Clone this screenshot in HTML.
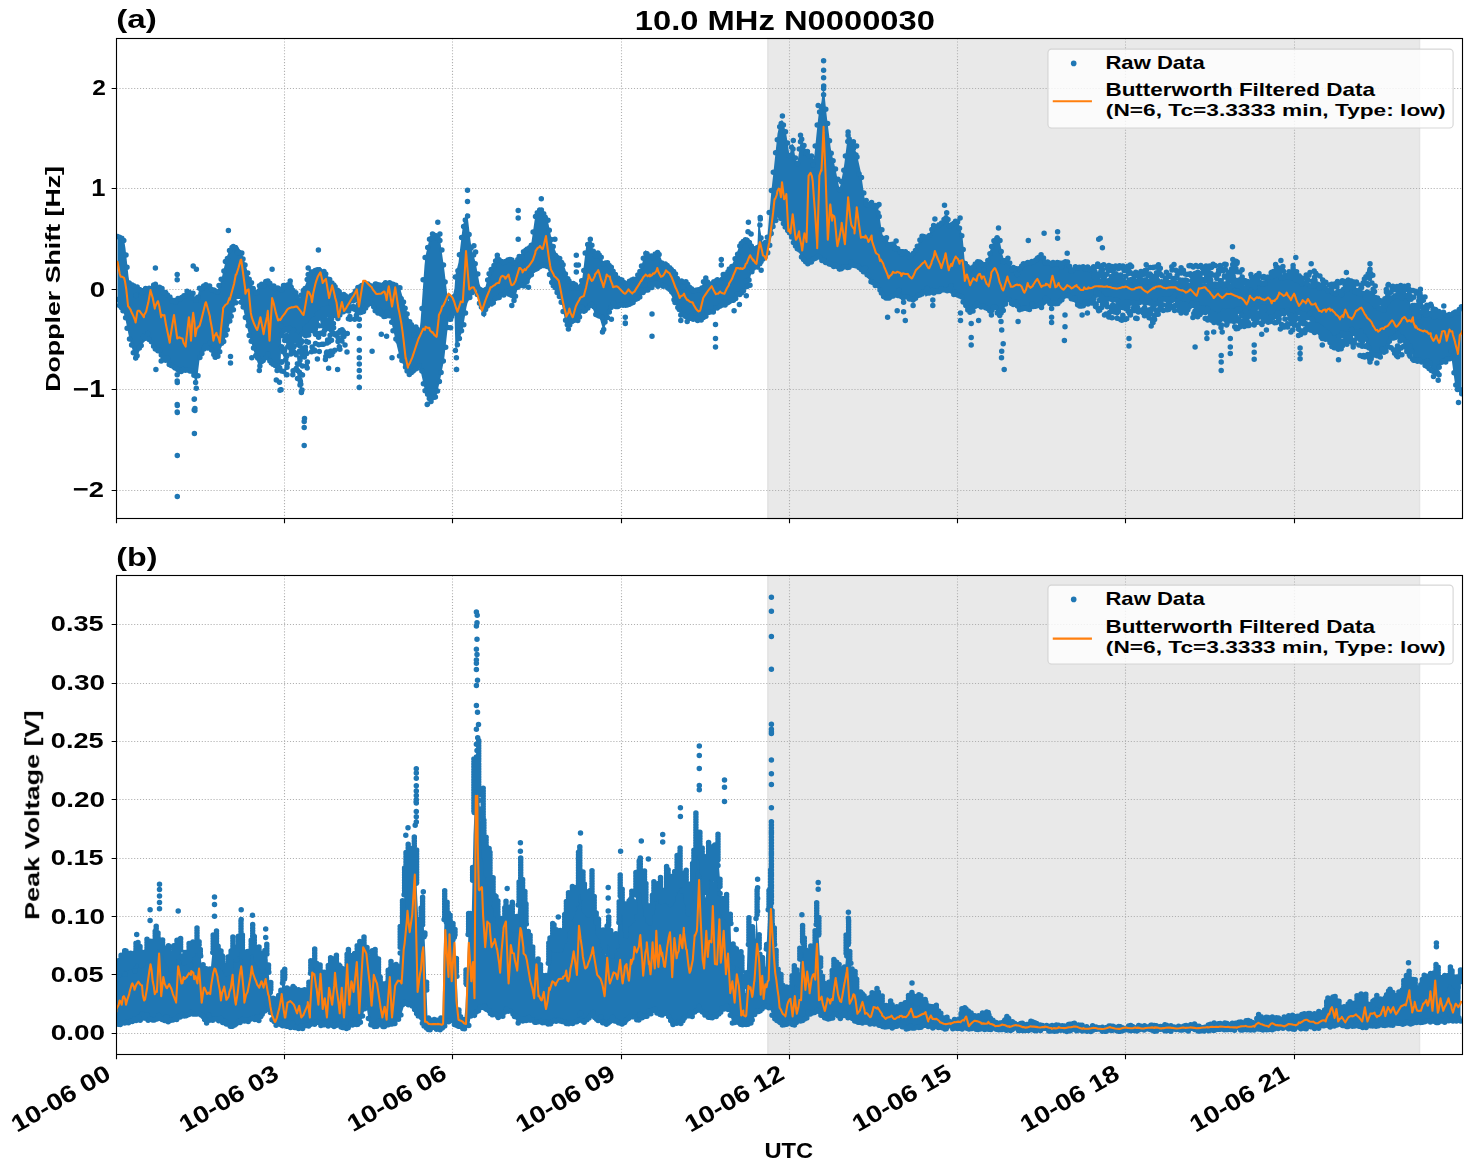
<!DOCTYPE html><html><head><meta charset="utf-8"><title>10.0 MHz N0000030</title><style>html,body{margin:0;padding:0;background:#fff;}svg{display:block;font-family:"Liberation Sans",sans-serif;}</style></head><body><svg width="1472" height="1172" viewBox="0 0 1472 1172"><defs><clipPath id="ca"><rect x="116.5" y="38.5" width="1346.0" height="480.0"/></clipPath><clipPath id="cb"><rect x="116.5" y="575.5" width="1346.0" height="479.0"/></clipPath></defs><rect width="1472" height="1172" fill="#fff"/><rect x="767.7" y="38.5" width="651.9" height="480.0" fill="#d3d3d3" fill-opacity="0.5" stroke="#d3d3d3" stroke-opacity="0.5" stroke-width="1.39"/><rect x="767.7" y="575.5" width="651.9" height="479.0" fill="#d3d3d3" fill-opacity="0.5" stroke="#d3d3d3" stroke-opacity="0.5" stroke-width="1.39"/><path d="M284.5,38.5V518.5M452.5,38.5V518.5M621.5,38.5V518.5M789.5,38.5V518.5M957.5,38.5V518.5M1125.5,38.5V518.5M1294.5,38.5V518.5M116.5,88.5H1462.5M116.5,188.5H1462.5M116.5,289.5H1462.5M116.5,389.5H1462.5M116.5,490.5H1462.5M284.5,575.5V1054.5M452.5,575.5V1054.5M621.5,575.5V1054.5M789.5,575.5V1054.5M957.5,575.5V1054.5M1125.5,575.5V1054.5M1294.5,575.5V1054.5M116.5,1033.5H1462.5M116.5,974.5H1462.5M116.5,916.5H1462.5M116.5,858.5H1462.5M116.5,799.5H1462.5M116.5,741.5H1462.5M116.5,683.5H1462.5M116.5,624.5H1462.5" stroke="#b0b0b0" stroke-width="1.11" stroke-dasharray="1.11,1.83" fill="none"/><g clip-path="url(#ca)"><path d="M117.5,235.7L118.5,235.9L119.5,236.2L120.5,236.4L121.5,236.7L122.5,238.3L123.5,240.3L124.5,242.3L125.5,248.4L126.5,257.7L127.5,266.9L128.5,276.2L129.5,282.7L130.5,283.2L131.5,283.7L132.5,284.2L133.5,284.7L134.5,285.2L135.5,285.7L136.5,286.1L137.5,286.4L138.5,286.7L139.5,287.1L140.5,287.4L141.5,287.7L142.5,288.0L143.5,288.2L144.5,288.3L145.5,288.5L146.5,288.7L147.5,288.8L148.5,288.9L149.5,288.1L150.5,287.2L151.5,286.4L152.5,285.6L153.5,284.7L154.5,283.9L155.5,284.1L156.5,284.8L157.5,285.5L158.5,286.1L159.5,286.8L160.5,287.5L161.5,288.2L162.5,289.2L163.5,290.2L164.5,291.2L165.5,292.2L166.5,293.2L167.5,294.2L168.5,294.9L169.5,295.6L170.5,296.3L171.5,296.9L172.5,297.6L173.5,298.3L174.5,298.6L175.5,298.6L176.5,298.6L177.5,298.6L178.5,298.6L179.5,298.6L180.5,298.4L181.5,297.1L182.5,295.7L183.5,294.4L184.5,293.1L185.5,291.7L186.5,290.4L187.5,290.3L188.5,290.6L189.5,291.0L190.5,291.3L191.5,291.6L192.5,292.0L193.5,293.0L194.5,295.7L195.5,298.4L196.5,300.2L197.5,296.2L198.5,292.2L199.5,288.2L200.5,287.3L201.5,286.6L202.5,286.0L203.5,285.3L204.5,284.6L205.5,284.0L206.5,284.0L207.5,284.7L208.5,285.3L209.5,286.0L210.5,286.7L211.5,287.3L212.5,288.0L213.5,289.0L214.5,290.0L215.5,291.0L216.5,292.0L217.5,290.0L218.5,287.5L219.5,285.0L220.5,282.5L221.5,278.9L222.5,274.5L223.5,270.1L224.5,265.7L225.5,261.3L226.5,257.4L227.5,255.0L228.5,252.6L229.5,250.2L230.5,247.8L231.5,245.4L232.5,245.4L233.5,245.6L234.5,245.7L235.5,245.9L236.5,246.1L237.5,246.2L238.5,247.3L239.5,249.0L240.5,250.8L241.5,252.5L242.5,254.7L243.5,258.0L244.5,261.4L245.5,264.7L246.5,268.0L247.5,271.4L248.5,274.7L249.5,277.5L250.5,280.1L251.5,282.8L252.5,285.5L253.5,288.1L254.5,290.8L255.5,291.5L256.5,290.0L257.5,288.5L258.5,287.0L259.5,285.6L260.5,284.6L261.5,283.6L262.5,282.6L263.5,281.6L264.5,280.6L265.5,279.6L266.5,279.9L267.5,280.6L268.5,281.3L269.5,281.9L270.5,282.6L271.5,283.3L272.5,283.9L273.5,284.6L274.5,285.3L275.5,285.9L276.5,286.6L277.5,287.3L278.5,287.9L279.5,287.9L280.5,287.9L281.5,285.6L282.5,285.4L283.5,285.2L284.5,285.0L285.5,284.8L286.5,284.5L287.5,284.3L288.5,284.1L289.5,283.9L290.5,284.5L291.5,286.0L292.5,287.4L293.5,288.9L294.5,290.4L295.5,291.9L296.5,293.4L297.5,294.9L298.5,296.3L299.5,297.8L300.5,297.3L301.5,294.7L302.5,292.1L303.5,289.5L304.5,286.9L305.5,284.4L306.5,281.8L307.5,279.2L308.5,276.6L309.5,274.0L310.5,272.4L311.5,271.8L312.5,271.2L313.5,270.6L314.5,270.0L315.5,269.3L316.5,268.7L317.5,268.1L318.5,267.5L319.5,266.9L320.5,267.2L321.5,268.5L322.5,269.8L323.5,271.0L324.5,272.3L325.5,273.6L326.5,274.9L327.5,276.2L328.5,277.4L329.5,278.7L330.5,280.0L331.5,281.3L332.5,282.6L333.5,283.8L334.5,285.1L335.5,286.4L336.5,287.7L337.5,288.9L338.5,290.2L339.5,291.5L340.5,292.4L341.5,292.8L342.5,293.2L343.5,293.7L344.5,294.1L345.5,294.5L346.5,294.9L347.5,295.4L348.5,295.8L349.5,296.2L350.5,295.8L351.5,294.5L352.5,293.3L353.5,292.0L354.5,290.7L355.5,289.5L356.5,288.2L357.5,286.9L358.5,285.7L359.5,284.4L360.5,283.6L361.5,283.6L362.5,283.6L363.5,283.6L364.5,283.6L365.5,283.6L366.5,283.6L367.5,283.6L368.5,283.6L369.5,283.6L370.5,283.6L371.5,283.6L372.5,283.6L373.5,283.6L374.5,283.6L375.5,283.6L376.5,283.6L377.5,283.6L378.5,283.6L379.5,283.6L380.5,283.5L381.5,283.3L382.5,283.1L383.5,282.9L384.5,282.7L385.5,282.5L386.5,282.3L387.5,282.1L388.5,281.8L389.5,281.6L390.5,281.8L391.5,282.4L392.5,283.1L393.5,283.7L394.5,284.4L395.5,285.0L396.5,285.6L397.5,286.3L398.5,286.9L399.5,287.6L400.5,289.4L401.5,292.9L402.5,296.4L403.5,299.8L404.5,303.3L405.5,306.8L406.5,310.3L407.5,313.8L408.5,317.2L409.5,320.7L410.5,322.6L411.5,323.4L412.5,324.3L413.5,325.1L414.5,326.0L415.5,326.8L416.5,327.7L417.5,328.5L418.5,329.4L419.5,330.2L420.5,322.1L421.5,307.9L422.5,293.8L423.5,279.6L424.5,265.4L425.5,256.0L426.5,251.6L427.5,247.3L428.5,242.9L429.5,238.6L430.5,236.5L431.5,236.1L432.5,235.8L433.5,235.4L434.5,235.0L435.5,234.7L436.5,235.4L437.5,236.4L438.5,237.4L439.5,238.4L440.5,242.7L441.5,249.7L442.5,256.7L443.5,263.7L444.5,271.1L445.5,279.6L446.5,288.1L447.5,296.6L448.5,304.9L449.5,302.5L450.5,300.1L451.5,297.7L452.5,295.3L453.5,292.9L454.5,288.4L455.5,274.4L456.5,270.4L457.5,266.4L458.5,262.4L459.5,254.1L460.5,245.6L461.5,237.1L462.5,228.6L463.5,223.6L464.5,220.1L465.5,216.6L466.5,213.1L467.5,214.9L468.5,223.4L469.5,231.9L470.5,240.4L471.5,248.0L472.5,251.5L473.5,255.0L474.5,258.5L475.5,262.0L476.5,267.3L477.5,272.8L478.5,278.3L479.5,283.8L480.5,286.7L481.5,288.2L482.5,289.7L483.5,291.2L484.5,290.7L485.5,286.7L486.5,282.7L487.5,278.7L488.5,274.9L489.5,272.9L490.5,270.9L491.5,268.9L492.5,266.9L493.5,264.9L494.5,262.9L495.5,260.9L496.5,258.9L497.5,258.4L498.5,259.1L499.5,259.8L500.5,260.4L501.5,261.1L502.5,261.8L503.5,262.2L504.5,261.5L505.5,260.9L506.5,260.2L507.5,259.5L508.5,258.9L509.5,258.2L510.5,258.8L511.5,259.8L512.5,260.8L513.5,261.8L514.5,261.8L515.5,260.8L516.5,259.8L517.5,258.8L518.5,257.7L519.5,256.2L520.5,254.7L521.5,253.2L522.5,251.7L523.5,251.2L524.5,250.7L525.5,250.2L526.5,249.7L527.5,248.8L528.5,247.8L529.5,246.8L530.5,245.8L531.5,242.0L532.5,235.0L533.5,228.0L534.5,221.0L535.5,215.1L536.5,213.6L537.5,212.1L538.5,210.6L539.5,209.1L540.5,209.5L541.5,210.0L542.5,210.5L543.5,211.0L544.5,212.8L545.5,215.3L546.5,217.8L547.5,220.3L548.5,223.8L549.5,228.8L550.5,233.8L551.5,238.8L552.5,243.5L553.5,246.0L554.5,248.5L555.5,251.0L556.5,253.5L557.5,254.7L558.5,255.7L559.5,256.7L560.5,257.7L561.5,259.6L562.5,262.1L563.5,264.6L564.5,267.1L565.5,269.8L566.5,273.2L567.5,276.5L568.5,279.5L569.5,280.3L570.5,281.1L571.5,281.9L572.5,282.7L573.5,283.5L574.5,284.1L575.5,284.6L576.5,285.1L577.5,285.6L578.5,285.0L579.5,283.5L580.5,282.0L581.5,280.5L582.5,277.0L583.5,268.5L584.5,260.0L585.5,251.5L586.5,243.1L587.5,243.1L588.5,243.1L589.5,243.1L590.5,243.1L591.5,245.0L592.5,247.5L593.5,250.0L594.5,252.5L595.5,253.6L596.5,253.1L597.5,252.6L598.5,252.1L599.5,252.2L600.5,254.7L601.5,257.2L602.5,259.7L603.5,262.2L604.5,262.3L605.5,262.3L606.5,262.3L607.5,262.3L608.5,263.0L609.5,264.0L610.5,265.0L611.5,266.0L612.5,267.4L613.5,269.4L614.5,271.4L615.5,273.4L616.5,275.2L617.5,275.7L618.5,276.2L619.5,276.7L620.5,277.2L621.5,278.6L622.5,280.1L623.5,281.6L624.5,283.1L625.5,281.5L626.5,281.5L627.5,281.5L628.5,281.5L629.5,281.0L630.5,280.5L631.5,280.0L632.5,279.5L633.5,278.7L634.5,277.7L635.5,276.7L636.5,275.7L637.5,274.2L638.5,272.2L639.5,270.2L640.5,268.2L641.5,265.9L642.5,261.9L643.5,257.9L644.5,253.9L645.5,249.9L646.5,250.9L647.5,252.4L648.5,253.9L649.5,255.4L650.5,255.6L651.5,255.1L652.5,254.6L653.5,254.1L654.5,253.6L655.5,253.1L656.5,252.6L657.5,252.1L658.5,251.9L659.5,254.4L660.5,256.9L661.5,259.4L662.5,261.9L663.5,262.7L664.5,263.2L665.5,263.7L666.5,264.2L667.5,265.0L668.5,266.0L669.5,267.0L670.5,268.0L671.5,269.0L672.5,270.0L673.5,271.0L674.5,272.0L675.5,273.1L676.5,275.1L677.5,277.1L678.5,279.1L679.5,281.1L680.5,281.1L681.5,280.6L682.5,280.1L683.5,279.6L684.5,279.9L685.5,280.9L686.5,281.9L687.5,282.9L688.5,283.9L689.5,284.9L690.5,285.9L691.5,286.9L692.5,287.9L693.5,288.4L694.5,288.9L695.5,289.4L696.5,289.9L697.5,289.7L698.5,289.2L699.5,288.7L700.5,288.2L701.5,286.8L702.5,284.3L703.5,281.8L704.5,279.3L705.5,277.5L706.5,279.0L707.5,280.5L708.5,282.0L709.5,283.5L710.5,283.2L711.5,282.7L712.5,282.2L713.5,281.7L714.5,281.2L715.5,280.7L716.5,280.2L717.5,279.7L718.5,279.0L719.5,278.0L720.5,277.0L721.5,276.0L722.5,275.1L723.5,274.6L724.5,274.1L725.5,273.6L726.5,273.1L727.5,271.7L728.5,270.2L729.5,268.7L730.5,267.2L731.5,265.4L732.5,263.4L733.5,261.4L734.5,259.4L735.5,257.0L736.5,254.0L737.5,251.0L738.5,248.0L739.5,245.2L740.5,244.2L741.5,243.2L742.5,242.2L743.5,241.2L744.5,240.2L745.5,239.2L746.5,238.2L747.5,237.2L748.5,238.1L749.5,240.6L750.5,243.1L751.5,245.6L752.5,247.3L753.5,246.8L754.5,246.3L755.5,245.8L756.5,245.2L757.5,244.2L758.5,219.2L759.5,224.9L760.5,230.9L761.5,236.9L762.5,242.9L763.5,244.0L764.5,243.0L765.5,242.0L766.5,241.0L767.5,235.4L768.5,223.9L769.5,212.4L770.5,200.9L771.5,189.8L772.5,180.8L773.5,171.8L774.5,162.3L775.5,152.8L776.5,143.3L777.5,133.8L778.5,129.3L779.5,126.3L780.5,123.3L781.5,120.3L782.5,120.6L783.5,124.1L784.5,127.6L785.5,131.1L786.5,135.4L787.5,142.1L788.5,148.8L789.5,154.9L790.5,150.9L791.5,146.9L792.5,142.9L793.5,147.0L794.5,152.5L795.5,158.0L796.5,163.5L797.5,162.0L798.5,155.5L799.5,149.0L800.5,142.5L801.5,138.8L802.5,141.3L803.5,143.8L804.5,146.3L805.5,148.8L806.5,149.8L807.5,150.8L808.5,151.8L809.5,152.8L810.5,154.2L811.5,155.7L812.5,157.2L813.5,158.7L814.5,154.2L815.5,144.2L816.5,134.2L817.5,124.2L818.5,115.5L819.5,110.9L820.5,106.2L821.5,101.4L822.5,93.4L823.5,85.4L824.5,94.0L825.5,104.0L826.5,114.0L827.5,122.5L828.5,130.5L829.5,138.5L830.5,146.5L831.5,152.7L832.5,156.7L833.5,160.7L834.5,164.7L835.5,168.9L836.5,173.9L837.5,178.9L838.5,183.9L839.5,188.9L840.5,184.6L841.5,179.6L842.5,174.6L843.5,169.6L844.5,162.6L845.5,154.6L846.5,146.6L847.5,138.6L848.5,134.8L849.5,137.3L850.5,139.8L851.5,142.3L852.5,144.7L853.5,146.7L854.5,148.7L855.5,150.7L856.5,152.7L857.5,156.9L858.5,161.4L859.5,165.9L860.5,170.4L861.5,176.4L862.5,183.4L863.5,190.4L864.5,197.4L865.5,202.2L866.5,202.7L867.5,203.2L868.5,203.7L869.5,204.2L870.5,204.2L871.5,204.2L872.5,204.2L873.5,204.2L874.5,204.6L875.5,205.1L876.5,205.6L877.5,206.1L878.5,209.8L879.5,216.3L880.5,222.8L881.5,229.3L882.5,234.4L883.5,235.9L884.5,237.4L885.5,238.9L886.5,240.4L887.5,241.4L888.5,242.4L889.5,243.4L890.5,244.4L891.5,244.3L892.5,243.8L893.5,243.3L894.5,242.8L895.5,243.3L896.5,244.8L897.5,246.3L898.5,247.8L899.5,249.0L900.5,249.0L901.5,249.0L902.5,249.0L903.5,249.0L904.5,249.9L905.5,250.9L906.5,251.9L907.5,252.9L908.5,253.2L909.5,253.2L910.5,253.2L911.5,253.2L912.5,252.8L913.5,251.8L914.5,250.8L915.5,249.8L916.5,248.5L917.5,245.5L918.5,242.5L919.5,239.5L920.5,236.5L921.5,236.2L922.5,236.2L923.5,236.2L924.5,236.2L925.5,236.7L926.5,236.7L927.5,236.7L928.5,236.7L929.5,233.8L930.5,230.8L931.5,227.8L932.5,224.8L933.5,224.3L934.5,224.8L935.5,225.3L936.5,225.8L937.5,225.6L938.5,224.6L939.5,223.6L940.5,222.6L941.5,221.5L942.5,220.0L943.5,218.5L944.5,217.0L945.5,215.5L946.5,217.2L947.5,219.2L948.5,221.2L949.5,223.2L950.5,223.3L951.5,222.3L952.5,221.3L953.5,220.3L954.5,219.9L955.5,220.4L956.5,220.9L957.5,221.4L958.5,222.2L959.5,225.7L960.5,229.2L961.5,232.7L962.5,236.2L963.5,246.9L964.5,258.9L965.5,263.4L966.5,264.9L967.5,266.4L968.5,267.9L969.5,268.5L970.5,268.0L971.5,267.5L972.5,267.0L973.5,266.3L974.5,264.8L975.5,263.3L976.5,261.8L977.5,260.3L978.5,260.2L979.5,260.2L980.5,260.2L981.5,260.2L982.5,260.8L983.5,261.8L984.5,262.8L985.5,263.8L986.5,263.1L987.5,259.6L988.5,256.1L989.5,252.6L990.5,249.2L991.5,246.2L992.5,243.2L993.5,240.2L994.5,237.2L995.5,236.7L996.5,236.7L997.5,236.7L998.5,236.7L999.5,239.7L1000.5,244.7L1001.5,249.7L1002.5,254.7L1003.5,258.1L1004.5,258.1L1005.5,258.1L1006.5,258.1L1007.5,258.2L1008.5,260.2L1009.5,262.2L1010.5,264.2L1011.5,266.2L1012.5,266.6L1013.5,266.6L1014.5,266.6L1015.5,266.6L1016.5,266.6L1017.5,266.6L1018.5,266.6L1019.5,266.6L1020.5,266.3L1021.5,265.3L1022.5,264.3L1023.5,263.3L1024.5,262.3L1025.5,261.8L1026.5,261.3L1027.5,260.8L1028.5,260.3L1029.5,260.6L1030.5,261.1L1031.5,261.6L1032.5,262.1L1033.5,261.9L1034.5,260.9L1035.5,259.9L1036.5,258.9L1037.5,257.9L1038.5,256.9L1039.5,255.9L1040.5,254.9L1041.5,253.9L1042.5,255.2L1043.5,256.7L1044.5,258.2L1045.5,259.7L1046.5,260.5L1047.5,261.0L1048.5,261.5L1049.5,262.0L1050.5,262.3L1051.5,262.3L1052.5,262.3L1053.5,262.3L1054.5,262.3L1055.5,262.3L1056.5,262.3L1057.5,262.3L1058.5,262.3L1059.5,262.3L1060.5,262.3L1061.5,262.3L1062.5,262.3L1063.5,262.0L1064.5,261.5L1065.5,261.0L1066.5,260.5L1067.5,261.1L1068.5,263.6L1069.5,266.1L1070.5,268.6L1071.5,270.8L1072.5,269.8L1073.5,268.8L1074.5,267.8L1075.5,266.8L1076.5,266.6L1077.5,266.6L1078.5,266.6L1079.5,266.6L1080.5,266.6L1081.5,266.6L1082.5,266.6L1083.5,266.6L1084.5,266.6L1085.5,266.6L1086.5,266.6L1087.5,266.6L1088.5,266.6L1089.5,266.6L1090.5,266.6L1091.5,266.6L1092.5,266.6L1093.5,266.6L1094.5,279.4L1095.5,279.4L1096.5,279.4L1097.5,279.4L1098.5,279.4L1099.5,279.4L1100.5,279.4L1101.5,279.4L1102.5,279.4L1103.5,279.4L1104.5,279.4L1105.5,279.4L1106.5,279.4L1107.5,279.4L1108.5,279.4L1109.5,279.4L1110.5,279.4L1111.5,279.4L1112.5,279.4L1113.5,279.4L1114.5,279.4L1115.5,279.4L1116.5,279.4L1117.5,279.4L1118.5,279.4L1119.5,279.4L1120.5,279.4L1121.5,279.4L1122.5,279.4L1123.5,279.4L1124.5,279.4L1125.5,279.4L1126.5,279.4L1127.5,279.4L1128.5,279.4L1129.5,279.4L1130.5,279.4L1131.5,279.4L1132.5,279.4L1133.5,279.4L1134.5,279.4L1135.5,279.4L1136.5,279.4L1137.5,279.4L1138.5,279.4L1139.5,279.4L1140.5,279.4L1141.5,279.4L1142.5,279.4L1143.5,279.4L1144.5,279.4L1145.5,279.4L1146.5,279.4L1147.5,279.4L1148.5,279.4L1149.5,279.4L1150.5,279.4L1151.5,279.4L1152.5,279.4L1153.5,279.4L1154.5,279.4L1155.5,279.4L1156.5,279.4L1157.5,279.4L1158.5,279.4L1159.5,279.7L1160.5,279.9L1161.5,280.2L1162.5,280.4L1163.5,280.7L1164.5,280.9L1165.5,281.2L1166.5,281.4L1167.5,281.5L1168.5,281.5L1169.5,281.5L1170.5,281.5L1171.5,281.5L1172.5,281.5L1173.5,281.5L1174.5,281.5L1175.5,281.6L1176.5,281.8L1177.5,282.1L1178.5,282.3L1179.5,282.6L1180.5,282.8L1181.5,283.1L1182.5,283.3L1183.5,283.6L1184.5,283.6L1185.5,283.6L1186.5,283.6L1187.5,283.6L1188.5,283.6L1189.5,283.6L1190.5,283.6L1191.5,283.6L1192.5,283.6L1193.5,283.6L1194.5,283.6L1195.5,283.6L1196.5,283.6L1197.5,283.6L1198.5,283.6L1199.5,283.6L1200.5,283.6L1201.5,283.6L1202.5,283.6L1203.5,283.6L1204.5,283.6L1205.5,283.6L1206.5,283.6L1207.5,283.6L1208.5,283.6L1209.5,283.6L1210.5,283.6L1211.5,283.6L1212.5,283.6L1213.5,283.6L1214.5,283.6L1215.5,283.6L1216.5,283.6L1217.5,283.6L1218.5,283.6L1219.5,283.6L1220.5,283.6L1221.5,283.6L1222.5,283.6L1223.5,283.6L1224.5,283.6L1225.5,283.6L1226.5,283.6L1227.5,283.6L1228.5,283.6L1229.5,283.6L1230.5,283.6L1231.5,283.6L1232.5,283.6L1233.5,283.6L1234.5,283.6L1235.5,283.9L1236.5,284.4L1237.5,284.9L1238.5,285.4L1239.5,285.9L1240.5,286.4L1241.5,286.9L1242.5,287.4L1243.5,287.9L1244.5,287.4L1245.5,286.9L1246.5,286.4L1247.5,285.9L1248.5,285.4L1249.5,284.9L1250.5,284.4L1251.5,283.9L1252.5,283.5L1253.5,283.3L1254.5,283.0L1255.5,282.8L1256.5,282.5L1257.5,282.3L1258.5,282.0L1259.5,281.8L1260.5,281.5L1261.5,281.3L1262.5,281.1L1263.5,280.9L1264.5,280.6L1265.5,277.2L1266.5,277.2L1267.5,277.2L1268.5,277.2L1269.5,276.8L1270.5,276.3L1271.5,275.8L1272.5,275.3L1273.5,274.8L1274.5,274.3L1275.5,273.8L1276.5,273.3L1277.5,273.1L1278.5,273.3L1279.5,273.6L1280.5,273.8L1281.5,274.1L1282.5,274.3L1283.5,274.6L1284.5,274.8L1285.5,275.1L1286.5,275.3L1287.5,275.6L1288.5,275.8L1289.5,276.1L1290.5,276.3L1291.5,276.6L1292.5,276.8L1293.5,277.1L1294.5,277.4L1295.5,277.9L1296.5,278.4L1297.5,278.9L1298.5,279.4L1299.5,279.9L1300.5,280.4L1301.5,280.9L1302.5,281.4L1303.5,281.7L1304.5,282.0L1305.5,282.2L1306.5,282.5L1307.5,282.7L1308.5,283.0L1309.5,283.2L1310.5,283.5L1311.5,283.6L1312.5,283.6L1313.5,283.6L1314.5,283.6L1315.5,283.6L1316.5,283.6L1317.5,283.6L1318.5,283.6L1319.5,283.6L1320.5,284.0L1321.5,284.5L1322.5,285.0L1323.5,285.5L1324.5,286.0L1325.5,286.5L1326.5,287.0L1327.5,287.5L1328.5,288.0L1329.5,288.5L1330.5,289.0L1331.5,289.5L1332.5,290.0L1333.5,290.5L1334.5,291.0L1335.5,291.5L1336.5,292.0L1337.5,291.8L1338.5,291.3L1339.5,290.8L1340.5,290.3L1341.5,289.8L1342.5,289.3L1343.5,288.8L1344.5,288.3L1345.5,287.9L1346.5,287.6L1347.5,287.4L1348.5,287.1L1349.5,286.9L1350.5,286.6L1351.5,286.4L1352.5,286.1L1353.5,285.9L1354.5,286.3L1355.5,287.0L1356.5,287.8L1357.5,288.5L1358.5,289.3L1359.5,290.0L1360.5,290.8L1361.5,291.5L1362.5,292.3L1363.5,293.3L1364.5,294.3L1365.5,295.3L1366.5,296.3L1367.5,297.3L1368.5,298.3L1369.5,299.3L1370.5,300.3L1371.5,301.3L1372.5,302.3L1373.5,303.3L1374.5,304.3L1375.5,305.1L1376.5,305.6L1377.5,306.1L1378.5,306.6L1379.5,307.1L1380.5,307.6L1381.5,308.1L1382.5,308.6L1383.5,309.1L1384.5,307.6L1385.5,305.6L1386.5,303.6L1387.5,301.6L1388.5,300.2L1389.5,299.2L1390.5,298.2L1391.5,297.2L1392.5,296.3L1393.5,295.8L1394.5,295.3L1395.5,294.8L1396.5,294.3L1397.5,294.8L1398.5,295.3L1399.5,295.8L1400.5,296.3L1401.5,296.1L1402.5,295.6L1403.5,295.1L1404.5,294.6L1405.5,294.6L1406.5,295.1L1407.5,295.6L1408.5,296.1L1409.5,296.7L1410.5,305.1L1411.5,307.1L1412.5,309.1L1413.5,311.1L1414.5,311.3L1415.5,310.8L1416.5,310.3L1417.5,309.8L1418.5,309.8L1419.5,309.8L1420.5,309.8L1421.5,309.9L1422.5,310.4L1423.5,310.9L1424.5,311.4L1425.5,311.6L1426.5,311.6L1427.5,311.6L1428.5,311.6L1429.5,312.3L1430.5,313.3L1431.5,314.3L1432.5,315.3L1433.5,315.4L1434.5,315.4L1435.5,315.4L1436.5,315.3L1437.5,314.8L1438.5,314.3L1439.5,313.8L1440.5,313.3L1441.5,312.8L1442.5,312.3L1443.5,311.8L1444.5,312.0L1445.5,312.5L1446.5,313.0L1447.5,313.5L1448.5,313.5L1449.5,313.5L1450.5,313.5L1451.5,313.5L1452.5,313.0L1453.5,312.5L1454.5,312.0L1455.5,311.3L1456.5,310.3L1457.5,309.3L1458.5,308.3L1459.5,307.5L1460.5,306.9L1461.5,306.3L1461.5,394.1L1460.5,393.5L1459.5,392.9L1458.5,391.8L1457.5,389.8L1456.5,387.8L1455.5,385.8L1454.5,380.5L1453.5,373.0L1452.5,365.5L1451.5,358.0L1450.5,358.1L1449.5,359.6L1448.5,361.1L1447.5,362.5L1446.5,362.5L1445.5,362.5L1444.5,362.5L1443.5,362.8L1442.5,363.8L1441.5,364.8L1440.5,365.8L1439.5,367.7L1438.5,370.2L1437.5,372.7L1436.5,375.2L1435.5,375.2L1434.5,374.7L1433.5,374.2L1432.5,373.5L1431.5,370.5L1430.5,367.5L1429.5,364.5L1428.5,362.5L1427.5,362.5L1426.5,362.5L1425.5,362.5L1424.5,362.5L1423.5,362.5L1422.5,362.5L1421.5,362.5L1420.5,362.5L1419.5,362.5L1418.5,362.5L1417.5,362.5L1416.5,362.5L1415.5,362.5L1414.5,362.5L1413.5,361.0L1412.5,356.0L1411.5,351.0L1410.5,346.0L1409.5,346.8L1408.5,345.6L1407.5,344.6L1406.5,343.6L1405.5,342.6L1404.5,341.6L1403.5,340.6L1402.5,339.6L1401.5,338.6L1400.5,338.0L1399.5,338.5L1398.5,339.0L1397.5,339.5L1396.5,340.0L1395.5,339.5L1394.5,339.0L1393.5,338.5L1392.5,338.0L1391.5,339.3L1390.5,341.3L1389.5,343.3L1388.5,345.3L1387.5,347.1L1386.5,348.6L1385.5,350.1L1384.5,351.6L1383.5,352.9L1382.5,353.4L1381.5,353.9L1380.5,354.4L1379.5,354.9L1378.5,355.4L1377.5,355.9L1376.5,356.4L1375.5,356.9L1374.5,356.7L1373.5,356.2L1372.5,355.7L1371.5,355.2L1370.5,353.9L1369.5,351.4L1368.5,348.9L1367.5,346.4L1366.5,343.9L1365.5,341.4L1364.5,338.9L1363.5,336.4L1362.5,333.9L1361.5,333.6L1360.5,333.6L1359.5,333.6L1358.5,333.6L1357.5,333.6L1356.5,333.6L1355.5,333.6L1354.5,333.6L1353.5,333.7L1352.5,333.9L1351.5,334.2L1350.5,334.4L1349.5,334.7L1348.5,334.9L1347.5,335.2L1346.5,335.4L1345.5,335.7L1344.5,336.3L1343.5,337.1L1342.5,337.8L1341.5,338.6L1340.5,339.3L1339.5,340.1L1338.5,340.8L1337.5,341.6L1336.5,341.9L1335.5,341.2L1334.5,340.4L1333.5,339.7L1332.5,338.9L1331.5,338.2L1330.5,337.4L1329.5,336.7L1328.5,335.9L1327.5,335.2L1326.5,334.4L1325.5,333.7L1324.5,332.9L1323.5,332.2L1322.5,331.4L1321.5,330.7L1320.5,329.9L1319.5,329.1L1318.5,328.1L1317.5,327.1L1316.5,326.1L1315.5,325.1L1314.5,324.1L1313.5,323.1L1312.5,322.1L1311.5,321.1L1310.5,320.3L1309.5,319.5L1308.5,318.8L1307.5,318.0L1306.5,317.3L1305.5,316.5L1304.5,315.8L1303.5,315.0L1302.5,314.4L1301.5,314.7L1300.5,314.9L1299.5,315.2L1298.5,315.4L1297.5,315.7L1296.5,315.9L1295.5,316.2L1294.5,316.4L1293.5,316.4L1292.5,316.1L1291.5,315.9L1290.5,315.6L1289.5,315.4L1288.5,315.1L1287.5,314.9L1286.5,314.6L1285.5,314.4L1284.5,314.7L1283.5,314.9L1282.5,315.2L1281.5,315.4L1280.5,315.7L1279.5,315.9L1278.5,316.2L1277.5,316.4L1276.5,316.7L1275.5,316.9L1274.5,317.2L1273.5,317.4L1272.5,317.7L1271.5,317.9L1270.5,318.2L1269.5,318.4L1268.5,318.7L1267.5,318.4L1266.5,318.2L1265.5,317.9L1264.5,307.1L1263.5,307.3L1262.5,307.6L1261.5,307.8L1260.5,308.1L1259.5,308.6L1258.5,309.1L1257.5,309.6L1256.5,310.1L1255.5,310.6L1254.5,311.1L1253.5,311.6L1252.5,312.1L1251.5,312.6L1250.5,313.1L1249.5,313.6L1248.5,314.1L1247.5,314.6L1246.5,315.1L1245.5,315.6L1244.5,316.1L1243.5,316.5L1242.5,316.0L1241.5,315.5L1240.5,315.0L1239.5,314.5L1238.5,314.0L1237.5,313.5L1236.5,313.0L1235.5,312.5L1234.5,312.3L1233.5,312.3L1232.5,312.3L1231.5,312.3L1230.5,312.3L1229.5,312.3L1228.5,312.3L1227.5,312.3L1226.5,312.3L1225.5,312.8L1224.5,313.3L1223.5,313.8L1222.5,314.3L1221.5,314.8L1220.5,315.3L1219.5,315.8L1218.5,316.3L1217.5,316.3L1216.5,315.8L1215.5,315.3L1214.5,314.8L1213.5,314.3L1212.5,313.8L1211.5,313.3L1210.5,312.8L1209.5,312.3L1208.5,311.8L1207.5,311.3L1206.5,310.8L1205.5,310.3L1204.5,309.8L1203.5,309.3L1202.5,308.8L1201.5,308.3L1200.5,308.0L1199.5,308.0L1198.5,308.0L1197.5,308.0L1196.5,308.0L1195.5,308.0L1194.5,308.0L1193.5,308.0L1192.5,308.0L1191.5,307.8L1190.5,307.5L1189.5,307.3L1188.5,307.0L1187.5,306.8L1186.5,306.5L1185.5,306.3L1184.5,306.0L1183.5,305.7L1182.5,305.2L1181.5,304.7L1180.5,304.2L1179.5,303.7L1178.5,303.2L1177.5,302.7L1176.5,302.2L1175.5,301.7L1174.5,301.4L1173.5,301.2L1172.5,300.9L1171.5,300.7L1170.5,300.4L1169.5,300.2L1168.5,299.9L1167.5,299.7L1166.5,299.6L1165.5,300.1L1164.5,300.6L1163.5,301.1L1162.5,301.6L1161.5,302.1L1160.5,302.6L1159.5,303.1L1158.5,303.6L1157.5,303.9L1156.5,304.2L1155.5,304.4L1154.5,304.7L1153.5,304.9L1152.5,305.2L1151.5,305.4L1150.5,305.7L1149.5,305.8L1148.5,305.6L1147.5,305.3L1146.5,305.1L1145.5,304.8L1144.5,304.6L1143.5,304.3L1142.5,304.1L1141.5,303.8L1140.5,303.7L1139.5,303.7L1138.5,303.7L1137.5,303.7L1136.5,303.7L1135.5,303.7L1134.5,303.7L1133.5,303.7L1132.5,303.7L1131.5,303.7L1130.5,303.7L1129.5,303.7L1128.5,303.7L1127.5,303.7L1126.5,303.7L1125.5,303.7L1124.5,303.7L1123.5,303.6L1122.5,303.3L1121.5,303.1L1120.5,302.8L1119.5,302.6L1118.5,302.3L1117.5,302.1L1116.5,301.8L1115.5,301.6L1114.5,301.3L1113.5,301.1L1112.5,300.8L1111.5,300.6L1110.5,300.3L1109.5,300.1L1108.5,299.8L1107.5,299.6L1106.5,299.3L1105.5,299.1L1104.5,298.8L1103.5,298.6L1102.5,298.3L1101.5,298.1L1100.5,297.8L1099.5,297.6L1098.5,297.3L1097.5,297.1L1096.5,296.8L1095.5,296.6L1094.5,296.3L1093.5,299.5L1092.5,299.7L1091.5,300.7L1090.5,301.7L1089.5,302.7L1088.5,303.7L1087.5,304.2L1086.5,304.7L1085.5,305.2L1084.5,305.7L1083.5,306.2L1082.5,306.7L1081.5,307.2L1080.5,307.7L1079.5,307.6L1078.5,306.6L1077.5,305.6L1076.5,304.6L1075.5,303.6L1074.5,302.6L1073.5,301.6L1072.5,300.6L1071.5,299.6L1070.5,298.6L1069.5,297.6L1068.5,296.6L1067.5,295.6L1066.5,295.9L1065.5,296.9L1064.5,297.9L1063.5,298.9L1062.5,299.9L1061.5,300.9L1060.5,301.9L1059.5,302.9L1058.5,303.7L1057.5,303.7L1056.5,303.7L1055.5,303.7L1054.5,303.7L1053.5,303.7L1052.5,303.7L1051.5,303.7L1050.5,303.7L1049.5,303.7L1048.5,303.7L1047.5,303.7L1046.5,303.7L1045.5,304.1L1044.5,305.1L1043.5,306.1L1042.5,307.1L1041.5,308.0L1040.5,307.5L1039.5,307.0L1038.5,306.5L1037.5,306.0L1036.5,306.3L1035.5,306.8L1034.5,307.3L1033.5,307.8L1032.5,308.3L1031.5,308.8L1030.5,309.3L1029.5,309.8L1028.5,310.0L1027.5,309.5L1026.5,309.0L1025.5,308.5L1024.5,308.0L1023.5,308.5L1022.5,309.0L1021.5,309.5L1020.5,310.0L1019.5,309.8L1018.5,309.3L1017.5,308.8L1016.5,308.3L1015.5,307.5L1014.5,306.5L1013.5,305.5L1012.5,304.5L1011.5,303.5L1010.5,302.5L1009.5,301.5L1008.5,300.5L1007.5,299.5L1006.5,302.3L1005.5,305.3L1004.5,308.3L1003.5,311.3L1002.5,312.9L1001.5,313.9L1000.5,314.9L999.5,315.9L998.5,315.7L997.5,313.7L996.5,311.7L995.5,309.7L994.5,308.1L993.5,309.1L992.5,310.1L991.5,311.1L990.5,312.1L989.5,311.4L988.5,310.4L987.5,309.4L986.5,308.4L985.5,308.0L984.5,308.0L983.5,308.0L982.5,308.0L981.5,307.7L980.5,306.7L979.5,305.7L978.5,304.7L977.5,303.9L976.5,305.9L975.5,307.9L974.5,309.9L973.5,311.9L972.5,312.3L971.5,312.3L970.5,312.3L969.5,312.3L968.5,311.7L967.5,310.7L966.5,309.7L965.5,308.7L964.5,306.9L963.5,302.9L962.5,299.3L961.5,298.3L960.5,297.3L959.5,296.3L958.5,295.3L957.5,295.2L956.5,295.2L955.5,295.2L954.5,295.2L953.5,294.9L952.5,294.4L951.5,293.9L950.5,293.4L949.5,292.9L948.5,292.4L947.5,291.9L946.5,291.4L945.5,291.0L944.5,291.5L943.5,292.0L942.5,292.5L941.5,293.0L940.5,293.1L939.5,293.1L938.5,293.1L937.5,293.1L936.5,293.1L935.5,293.1L934.5,293.1L933.5,293.1L932.5,293.2L931.5,293.7L930.5,294.2L929.5,294.7L928.5,295.2L927.5,295.7L926.5,296.2L925.5,296.7L924.5,293.3L923.5,293.8L922.5,294.3L921.5,294.8L920.5,295.3L919.5,295.8L918.5,296.3L917.5,296.8L916.5,297.3L915.5,298.2L914.5,299.2L913.5,300.2L912.5,301.2L911.5,301.0L910.5,300.0L909.5,299.0L908.5,298.0L907.5,297.5L906.5,298.0L905.5,298.5L904.5,299.0L903.5,299.4L902.5,298.9L901.5,298.4L900.5,297.9L899.5,297.4L898.5,296.9L897.5,296.4L896.5,295.9L895.5,295.4L894.5,295.5L893.5,296.0L892.5,296.5L891.5,297.0L890.5,297.5L889.5,298.0L888.5,298.5L887.5,299.0L886.5,299.5L885.5,298.5L884.5,297.5L883.5,296.5L882.5,295.5L881.5,294.1L880.5,292.6L879.5,291.1L878.5,289.6L877.5,288.4L876.5,287.4L875.5,286.4L874.5,285.4L873.5,284.4L872.5,283.4L871.5,282.4L870.5,281.4L869.5,280.4L868.5,278.9L867.5,277.4L866.5,275.9L865.5,274.4L864.5,273.2L863.5,272.2L862.5,271.2L861.5,270.2L860.5,269.2L859.5,268.2L858.5,267.2L857.5,266.2L856.5,265.4L855.5,265.9L854.5,266.4L853.5,266.9L852.5,267.4L851.5,267.5L850.5,267.5L849.5,267.5L848.5,267.5L847.5,267.8L846.5,268.3L845.5,268.8L844.5,269.3L843.5,269.8L842.5,270.3L841.5,270.8L840.5,271.3L839.5,271.7L838.5,270.7L837.5,269.7L836.5,268.7L835.5,267.7L834.5,267.1L833.5,266.6L832.5,266.1L831.5,265.6L830.5,265.1L829.5,264.6L828.5,264.1L827.5,263.6L826.5,263.1L825.5,262.8L824.5,262.5L823.5,262.1L822.5,261.6L821.5,261.1L820.5,259.8L819.5,258.5L818.5,257.2L817.5,257.2L816.5,257.7L815.5,258.2L814.5,258.7L813.5,259.7L812.5,261.2L811.5,262.7L810.5,264.2L809.5,265.2L808.5,264.7L807.5,264.2L806.5,263.7L805.5,263.2L804.5,261.8L803.5,260.3L802.5,258.8L801.5,257.3L800.5,255.5L799.5,253.5L798.5,251.5L797.5,249.5L796.5,247.7L795.5,246.2L794.5,244.7L793.5,243.2L792.5,241.5L791.5,238.8L790.5,236.2L789.5,233.5L788.5,232.1L787.5,230.8L786.5,229.4L785.5,227.6L784.5,225.6L783.5,223.6L782.5,221.6L781.5,220.1L780.5,219.1L779.5,218.1L778.5,217.1L777.5,216.9L776.5,219.4L775.5,221.9L774.5,224.4L773.5,226.9L772.5,231.8L771.5,236.8L770.5,241.3L769.5,245.8L768.5,250.3L767.5,254.8L766.5,257.4L765.5,258.4L764.5,259.4L763.5,260.4L762.5,261.4L761.5,262.4L760.5,263.4L759.5,264.4L758.5,265.4L757.5,267.5L756.5,267.5L755.5,268.0L754.5,268.5L753.5,269.0L752.5,269.5L751.5,272.5L750.5,276.5L749.5,280.5L748.5,284.5L747.5,287.1L746.5,288.1L745.5,289.1L744.5,290.1L743.5,291.1L742.5,292.1L741.5,293.1L740.5,294.1L739.5,295.1L738.5,296.1L737.5,297.1L736.5,298.1L735.5,299.1L734.5,299.8L733.5,300.3L732.5,300.8L731.5,301.3L730.5,302.0L729.5,303.0L728.5,304.0L727.5,305.0L726.5,305.9L725.5,305.9L724.5,305.9L723.5,305.9L722.5,305.9L721.5,306.3L720.5,306.8L719.5,307.3L718.5,307.8L717.5,308.6L716.5,309.6L715.5,310.6L714.5,311.6L713.5,312.3L712.5,312.3L711.5,312.3L710.5,312.3L709.5,312.3L708.5,313.3L707.5,314.3L706.5,315.3L705.5,316.3L704.5,317.3L703.5,318.3L702.5,319.3L701.5,320.3L700.5,320.8L699.5,320.8L698.5,320.8L697.5,320.8L696.5,320.8L695.5,320.8L694.5,320.8L693.5,320.8L692.5,320.8L691.5,320.3L690.5,319.8L689.5,319.3L688.5,318.8L687.5,318.3L686.5,317.8L685.5,317.3L684.5,316.8L683.5,316.1L682.5,315.1L681.5,314.1L680.5,313.1L679.5,311.8L678.5,309.8L677.5,307.8L676.5,305.8L675.5,303.8L674.5,301.8L673.5,299.8L672.5,297.8L671.5,295.8L670.5,294.2L669.5,292.7L668.5,291.2L667.5,289.7L666.5,288.6L665.5,288.1L664.5,287.6L663.5,287.1L662.5,286.7L661.5,286.7L660.5,286.7L659.5,286.7L658.5,286.7L657.5,286.7L656.5,286.7L655.5,286.7L654.5,286.7L653.5,287.0L652.5,287.5L651.5,288.0L650.5,288.5L649.5,289.0L648.5,289.5L647.5,290.0L646.5,290.5L645.5,291.0L644.5,292.0L643.5,293.0L642.5,294.0L641.5,295.0L640.5,296.0L639.5,297.0L638.5,298.0L637.5,299.0L636.5,300.0L635.5,301.0L634.5,302.0L633.5,303.0L632.5,303.9L631.5,304.4L630.5,304.9L629.5,305.4L628.5,305.9L627.5,306.4L626.5,306.9L625.5,307.4L624.5,305.9L623.5,305.9L622.5,305.9L621.5,305.9L620.5,305.9L619.5,306.4L618.5,306.9L617.5,307.4L616.5,307.9L615.5,308.0L614.5,308.0L613.5,308.0L612.5,308.0L611.5,309.2L610.5,311.2L609.5,313.2L608.5,315.2L607.5,317.6L606.5,321.1L605.5,324.6L604.5,328.1L603.5,331.3L602.5,327.8L601.5,324.3L600.5,320.8L599.5,317.3L598.5,316.1L597.5,315.6L596.5,315.1L595.5,314.6L594.5,313.1L593.5,310.6L592.5,308.1L591.5,305.6L590.5,304.1L589.5,305.6L588.5,307.1L587.5,308.6L586.5,310.1L585.5,310.6L584.5,311.1L583.5,311.6L582.5,312.1L581.5,313.7L580.5,315.7L579.5,317.7L578.5,319.7L577.5,320.8L576.5,320.8L575.5,320.8L574.5,320.8L573.5,321.0L572.5,322.2L571.5,323.4L570.5,324.6L569.5,325.8L568.5,327.0L567.5,325.5L566.5,323.5L565.5,321.5L564.5,317.5L563.5,312.5L562.5,307.5L561.5,302.5L560.5,298.7L559.5,296.7L558.5,294.7L557.5,292.7L556.5,290.8L555.5,289.8L554.5,288.8L553.5,287.8L552.5,286.8L551.5,283.2L550.5,279.2L549.5,275.2L548.5,271.2L547.5,269.0L546.5,268.0L545.5,267.0L544.5,266.0L543.5,265.5L542.5,266.0L541.5,266.5L540.5,267.0L539.5,267.5L538.5,268.0L537.5,268.5L536.5,269.0L535.5,269.5L534.5,271.2L533.5,273.2L532.5,275.2L531.5,277.2L530.5,279.0L529.5,280.5L528.5,282.0L527.5,283.5L526.5,284.7L525.5,285.2L524.5,285.7L523.5,286.2L522.5,286.7L521.5,286.7L520.5,286.7L519.5,286.7L518.5,286.7L517.5,289.3L516.5,292.8L515.5,296.3L514.5,299.8L513.5,300.9L512.5,299.4L511.5,297.9L510.5,296.4L509.5,295.2L508.5,295.2L507.5,295.2L506.5,295.2L505.5,295.2L504.5,295.2L503.5,295.2L502.5,295.8L501.5,296.4L500.5,297.1L499.5,297.8L498.5,298.4L497.5,299.1L496.5,299.9L495.5,300.9L494.5,301.9L493.5,302.9L492.5,303.8L491.5,304.3L490.5,304.8L489.5,305.3L488.5,305.8L487.5,308.5L486.5,311.5L485.5,314.5L484.5,317.5L483.5,316.8L482.5,313.8L481.5,310.8L480.5,307.8L479.5,304.3L478.5,299.8L477.5,295.3L476.5,290.8L475.5,286.9L474.5,288.9L473.5,290.9L472.5,292.9L471.5,294.9L470.5,296.9L469.5,298.9L468.5,300.9L467.5,302.9L466.5,307.1L465.5,313.1L464.5,319.1L463.5,325.1L462.5,330.2L461.5,333.2L460.5,336.2L459.5,339.2L458.5,342.2L457.5,345.2L456.5,348.2L455.5,351.2L454.5,315.3L453.5,316.8L452.5,317.6L451.5,318.4L450.5,319.2L449.5,320.0L448.5,320.8L447.5,329.6L446.5,338.6L445.5,347.6L444.5,356.6L443.5,362.8L442.5,367.8L441.5,372.8L440.5,377.8L439.5,382.5L438.5,387.0L437.5,391.5L436.5,396.0L435.5,399.7L434.5,399.7L433.5,399.7L432.5,399.7L431.5,399.7L430.5,399.7L429.5,399.0L428.5,397.2L427.5,395.5L426.5,393.8L425.5,392.0L424.5,388.8L423.5,384.2L422.5,379.6L421.5,375.0L420.5,370.5L419.5,368.1L418.5,368.9L417.5,369.8L416.5,370.6L415.5,371.5L414.5,372.3L413.5,373.2L412.5,374.0L411.5,374.9L410.5,375.7L409.5,375.6L408.5,373.9L407.5,372.1L406.5,370.4L405.5,368.6L404.5,366.9L403.5,365.2L402.5,363.4L401.5,361.7L400.5,359.9L399.5,356.8L398.5,352.5L397.5,348.3L396.5,344.0L395.5,339.7L394.5,335.5L393.5,331.2L392.5,327.0L391.5,322.7L390.5,318.5L389.5,316.5L388.5,316.5L387.5,316.5L386.5,316.5L385.5,316.5L384.5,316.5L383.5,316.5L382.5,316.5L381.5,316.5L380.5,316.5L379.5,315.9L378.5,314.6L377.5,313.3L376.5,312.0L375.5,310.8L374.5,309.5L373.5,308.2L372.5,306.9L371.5,305.7L370.5,304.4L369.5,304.4L368.5,305.7L367.5,306.9L366.5,308.2L365.5,309.5L364.5,310.8L363.5,312.0L362.5,313.3L361.5,314.6L360.5,315.9L359.5,302.2L358.5,302.2L357.5,302.2L356.5,302.2L355.5,302.2L354.5,302.2L353.5,302.2L352.5,302.2L351.5,302.2L350.5,302.2L349.5,302.4L348.5,302.6L347.5,302.9L346.5,303.1L345.5,303.3L344.5,303.6L343.5,303.8L342.5,304.0L341.5,304.3L340.5,304.5L339.5,304.9L338.5,305.3L337.5,305.8L336.5,306.3L335.5,306.7L334.5,307.2L333.5,307.6L332.5,308.1L331.5,308.6L330.5,309.0L329.5,309.5L328.5,310.0L327.5,310.5L326.5,311.0L325.5,311.5L324.5,312.0L323.5,312.5L322.5,313.0L321.5,313.5L320.5,314.0L319.5,314.8L318.5,315.8L317.5,316.8L316.5,317.8L315.5,318.8L314.5,319.8L313.5,320.8L312.5,321.8L311.5,322.8L310.5,323.8L309.5,325.0L308.5,326.4L307.5,327.9L306.5,329.4L305.5,330.8L304.5,332.3L303.5,333.7L302.5,335.2L301.5,336.7L300.5,338.1L299.5,338.6L298.5,338.1L297.5,337.6L296.5,337.1L295.5,336.6L294.5,336.2L293.5,335.7L292.5,335.2L291.5,334.7L290.5,334.2L289.5,333.7L288.5,333.3L287.5,332.9L286.5,332.5L285.5,332.1L284.5,331.7L283.5,331.3L282.5,330.9L281.5,330.5L280.5,369.3L279.5,370.6L278.5,372.0L277.5,370.7L276.5,369.3L275.5,368.0L274.5,366.7L273.5,365.3L272.5,364.0L271.5,363.1L270.5,362.4L269.5,361.7L268.5,361.1L267.5,360.4L266.5,359.7L265.5,359.4L264.5,360.8L263.5,362.1L262.5,363.4L261.5,364.8L260.5,366.1L259.5,367.4L258.5,365.4L257.5,362.4L256.5,359.4L255.5,356.4L254.5,353.2L253.5,349.9L252.5,346.5L251.5,343.2L250.5,339.9L249.5,336.5L248.5,333.0L247.5,328.4L246.5,323.7L245.5,319.0L244.5,314.4L243.5,309.7L242.5,305.0L241.5,302.3L240.5,300.3L239.5,298.3L238.5,296.3L237.5,296.7L236.5,300.1L235.5,303.4L234.5,306.7L233.5,310.1L232.5,313.4L231.5,316.8L230.5,320.4L229.5,324.0L228.5,327.6L227.5,331.2L226.5,334.8L225.5,337.5L224.5,339.9L223.5,342.3L222.5,344.7L221.5,347.1L220.5,349.6L219.5,352.4L218.5,355.1L217.5,357.9L216.5,360.0L215.5,358.3L214.5,356.5L213.5,354.8L212.5,353.0L211.5,352.2L210.5,351.5L209.5,350.9L208.5,350.2L207.5,349.5L206.5,348.9L205.5,349.3L204.5,351.0L203.5,352.6L202.5,354.3L201.5,356.0L200.5,357.6L199.5,359.8L198.5,368.1L197.5,376.4L196.5,384.8L195.5,382.6L194.5,379.0L193.5,375.3L192.5,373.7L191.5,373.0L190.5,372.3L189.5,371.7L188.5,371.0L187.5,370.3L186.5,369.9L185.5,370.3L184.5,370.6L183.5,370.9L182.5,371.3L181.5,371.6L180.5,371.9L179.5,371.4L178.5,370.7L177.5,370.1L176.5,369.4L175.5,368.7L174.5,368.1L173.5,367.4L172.5,366.7L171.5,366.1L170.5,365.4L169.5,364.7L168.5,364.1L167.5,363.3L166.5,362.0L165.5,360.7L164.5,359.3L163.5,358.0L162.5,356.7L161.5,355.3L160.5,354.2L159.5,353.2L158.5,352.2L157.5,351.2L156.5,350.2L155.5,349.2L154.5,348.0L153.5,346.4L152.5,344.7L151.5,343.0L150.5,341.4L149.5,339.7L148.5,338.0L147.5,338.7L146.5,339.7L145.5,340.7L144.5,341.7L143.5,342.7L142.5,343.7L141.5,345.6L140.5,348.2L139.5,350.9L138.5,353.6L137.5,356.2L136.5,358.9L135.5,361.0L134.5,357.3L133.5,353.7L132.5,350.0L131.5,346.3L130.5,342.7L129.5,339.0L128.5,334.4L127.5,329.4L126.5,324.4L125.5,319.4L124.5,315.4L123.5,312.7L122.5,310.1L121.5,307.8L120.5,306.8L119.5,305.8L118.5,304.8L117.5,303.8Z" fill="#1f77b4"/><path d="M228.4,230.4h0M155.4,268.1h0M177.2,404.6h0M177.2,412.1h0M194.2,399.3h0M194.2,409.9h0M155.9,369.4h0M177.2,381.1h0M177.2,374.7h0M280.6,389.7h0M272.1,269.2h0M193.2,266.0h0M196.4,269.2h0M161.2,360.9h0M230.5,363.0h0M230.5,356.6h0M251.8,357.7h0M259.3,370.5h0M276.3,380.1h0M279.5,382.2h0M287.0,374.7h0M287.0,367.3h0M177.2,274.5h0M177.2,279.8h0M318.4,250.0h0M308.2,268.1h0M308.2,274.5h0M290.2,280.9h0M359.3,310.8h0M359.3,319.3h0M359.3,325.7h0M359.3,338.5h0M359.3,350.2h0M359.3,357.7h0M359.3,364.1h0M359.3,370.5h0M359.3,376.9h0M359.3,387.5h0M328.6,368.3h0M337.6,369.4h0M301.3,391.8h0M304.5,418.5h0M286.4,374.7h0M292.8,374.7h0M281.1,389.7h0M437.8,222.2h0M432.5,234.0h0M439.9,234.0h0M372.1,351.3h0M381.3,334.2h0M386.6,336.3h0M392.0,357.7h0M450.6,319.3h0M450.6,327.8h0M456.6,369.4h0M427.2,404.6h0M467.5,190.3h0M467.5,201.6h0M518.2,210.5h0M518.2,218.0h0M518.2,239.3h0M541.3,198.8h0M554.9,239.3h0M590.3,239.3h0M576.3,255.3h0M576.3,264.9h0M578.4,264.9h0M576.3,271.9h0M497.3,255.3h0M473.9,245.7h0M475.6,252.1h0M456.4,369.4h0M456.4,357.7h0M568.4,328.9h0M602.5,332.1h0M611.4,319.3h0M625.3,317.2h0M625.3,323.1h0M511.8,305.4h0M528.5,287.3h0M625.3,317.2h0M625.3,323.6h0M652.0,314.0h0M652.0,336.3h0M680.8,315.0h0M680.8,320.4h0M687.2,321.4h0M715.5,324.6h0M715.5,338.5h0M715.5,347.0h0M721.3,259.6h0M721.3,264.9h0M734.1,310.8h0M739.4,304.4h0M746.3,295.8h0M748.4,222.2h0M748.0,231.8h0M760.3,219.1h0M761.2,270.2h0M823.6,60.7h0M823.6,70.3h0M823.6,77.7h0M823.6,88.4h0M823.6,94.8h0M818.2,105.4h0M782.4,116.1h0M800.5,135.3h0M800.5,141.7h0M793.3,140.6h0M848.1,132.1h0M848.1,135.3h0M853.4,141.7h0M856.6,146.0h0M866.2,200.4h0M871.6,202.5h0M879.0,204.6h0M878.0,213.1h0M886.5,237.7h0M896.1,240.9h0M760.2,217.4h0M887.6,317.2h0M897.2,310.8h0M903.6,311.8h0M905.3,320.4h0M903.6,302.2h0M913.1,305.4h0M750.0,285.2h0M751.1,234.0h0M944.5,205.2h0M934.9,219.1h0M946.7,212.7h0M960.1,218.0h0M998.5,228.0h0M1044.1,233.3h0M1057.6,231.8h0M1057.6,238.2h0M1028.3,240.4h0M1067.2,253.2h0M1098.7,239.3h0M932.8,300.1h0M932.8,305.4h0M960.5,312.9h0M960.5,320.4h0M971.2,323.6h0M971.2,337.4h0M971.2,344.9h0M978.6,320.4h0M991.4,315.0h0M1001.0,321.4h0M1001.7,329.9h0M1003.2,343.8h0M1001.7,351.3h0M1001.5,357.7h0M1004.2,369.4h0M1018.1,321.4h0M1051.6,308.6h0M1051.6,317.2h0M1051.6,322.5h0M1065.0,315.0h0M1065.0,326.7h0M1064.4,340.6h0M1082.1,315.0h0M1087.4,312.9h0M1098.7,310.8h0M1100.2,238.2h0M1102.4,247.8h0M1232.5,246.8h0M1129.0,338.5h0M1129.0,345.9h0M1195.1,347.0h0M1206.9,333.1h0M1206.9,338.5h0M1221.2,355.5h0M1221.2,361.9h0M1221.2,370.5h0M1230.3,338.5h0M1230.3,347.0h0M1230.3,353.4h0M1254.2,344.9h0M1254.2,352.3h0M1254.2,359.2h0M1235.0,326.7h0M1222.2,332.1h0M1213.7,332.1h0M1280.9,260.6h0M1295.8,257.4h0M1311.2,263.8h0M1370.0,263.8h0M1370.0,269.2h0M1346.4,272.4h0M1374.5,291.6h0M1388.0,285.2h0M1420.4,289.4h0M1420.4,295.8h0M1300.1,348.1h0M1300.1,353.4h0M1300.1,358.7h0M1338.5,359.8h0M1353.2,341.7h0M1353.2,347.0h0M1370.0,361.9h0M1376.9,363.0h0M1396.5,355.5h0M1396.5,350.2h0M1280.3,328.9h0M1261.7,334.2h0M1266.4,329.9h0M1290.9,332.1h0M1298.4,328.9h0M1310.3,329.9h0M1322.3,344.9h0M1388.4,284.5h0M1400.7,285.4h0M1408.2,285.4h0M1420.4,289.2h0M1420.4,296.7h0M1430.7,304.2h0M1443.8,306.1h0M1397.8,350.2h0M1397.8,356.8h0M1458.5,402.4h0M1438.2,380.2h0M1433.5,376.5h0M177.3,382.4h0M177.3,405.4h0M177.3,412.6h0M177.3,455.4h0M177.3,496.5h0M194.4,399.0h0M194.9,408.5h0M194.9,410.4h0M194.4,433.5h0M196.3,388.3h0M280.0,390.2h0M301.4,392.4h0M304.2,421.6h0M304.2,427.6h0M304.2,445.4h0M359.2,387.6h0M427.4,404.3h0M431.0,401.4h0M429.8,397.8h0M300.0,375.0h0M300.0,380.0h0M300.0,385.0h0M302.0,390.0h0M345.0,345.0h0M347.0,352.0h0M282.8,335.5h0M282.2,347.9h0M281.6,346.7h0M281.7,334.2h0M281.7,362.3h0M283.4,352.0h0M281.6,371.0h0M281.7,335.4h0M281.9,361.7h0M283.6,349.0h0M284.9,337.5h0M284.7,340.4h0M285.1,340.0h0M284.6,350.2h0M283.7,371.4h0M285.8,359.3h0M286.8,335.5h0M286.7,356.3h0M287.4,363.7h0M285.6,354.8h0M288.8,344.1h0M287.8,346.8h0M289.0,336.5h0M288.3,340.0h0M288.6,346.4h0M290.2,346.0h0M290.0,339.2h0M290.7,348.6h0M290.3,337.0h0M291.4,351.8h0M290.9,354.1h0M293.1,370.8h0M291.7,346.9h0M291.9,338.4h0M291.6,344.9h0M291.7,339.8h0M293.2,338.0h0M292.2,342.2h0M295.2,340.3h0M293.7,351.7h0M294.0,346.3h0M295.4,339.0h0M294.6,340.8h0M295.5,353.6h0M293.8,347.1h0M296.2,368.6h0M297.5,370.5h0M296.2,354.8h0M296.1,340.0h0M297.4,363.7h0M297.5,378.5h0M298.0,344.8h0M298.7,344.4h0M299.1,363.5h0M299.3,363.9h0M299.1,343.7h0M299.4,372.2h0M299.4,351.3h0M299.8,342.5h0M301.5,374.4h0M299.8,358.3h0M300.8,384.2h0M300.4,381.6h0M300.1,345.9h0M300.0,360.2h0M301.3,342.6h0M302.7,350.1h0M302.5,375.0h0M301.5,353.0h0M301.5,340.8h0M303.0,350.8h0M302.6,352.8h0M302.0,354.8h0M302.5,366.0h0M304.5,353.1h0M304.4,357.0h0M305.4,347.2h0M305.4,350.6h0M306.4,333.4h0M305.6,335.8h0M306.8,353.5h0M307.4,362.0h0M306.3,365.9h0M307.2,368.0h0M306.5,341.6h0M308.1,331.7h0M308.4,342.2h0M308.7,334.9h0M309.5,329.6h0M307.6,333.2h0M308.3,330.5h0M311.3,328.0h0M310.9,326.8h0M311.4,327.0h0M311.6,351.8h0M312.6,330.7h0M312.6,325.8h0M311.8,325.5h0M312.1,327.2h0M312.1,347.1h0M312.2,326.7h0M311.5,328.3h0M315.4,334.1h0M314.4,350.1h0M314.3,351.0h0M315.5,343.4h0M314.9,350.9h0M313.6,329.5h0M315.0,323.0h0M313.7,324.6h0M316.1,324.7h0M316.4,322.6h0M317.4,359.1h0M317.4,324.8h0M315.5,328.4h0M316.5,333.0h0M315.5,334.2h0M316.3,321.4h0M318.1,318.6h0M318.6,337.2h0M319.5,325.8h0M318.8,344.8h0M319.3,351.5h0M320.5,333.2h0M319.8,316.9h0M321.2,318.0h0M323.1,315.8h0M322.8,332.8h0M322.0,344.2h0M323.0,321.3h0M323.5,344.3h0M322.5,325.7h0M322.0,317.9h0M323.5,333.5h0M324.8,320.4h0M324.4,330.8h0M325.3,316.3h0M325.4,359.4h0M325.1,328.1h0M323.9,320.4h0M323.8,334.2h0M325.8,356.6h0M326.9,352.0h0M326.5,352.7h0M326.5,313.8h0M325.8,320.6h0M327.2,321.1h0M327.2,343.0h0M326.9,354.7h0M326.3,323.3h0M328.1,324.7h0M329.2,313.9h0M328.0,354.4h0M327.9,328.6h0M329.3,355.8h0M327.6,340.1h0M328.8,342.1h0M329.4,313.1h0M330.2,325.7h0M331.5,340.3h0M330.1,335.3h0M329.8,314.4h0M330.5,351.3h0M331.5,351.3h0M329.9,313.8h0M329.7,320.1h0M330.6,317.1h0M330.5,323.1h0M331.6,319.0h0M331.8,354.7h0M333.2,332.9h0M332.0,316.6h0M333.4,323.5h0M332.9,311.0h0M331.5,330.6h0M333.2,351.8h0M333.8,311.3h0M335.4,334.9h0M333.6,327.7h0M334.8,350.3h0M334.0,311.6h0M334.5,310.6h0M336.7,313.2h0M336.4,315.8h0M336.0,313.5h0M336.5,309.1h0M336.8,314.3h0M336.2,309.2h0M337.9,333.0h0M339.4,311.7h0M338.0,341.5h0M338.1,337.7h0M337.9,311.2h0M339.4,332.0h0M337.9,318.4h0M337.6,308.5h0M339.3,346.8h0M341.4,310.3h0M340.3,330.5h0M339.8,314.9h0M340.2,313.1h0M339.9,349.3h0M341.1,339.8h0M340.4,307.6h0M341.9,341.1h0M341.6,339.8h0M343.0,334.9h0M341.6,307.0h0M343.3,331.4h0M343.4,311.7h0M342.1,329.8h0M343.0,306.8h0M344.5,309.6h0M344.4,310.0h0M343.9,336.4h0M346.2,310.5h0M347.0,308.0h0M345.6,306.2h0M347.3,333.6h0M347.7,305.8h0M348.4,318.8h0M348.7,311.1h0M350.1,319.2h0M349.9,316.6h0M349.8,307.0h0M353.5,308.8h0M353.1,306.6h0M355.1,309.5h0M353.7,307.1h0M354.7,319.2h0M356.4,315.2h0M357.4,313.6h0M356.7,310.6h0M357.8,307.2h0M358.7,306.2h0M358.2,305.0h0M1091.9,303.1h0M1093.7,276.5h0M1094.8,271.5h0M1094.9,275.9h0M1094.1,274.9h0M1094.2,302.8h0M1095.5,306.4h0M1097.0,275.6h0M1097.3,276.6h0M1096.3,266.5h0M1095.5,275.9h0M1096.2,304.6h0M1098.1,276.0h0M1097.7,264.0h0M1099.4,266.5h0M1099.4,276.1h0M1099.4,300.2h0M1098.7,310.5h0M1097.9,308.4h0M1101.2,266.0h0M1100.3,275.4h0M1099.7,273.6h0M1101.3,268.3h0M1101.0,271.1h0M1099.7,310.2h0M1102.7,273.3h0M1102.4,269.8h0M1102.7,276.6h0M1103.0,275.3h0M1102.4,301.9h0M1102.4,301.6h0M1102.5,304.7h0M1101.7,307.5h0M1104.5,276.5h0M1103.8,264.8h0M1104.5,314.9h0M1107.4,268.2h0M1107.0,274.3h0M1106.0,314.0h0M1107.3,306.8h0M1106.5,303.8h0M1105.9,302.2h0M1108.9,265.6h0M1107.7,268.3h0M1108.2,270.7h0M1108.8,317.1h0M1110.0,268.1h0M1110.4,268.7h0M1109.6,312.6h0M1111.5,310.5h0M1111.6,276.6h0M1112.4,271.0h0M1111.8,266.4h0M1111.5,270.4h0M1111.7,306.6h0M1112.7,305.0h0M1112.4,311.0h0M1112.0,317.7h0M1114.8,276.3h0M1113.5,275.2h0M1114.4,312.1h0M1115.6,266.0h0M1116.0,273.7h0M1115.5,268.3h0M1116.7,305.8h0M1117.1,312.7h0M1116.1,307.1h0M1117.1,318.3h0M1119.0,266.7h0M1118.4,268.6h0M1118.0,276.3h0M1119.0,308.0h0M1118.4,311.5h0M1120.8,275.0h0M1119.5,265.7h0M1121.0,275.3h0M1120.2,319.0h0M1120.8,319.7h0M1122.9,266.1h0M1122.6,268.3h0M1122.7,307.5h0M1121.8,320.3h0M1123.4,306.5h0M1121.6,306.8h0M1122.8,315.2h0M1124.2,270.5h0M1125.3,319.6h0M1123.7,307.8h0M1125.1,319.1h0M1125.7,276.3h0M1126.3,309.0h0M1126.1,308.3h0M1127.4,309.1h0M1126.7,318.8h0M1128.4,273.4h0M1128.6,269.1h0M1127.7,266.2h0M1127.9,306.5h0M1128.5,311.4h0M1130.2,272.5h0M1130.1,265.0h0M1130.5,314.9h0M1129.7,313.7h0M1132.3,273.8h0M1131.6,266.5h0M1133.3,308.2h0M1133.3,309.5h0M1132.6,310.7h0M1133.8,274.6h0M1135.0,310.1h0M1135.3,310.4h0M1134.1,307.4h0M1136.0,276.0h0M1135.8,272.3h0M1137.5,307.4h0M1135.7,318.2h0M1137.1,318.6h0M1138.8,275.7h0M1138.3,275.7h0M1139.1,273.8h0M1138.4,312.0h0M1138.3,311.6h0M1141.0,271.6h0M1140.9,275.5h0M1142.8,274.7h0M1143.1,273.6h0M1142.4,309.8h0M1143.4,313.1h0M1145.1,270.4h0M1145.4,272.7h0M1143.8,272.0h0M1144.6,307.7h0M1144.5,315.7h0M1147.4,273.7h0M1146.3,270.0h0M1146.2,264.7h0M1146.3,309.9h0M1146.3,312.0h0M1145.9,309.8h0M1149.1,275.6h0M1147.8,275.6h0M1148.0,316.0h0M1149.1,317.7h0M1150.6,274.9h0M1150.2,267.5h0M1150.0,274.1h0M1149.5,309.8h0M1150.1,310.5h0M1150.8,313.5h0M1151.2,326.0h0M1153.3,267.6h0M1152.8,267.5h0M1153.4,276.6h0M1151.8,308.4h0M1152.2,319.4h0M1153.1,322.6h0M1152.7,322.3h0M1154.6,315.6h0M1154.6,319.5h0M1153.8,308.9h0M1156.4,276.5h0M1156.5,272.7h0M1155.5,267.0h0M1156.8,311.8h0M1157.4,310.0h0M1156.8,312.9h0M1158.9,271.2h0M1158.5,264.8h0M1157.6,266.4h0M1158.2,314.3h0M1159.0,310.0h0M1160.3,274.0h0M1160.3,268.2h0M1160.5,306.6h0M1162.1,275.7h0M1163.3,310.4h0M1162.1,304.4h0M1163.3,305.1h0M1166.4,272.3h0M1165.6,277.9h0M1167.1,309.7h0M1168.3,276.8h0M1168.8,275.4h0M1167.6,306.6h0M1168.7,309.6h0M1168.3,302.7h0M1169.7,275.3h0M1169.5,303.6h0M1169.7,308.1h0M1171.8,266.7h0M1172.0,269.9h0M1173.0,278.6h0M1172.9,307.8h0M1174.0,264.4h0M1174.8,278.7h0M1175.0,305.4h0M1174.5,310.6h0M1174.6,305.8h0M1175.8,270.2h0M1176.8,270.9h0M1177.1,275.5h0M1177.4,305.0h0M1179.5,272.2h0M1179.3,308.0h0M1178.7,310.3h0M1180.0,280.1h0M1181.1,273.0h0M1181.1,267.7h0M1181.1,313.1h0M1182.6,280.2h0M1183.4,270.2h0M1182.9,311.5h0M1182.0,308.6h0M1185.1,280.6h0M1185.3,274.0h0M1184.7,311.3h0M1183.9,309.4h0M1186.3,274.3h0M1185.6,280.1h0M1186.8,280.4h0M1186.2,313.1h0M1185.6,309.3h0M1188.0,274.2h0M1189.0,265.8h0M1187.9,309.8h0M1187.6,310.0h0M1191.3,265.8h0M1190.3,273.7h0M1190.0,265.5h0M1191.8,276.3h0M1192.0,280.8h0M1193.3,266.9h0M1192.9,317.6h0M1195.0,280.1h0M1195.0,273.5h0M1194.0,278.1h0M1193.8,313.6h0M1194.9,311.2h0M1193.9,316.1h0M1195.9,265.4h0M1195.7,276.1h0M1197.1,312.2h0M1197.8,272.3h0M1198.9,280.7h0M1198.0,266.5h0M1198.0,280.0h0M1198.5,311.2h0M1197.7,316.7h0M1200.8,265.4h0M1200.1,275.2h0M1200.2,279.5h0M1201.3,311.6h0M1200.1,314.4h0M1202.2,267.7h0M1203.2,280.9h0M1202.4,279.6h0M1201.8,273.3h0M1202.9,268.6h0M1201.7,311.7h0M1201.9,312.4h0M1205.0,280.7h0M1203.6,269.8h0M1205.2,318.4h0M1205.3,312.6h0M1206.0,265.9h0M1206.2,267.0h0M1206.7,277.1h0M1206.4,274.4h0M1206.9,280.3h0M1206.3,318.6h0M1209.4,265.9h0M1208.6,274.5h0M1209.4,280.9h0M1207.7,279.7h0M1207.6,267.4h0M1207.9,270.4h0M1208.7,318.8h0M1207.7,320.0h0M1210.5,280.3h0M1209.7,278.5h0M1210.7,280.1h0M1211.0,273.5h0M1211.4,267.6h0M1211.2,318.1h0M1211.4,317.8h0M1210.2,316.6h0M1213.1,264.3h0M1213.4,274.9h0M1212.8,319.1h0M1211.6,320.2h0M1211.5,319.9h0M1215.1,265.6h0M1214.0,322.5h0M1215.3,321.3h0M1216.4,275.6h0M1216.8,278.6h0M1217.4,274.3h0M1216.4,319.8h0M1215.7,319.0h0M1216.3,320.0h0M1215.7,319.6h0M1218.7,269.8h0M1218.4,272.4h0M1218.4,274.2h0M1217.9,320.1h0M1218.7,321.2h0M1219.2,320.9h0M1218.5,323.0h0M1220.1,265.6h0M1221.2,280.7h0M1220.3,280.7h0M1219.7,271.3h0M1221.0,327.5h0M1220.2,319.8h0M1223.0,270.7h0M1222.9,269.6h0M1221.5,325.1h0M1224.6,264.3h0M1225.2,269.0h0M1224.4,275.9h0M1224.6,277.0h0M1225.1,317.7h0M1223.9,318.8h0M1224.7,316.5h0M1226.1,264.6h0M1227.3,276.1h0M1226.6,315.1h0M1227.0,323.9h0M1226.5,325.1h0M1226.3,320.5h0M1228.2,272.3h0M1228.2,280.4h0M1228.6,273.1h0M1228.7,318.0h0M1229.1,319.0h0M1231.5,277.6h0M1231.3,280.3h0M1230.1,315.6h0M1229.9,319.1h0M1230.7,320.8h0M1232.8,259.5h0M1233.1,275.7h0M1231.5,268.9h0M1232.7,264.5h0M1232.6,273.8h0M1232.6,270.1h0M1231.8,315.5h0M1233.8,280.3h0M1234.7,264.3h0M1235.0,280.9h0M1234.2,267.7h0M1233.7,278.2h0M1234.3,318.9h0M1234.7,326.7h0M1234.0,321.6h0M1237.2,261.9h0M1237.1,263.0h0M1237.4,271.8h0M1236.0,261.2h0M1235.9,268.6h0M1236.5,263.7h0M1236.2,316.6h0M1236.1,328.8h0M1236.3,320.7h0M1235.7,315.9h0M1237.9,280.4h0M1237.6,280.5h0M1238.9,281.6h0M1239.2,280.0h0M1239.2,320.2h0M1238.9,319.1h0M1237.9,328.6h0M1240.4,281.8h0M1240.0,272.1h0M1240.7,281.5h0M1239.7,327.1h0M1240.0,322.1h0M1240.6,323.7h0M1241.7,280.4h0M1242.1,269.8h0M1242.2,277.0h0M1241.6,281.9h0M1241.8,282.9h0M1243.3,321.2h0M1243.6,282.5h0M1244.8,280.5h0M1244.2,326.5h0M1245.3,319.1h0M1245.8,283.6h0M1246.3,281.6h0M1246.8,281.5h0M1246.6,325.4h0M1246.9,320.5h0M1247.2,317.8h0M1249.2,282.6h0M1247.7,281.5h0M1249.0,325.6h0M1248.3,322.4h0M1251.4,281.5h0M1250.9,274.4h0M1250.9,315.9h0M1253.4,278.8h0M1251.6,277.0h0M1253.4,318.8h0M1251.6,316.0h0M1253.9,278.9h0M1254.9,280.1h0M1254.5,315.1h0M1254.2,325.1h0M1253.8,324.1h0M1256.6,275.6h0M1256.7,276.7h0M1257.2,322.3h0M1256.2,314.8h0M1256.1,313.0h0M1256.4,321.0h0M1256.4,315.2h0M1257.6,279.0h0M1259.0,273.5h0M1259.5,275.9h0M1258.4,317.1h0M1257.5,318.0h0M1259.8,312.8h0M1261.2,323.1h0M1260.8,312.1h0M1261.2,323.4h0M1263.2,278.0h0M1262.6,314.2h0M1262.0,324.5h0M1262.8,318.0h0M1263.8,276.5h0M1263.7,318.1h0M1265.4,315.2h0M1264.4,310.0h0M1263.5,321.5h0M1268.8,321.9h0M1268.2,322.3h0M1271.2,272.8h0M1270.4,321.5h0M1271.7,272.3h0M1273.4,271.5h0M1274.7,322.7h0M1277.4,267.5h0M1276.1,266.8h0M1275.6,264.4h0M1276.4,322.5h0M1276.2,322.4h0M1278.6,268.0h0M1277.9,270.4h0M1279.2,319.1h0M1278.6,319.1h0M1278.6,321.1h0M1279.7,268.5h0M1279.7,268.4h0M1280.4,271.0h0M1282.9,266.4h0M1282.3,325.3h0M1282.6,327.2h0M1281.6,324.5h0M1283.5,271.2h0M1284.9,319.1h0M1284.7,326.9h0M1286.2,325.2h0M1289.0,271.7h0M1287.7,323.7h0M1287.7,327.0h0M1290.4,273.0h0M1289.7,318.4h0M1290.1,323.6h0M1291.3,319.0h0M1293.1,268.2h0M1291.8,272.2h0M1293.1,265.6h0M1293.1,319.8h0M1291.8,323.1h0M1292.7,330.1h0M1293.9,272.7h0M1294.2,274.0h0M1294.3,325.3h0M1294.7,319.2h0M1294.4,319.2h0M1294.8,319.9h0M1296.5,274.5h0M1296.6,271.7h0M1297.0,325.1h0M1299.1,275.7h0M1299.0,329.6h0M1298.2,326.7h0M1298.2,318.4h0M1298.5,335.5h0M1300.0,277.1h0M1299.5,277.4h0M1300.6,322.9h0M1299.6,318.8h0M1301.0,320.6h0M1300.7,334.5h0M1302.7,278.4h0M1302.4,330.9h0M1303.3,323.7h0M1301.5,319.5h0M1302.9,319.7h0M1301.9,321.9h0M1305.4,329.2h0M1305.3,331.0h0M1303.9,319.3h0M1304.8,332.7h0M1307.0,278.3h0M1306.2,275.1h0M1305.6,323.5h0M1306.7,324.6h0M1305.5,324.1h0M1308.9,275.2h0M1307.8,280.0h0M1307.7,328.4h0M1308.7,325.5h0M1310.0,272.4h0M1311.5,327.7h0M1310.5,323.9h0M1312.5,280.9h0M1312.0,330.6h0M1311.8,324.9h0M1314.6,277.2h0M1314.2,270.9h0M1315.0,280.2h0M1315.1,326.9h0M1314.5,332.5h0M1316.4,274.6h0M1315.7,273.2h0M1316.3,331.8h0M1316.3,331.2h0M1318.0,331.5h0M1317.9,331.4h0M1319.9,275.9h0M1321.2,337.1h0M1321.1,336.2h0M1320.5,333.6h0M1322.7,279.9h0M1323.3,336.3h0M1322.2,338.4h0M1325.5,339.3h0M1323.7,335.7h0M1325.8,282.2h0M1326.9,337.4h0M1329.3,285.0h0M1331.1,286.0h0M1330.0,342.4h0M1329.5,340.3h0M1331.7,284.3h0M1332.4,287.1h0M1331.8,346.6h0M1332.2,341.9h0M1334.2,284.2h0M1335.3,283.8h0M1334.0,343.9h0M1334.5,343.2h0M1334.2,347.7h0M1336.8,286.2h0M1336.9,287.1h0M1336.3,346.9h0M1336.3,347.7h0M1337.5,281.5h0M1338.3,349.3h0M1337.7,344.5h0M1340.1,282.8h0M1341.4,343.8h0M1341.2,348.7h0M1341.5,346.7h0M1341.0,347.2h0M1342.3,280.7h0M1342.9,281.9h0M1342.6,281.7h0M1342.0,281.9h0M1342.5,345.7h0M1341.8,341.4h0M1344.6,281.4h0M1345.1,284.9h0M1345.2,342.3h0M1347.2,282.6h0M1346.0,284.3h0M1347.1,282.8h0M1345.7,339.9h0M1346.9,344.3h0M1347.1,340.1h0M1348.2,279.9h0M1348.2,283.5h0M1347.5,339.1h0M1347.6,340.4h0M1348.0,341.6h0M1351.2,283.3h0M1351.2,281.1h0M1351.1,282.4h0M1350.4,337.2h0M1350.1,341.3h0M1353.1,281.7h0M1352.7,282.7h0M1352.9,344.0h0M1352.2,340.7h0M1354.3,282.2h0M1355.3,282.9h0M1354.4,340.3h0M1354.3,343.2h0M1356.4,282.1h0M1357.1,283.8h0M1356.9,336.4h0M1357.7,337.8h0M1359.0,336.7h0M1358.9,345.1h0M1360.9,288.0h0M1361.5,285.3h0M1360.5,339.7h0M1360.0,355.6h0M1360.0,339.4h0M1361.6,287.5h0M1363.1,282.9h0M1361.6,338.4h0M1362.4,341.4h0M1362.2,346.2h0M1362.6,356.4h0M1362.6,340.2h0M1362.1,345.7h0M1364.1,282.0h0M1364.4,279.1h0M1364.8,346.3h0M1363.6,355.5h0M1364.6,357.1h0M1366.8,283.3h0M1367.2,292.0h0M1365.9,276.7h0M1367.1,293.1h0M1366.0,283.6h0M1366.9,346.8h0M1366.1,356.1h0M1368.1,285.1h0M1368.1,274.1h0M1369.5,278.2h0M1368.3,295.5h0M1367.7,354.5h0M1368.4,356.2h0M1369.7,275.1h0M1370.2,293.4h0M1369.7,270.6h0M1370.7,273.6h0M1369.8,296.9h0M1371.2,358.8h0M1369.6,358.9h0M1372.8,275.3h0M1372.4,295.0h0M1371.9,283.0h0M1372.6,299.2h0M1373.1,289.3h0M1374.5,301.5h0M1373.8,291.3h0M1374.8,297.3h0M1375.4,300.4h0M1375.2,285.9h0M1375.7,302.2h0M1376.6,298.3h0M1375.8,298.8h0M1376.2,298.2h0M1377.9,302.3h0M1379.2,303.2h0M1377.5,298.1h0M1380.6,300.7h0M1379.8,301.0h0M1380.3,357.1h0M1383.3,304.4h0M1382.0,301.5h0M1384.7,303.5h0M1384.9,298.8h0M1386.4,291.9h0M1386.3,289.5h0M1386.0,351.3h0M1387.8,295.3h0M1388.2,296.4h0M1391.1,292.2h0M1391.2,347.8h0M1392.2,289.0h0M1392.8,286.2h0M1393.4,349.8h0M1395.1,287.5h0M1394.6,353.2h0M1395.1,353.4h0M1396.0,287.2h0M1396.0,289.9h0M1396.9,286.6h0M1397.1,351.0h0M1398.8,292.4h0M1399.2,347.5h0M1397.5,346.0h0M1398.3,351.2h0M1399.9,292.2h0M1400.7,287.6h0M1400.0,341.0h0M1401.1,348.1h0M1399.6,348.5h0M1403.4,291.9h0M1403.3,292.2h0M1403.4,346.5h0M1401.9,354.7h0M1403.5,289.6h0M1404.4,286.3h0M1403.7,346.4h0M1405.4,346.6h0M1406.4,289.6h0M1406.8,351.6h0M1406.9,349.9h0M1409.5,292.1h0M1408.9,288.9h0M1409.3,354.7h0M1407.8,350.0h0M1410.7,296.4h0M1411.0,299.2h0M1410.1,356.3h0M1411.5,351.7h0M1412.9,290.5h0M1412.7,305.4h0M1412.5,358.9h0M1413.8,297.3h0M1414.1,308.4h0M1415.4,291.2h0M1415.4,305.7h0M1414.4,305.6h0M1416.3,305.6h0M1416.0,291.7h0M1416.4,293.1h0M1419.0,306.2h0M1418.8,300.8h0M1419.3,303.9h0M1420.8,304.9h0M1419.6,296.9h0M1420.0,293.2h0M1422.6,307.4h0M1421.7,297.1h0M1423.4,300.3h0M1425.0,297.0h0M1425.1,365.5h0M1427.2,308.2h0M1426.8,305.3h0M1425.6,307.1h0M1427.2,366.5h0M1428.0,306.0h0M1429.0,368.6h0M1431.3,305.7h0M1432.9,308.7h0M1432.7,312.5h0M1433.9,312.2h0M1435.4,309.5h0M1435.6,309.8h0M1438.8,311.6h0M1437.6,373.5h0M1439.1,374.8h0M117.6,236.6h0M117.5,299.6h0M119.6,237.3h0M119.5,305.4h0M121.8,238.3h0M121.3,307.6h0M123.8,240.4h0M123.0,310.8h0M126.0,254.9h0M125.6,317.7h0M127.0,267.2h0M127.1,328.2h0M129.2,283.1h0M129.5,338.9h0M131.8,284.7h0M131.6,345.1h0M133.7,285.8h0M133.3,352.7h0M136.0,295.4h0M135.7,358.1h0M137.2,287.0h0M137.1,355.7h0M139.4,289.4h0M139.4,347.9h0M141.8,292.8h0M141.2,345.6h0M143.5,292.0h0M143.4,336.5h0M145.6,288.6h0M145.3,338.3h0M147.3,289.0h0M147.8,333.4h0M149.2,288.3h0M149.1,339.5h0M151.2,288.9h0M151.4,341.7h0M153.7,285.1h0M153.6,346.2h0M155.4,284.3h0M155.3,348.9h0M157.8,291.1h0M157.9,350.7h0M159.4,287.2h0M159.6,350.2h0M162.0,288.4h0M161.3,355.0h0M163.3,292.6h0M163.1,357.4h0M165.6,292.4h0M165.6,360.2h0M167.5,295.0h0M167.5,358.2h0M169.9,297.0h0M169.2,364.4h0M171.8,300.7h0M171.2,365.6h0M173.9,300.4h0M174.0,367.0h0M175.6,302.0h0M175.1,367.9h0M178.0,298.6h0M177.7,369.6h0M179.8,299.1h0M179.3,369.9h0M181.7,297.4h0M181.2,371.5h0M183.9,295.7h0M183.3,369.4h0M185.2,295.7h0M185.3,370.3h0M187.1,291.2h0M187.4,370.0h0M189.1,292.3h0M189.9,370.9h0M191.7,297.9h0M191.6,371.1h0M193.0,293.3h0M193.9,375.3h0M196.0,300.3h0M195.6,382.6h0M197.7,297.3h0M198.0,375.8h0M199.5,288.3h0M199.9,357.6h0M201.7,288.8h0M201.9,353.5h0M203.7,286.0h0M203.9,348.9h0M205.8,284.8h0M205.6,346.1h0M207.4,286.2h0M207.6,348.1h0M209.6,286.1h0M209.9,342.9h0M211.4,289.4h0M211.6,350.1h0M213.8,290.0h0M213.8,354.6h0M215.6,291.1h0M215.2,357.2h0M217.5,291.9h0M217.9,356.3h0M219.0,285.5h0M219.7,351.8h0M221.2,279.2h0M221.7,343.3h0M223.9,271.0h0M223.7,341.6h0M225.4,261.6h0M225.9,334.9h0M227.4,258.4h0M227.3,329.8h0M229.5,250.4h0M229.8,321.1h0M232.0,247.4h0M231.2,316.2h0M233.3,246.5h0M233.4,309.7h0M235.5,247.5h0M235.8,302.8h0M237.5,252.7h0M237.0,296.6h0M239.0,252.3h0M239.6,296.3h0M241.8,253.1h0M241.1,302.3h0M243.0,259.0h0M243.2,306.9h0M245.0,265.0h0M245.4,317.4h0M247.7,273.0h0M248.0,325.7h0M249.2,279.3h0M249.2,335.5h0M251.5,282.8h0M251.2,341.2h0M253.3,288.6h0M253.5,347.9h0M255.8,293.0h0M255.8,355.6h0M257.1,292.2h0M257.7,358.0h0M259.5,285.8h0M259.9,365.9h0M261.6,284.3h0M261.8,361.4h0M263.5,286.2h0M263.2,360.4h0M265.8,281.6h0M265.7,357.8h0M267.9,281.0h0M268.0,354.1h0M269.8,283.2h0M269.9,361.1h0M271.3,286.4h0M271.4,362.9h0M273.8,285.9h0M273.0,364.3h0M275.1,288.6h0M275.2,365.4h0M277.8,287.9h0M277.1,370.4h0M279.7,289.1h0M279.7,367.7h0M281.5,290.3h0M281.1,325.7h0M283.5,285.6h0M283.7,330.7h0M285.5,286.4h0M285.6,329.1h0M287.4,284.9h0M287.9,329.9h0M289.9,284.2h0M289.5,328.2h0M291.2,287.3h0M291.5,333.5h0M293.0,290.4h0M293.5,330.1h0M295.8,292.7h0M295.5,335.3h0M297.1,296.7h0M297.4,336.4h0M299.9,302.8h0M299.5,338.1h0M301.4,294.9h0M301.9,334.0h0M303.3,290.6h0M303.6,333.4h0M305.1,288.5h0M305.0,328.4h0M307.2,279.5h0M307.3,326.0h0M309.6,274.7h0M309.7,324.8h0M311.5,272.0h0M311.2,322.3h0M313.4,271.8h0M313.4,320.0h0M315.2,270.5h0M315.6,318.4h0M317.5,269.7h0M317.6,313.7h0M319.2,270.0h0M319.8,312.6h0M321.3,272.2h0M321.9,312.9h0M324.0,271.4h0M323.1,309.0h0M325.7,274.0h0M325.1,311.0h0M327.4,279.0h0M327.1,308.0h0M329.7,279.5h0M329.2,309.5h0M331.9,283.1h0M331.1,303.0h0M333.8,285.0h0M333.7,306.5h0M335.1,286.7h0M335.0,306.5h0M337.5,290.2h0M337.1,304.5h0M339.2,291.8h0M340.0,301.9h0M341.1,297.0h0M342.0,304.2h0M343.8,294.6h0M343.5,303.2h0M345.4,295.7h0M345.0,301.9h0M347.8,297.3h0M347.5,302.5h0M349.4,298.4h0M349.2,302.0h0M351.0,295.7h0M351.8,298.7h0M353.9,294.0h0M353.4,300.7h0M355.5,290.9h0M355.8,295.9h0M357.9,287.4h0M357.8,300.1h0M359.4,287.1h0M359.9,298.6h0M361.8,285.5h0M361.4,312.3h0M363.1,285.7h0M363.5,311.4h0M365.4,283.7h0M365.6,307.9h0M367.9,284.1h0M367.3,305.2h0M369.6,285.4h0M369.4,303.2h0M371.6,294.7h0M371.8,303.7h0M373.0,289.9h0M373.7,306.7h0M375.4,284.1h0M375.2,310.7h0M377.1,284.4h0M377.9,312.9h0M379.5,284.9h0M379.6,310.4h0M381.6,291.8h0M381.1,313.9h0M383.8,284.4h0M383.9,316.5h0M385.5,282.8h0M385.5,316.2h0M387.1,283.6h0M387.4,311.9h0M389.6,282.8h0M389.3,315.8h0M391.6,284.1h0M391.7,322.2h0M393.0,284.3h0M393.0,330.8h0M395.8,285.3h0M395.9,339.0h0M397.1,288.5h0M397.9,341.1h0M399.9,287.7h0M399.5,355.9h0M401.2,298.7h0M401.9,360.5h0M403.5,301.9h0M403.8,359.0h0M405.1,308.3h0M405.5,367.1h0M407.1,314.1h0M407.1,370.9h0M409.7,321.7h0M409.3,374.6h0M411.4,324.8h0M411.5,372.5h0M414.0,334.8h0M413.2,371.0h0M415.9,327.0h0M415.6,369.0h0M417.3,329.2h0M417.6,367.9h0M419.6,331.7h0M419.2,365.8h0M422.0,308.4h0M421.9,371.1h0M423.1,279.7h0M423.4,383.7h0M425.1,257.5h0M425.1,390.8h0M427.7,247.4h0M427.6,394.2h0M429.5,239.3h0M429.3,398.6h0M431.8,238.3h0M431.1,399.6h0M433.6,238.1h0M433.2,397.4h0M435.3,235.5h0M435.4,397.1h0M438.0,238.1h0M437.5,390.9h0M439.9,240.6h0M439.4,381.6h0M441.9,249.9h0M441.1,372.6h0M443.5,265.0h0M443.3,360.9h0M445.1,282.0h0M445.7,347.2h0M447.3,296.8h0M447.7,327.6h0M449.1,303.1h0M449.7,319.3h0M451.1,298.5h0M451.6,316.4h0M453.9,296.9h0M453.4,312.9h0M455.3,277.0h0M455.4,350.6h0M457.9,270.8h0M457.4,344.8h0M459.4,254.8h0M459.4,338.4h0M461.6,237.4h0M461.5,330.7h0M463.6,226.5h0M463.8,324.8h0M465.3,220.0h0M465.5,313.1h0M467.6,216.1h0M467.7,297.4h0M469.1,234.5h0M469.8,297.6h0M471.1,248.1h0M471.9,292.7h0M473.6,255.1h0M473.7,290.6h0M475.2,263.7h0M475.8,286.5h0M477.8,274.0h0M477.3,294.5h0M479.7,289.3h0M479.5,303.2h0M481.7,290.3h0M481.4,306.9h0M483.7,294.0h0M483.8,313.7h0M485.9,289.5h0M485.6,309.5h0M487.7,279.9h0M487.4,305.9h0M489.1,273.8h0M490.0,303.2h0M491.2,269.6h0M491.4,304.0h0M494.0,265.4h0M493.3,302.8h0M495.6,261.1h0M495.2,298.5h0M497.5,258.5h0M497.9,297.7h0M499.1,259.8h0M499.2,297.4h0M501.7,261.5h0M501.2,295.0h0M503.3,262.5h0M503.8,294.9h0M505.5,261.5h0M505.5,292.5h0M507.9,260.0h0M507.3,291.3h0M510.0,259.5h0M509.2,294.2h0M511.9,259.9h0M511.4,295.3h0M513.5,263.0h0M514.0,300.4h0M515.2,262.5h0M515.5,296.3h0M517.8,259.5h0M517.6,287.3h0M519.2,256.4h0M519.3,286.1h0M521.5,256.4h0M522.0,285.1h0M523.5,251.7h0M523.8,285.9h0M525.8,250.2h0M525.8,282.2h0M527.3,248.9h0M527.1,281.4h0M529.5,247.8h0M529.6,275.5h0M531.3,245.2h0M531.4,274.7h0M533.1,232.0h0M533.2,270.4h0M535.5,216.4h0M535.8,269.2h0M537.3,212.7h0M537.3,268.4h0M539.7,210.1h0M539.7,266.8h0M541.4,210.1h0M542.0,265.5h0M543.7,213.8h0M543.4,265.5h0M545.2,217.3h0M545.5,265.7h0M548.0,220.3h0M547.2,266.4h0M549.3,230.3h0M549.5,274.5h0M551.3,239.4h0M551.7,282.4h0M553.2,246.4h0M553.3,285.7h0M555.6,255.6h0M555.3,287.8h0M557.1,257.5h0M557.1,292.4h0M559.7,258.5h0M559.4,296.4h0M561.6,262.5h0M561.2,302.3h0M563.1,264.8h0M563.1,311.6h0M565.4,273.9h0M565.6,320.3h0M567.8,278.8h0M567.3,324.7h0M569.0,281.1h0M569.7,325.0h0M571.8,288.3h0M571.6,321.7h0M573.3,283.5h0M573.7,320.4h0M575.4,284.7h0M575.8,319.7h0M577.6,288.3h0M577.8,320.5h0M579.5,287.2h0M579.5,317.0h0M581.7,280.7h0M581.5,306.8h0M583.8,270.6h0M583.9,311.3h0M585.2,253.1h0M585.2,310.5h0M587.7,244.5h0M587.9,308.0h0M589.5,243.8h0M590.0,305.4h0M591.9,245.2h0M591.6,304.3h0M593.3,251.3h0M594.0,306.8h0M595.6,256.3h0M595.8,314.4h0M597.9,253.1h0M597.6,315.2h0M599.2,255.0h0M599.1,316.0h0M601.2,257.2h0M601.9,317.3h0M603.3,263.9h0M603.7,329.5h0M605.6,263.1h0M605.0,322.0h0M607.5,262.7h0M607.4,317.4h0M609.2,265.4h0M609.3,312.0h0M611.3,267.3h0M611.0,307.5h0M613.1,271.2h0M613.6,302.9h0M615.4,274.4h0M615.7,306.4h0M617.8,278.0h0M618.0,306.4h0M619.9,279.6h0M619.4,305.6h0M621.9,279.9h0M621.5,304.7h0M623.9,282.5h0M623.1,305.3h0M625.9,283.6h0M625.6,305.3h0M627.3,283.7h0M627.1,304.9h0M629.4,281.2h0M629.4,304.3h0M631.7,280.1h0M631.2,303.2h0M633.4,279.3h0M633.1,302.6h0M636.0,280.6h0M635.9,299.3h0M637.8,275.1h0M637.7,298.6h0M639.9,271.6h0M639.8,296.9h0M641.5,266.1h0M641.0,290.2h0M643.3,258.3h0M643.1,292.4h0M645.8,253.5h0M645.4,290.2h0M647.0,253.8h0M647.9,289.9h0M649.5,256.0h0M650.0,284.6h0M651.2,256.1h0M651.9,287.4h0M653.2,257.7h0M653.4,284.1h0M655.2,254.1h0M656.0,283.3h0M657.6,252.5h0M657.9,286.3h0M659.1,254.5h0M659.3,284.6h0M661.9,263.1h0M661.1,284.7h0M663.9,264.6h0M663.1,286.2h0M665.3,264.1h0M665.2,286.1h0M667.2,265.4h0M667.8,287.9h0M669.7,267.8h0M669.6,289.2h0M671.3,269.5h0M671.7,291.7h0M673.6,271.6h0M674.0,299.7h0M675.5,274.0h0M675.0,302.6h0M677.3,278.6h0M677.8,307.4h0M679.3,281.2h0M679.2,309.6h0M681.5,281.1h0M681.9,313.7h0M683.0,286.7h0M683.8,315.1h0M685.9,281.7h0M685.2,316.2h0M687.6,284.2h0M687.7,317.6h0M689.5,287.3h0M689.8,318.2h0M691.5,288.7h0M691.2,315.5h0M693.2,290.8h0M693.2,319.3h0M695.8,290.3h0M695.8,318.3h0M697.5,290.1h0M697.6,320.4h0M699.0,289.8h0M699.7,319.3h0M701.9,288.1h0M701.2,320.0h0M703.5,281.8h0M703.4,317.4h0M705.8,278.0h0M705.9,316.2h0M707.5,281.9h0M707.2,311.8h0M709.3,283.8h0M709.3,312.3h0M711.5,284.2h0M711.6,311.8h0M713.8,281.8h0M713.3,312.0h0M715.7,281.0h0M715.8,307.8h0M717.4,279.8h0M717.2,307.9h0M719.0,283.6h0M719.8,306.2h0M721.1,282.8h0M721.7,305.3h0M723.2,274.6h0M723.1,302.3h0M725.3,274.3h0M725.1,305.0h0M728.0,271.7h0M727.7,302.7h0M729.3,269.1h0M729.2,301.7h0M731.9,266.4h0M731.3,300.6h0M733.6,267.7h0M733.4,300.2h0M735.1,258.7h0M735.7,298.5h0M737.6,254.2h0M737.5,293.7h0M739.8,246.0h0M739.8,294.4h0M741.3,243.6h0M741.5,292.8h0M743.2,241.5h0M743.5,290.8h0M745.4,239.8h0M745.7,281.1h0M747.2,240.4h0M747.1,286.4h0M749.4,242.5h0M749.0,280.0h0M751.3,245.9h0M751.9,271.7h0M753.3,248.8h0M753.2,268.3h0M755.4,250.2h0M755.7,265.7h0M757.0,248.1h0M757.4,266.9h0M759.9,225.1h0M759.8,263.8h0M761.1,238.1h0M761.2,261.6h0M763.2,244.1h0M763.0,258.9h0M765.4,242.6h0M765.1,257.1h0M767.3,237.3h0M767.7,252.8h0M769.2,212.6h0M769.7,245.3h0M771.4,190.6h0M771.2,233.5h0M773.3,172.3h0M773.0,226.5h0M775.6,152.8h0M775.8,220.5h0M777.3,139.7h0M777.9,215.1h0M779.7,126.7h0M780.0,216.3h0M781.2,123.6h0M781.1,218.5h0M783.4,125.0h0M783.4,223.5h0M785.5,131.8h0M785.2,227.1h0M787.5,142.9h0M787.7,230.5h0M789.1,155.4h0M789.4,232.8h0M791.6,147.2h0M791.6,236.9h0M793.0,148.9h0M793.4,242.4h0M795.4,158.1h0M795.5,246.1h0M797.5,163.4h0M797.3,248.8h0M799.3,149.0h0M799.6,249.9h0M801.7,139.3h0M801.5,257.0h0M804.0,145.4h0M803.6,259.6h0M805.8,153.3h0M805.6,261.7h0M807.4,151.6h0M807.8,263.7h0M809.4,156.2h0M809.0,261.4h0M811.5,155.9h0M811.4,262.1h0M813.1,164.7h0M813.2,259.3h0M815.2,146.0h0M815.5,258.2h0M817.2,125.0h0M817.7,256.1h0M819.6,112.1h0M819.8,257.2h0M821.3,106.9h0M821.9,260.4h0M823.7,86.0h0M823.7,260.2h0M825.8,109.3h0M825.6,262.5h0M827.6,123.6h0M827.3,262.8h0M829.5,140.7h0M829.2,264.1h0M831.2,153.3h0M831.1,264.4h0M833.1,160.8h0M833.7,266.4h0M835.5,169.1h0M835.5,265.3h0M837.9,179.2h0M837.1,266.4h0M839.5,189.4h0M839.4,269.1h0M841.3,181.6h0M841.3,268.8h0M843.8,170.2h0M843.8,266.8h0M845.4,155.9h0M845.6,266.8h0M847.8,141.5h0M847.4,267.6h0M849.2,139.1h0M849.0,267.2h0M851.9,143.7h0M851.1,261.9h0M853.4,148.6h0M853.4,265.3h0M856.0,155.1h0M855.7,265.8h0M857.0,157.1h0M857.7,265.7h0M859.1,174.0h0M859.0,267.6h0M861.5,177.6h0M861.3,269.5h0M863.8,193.0h0M863.4,271.7h0M865.8,203.7h0M865.4,268.0h0M867.5,205.1h0M867.1,274.8h0M869.1,204.5h0M869.3,276.0h0M871.1,205.2h0M871.0,281.7h0M873.1,205.5h0M873.3,282.8h0M875.5,205.5h0M875.3,285.6h0M877.1,206.2h0M877.3,284.8h0M879.2,216.4h0M880.0,290.1h0M881.9,229.7h0M881.4,293.1h0M883.4,238.6h0M883.6,296.4h0M885.6,240.7h0M885.9,298.0h0M888.0,244.6h0M887.8,298.0h0M889.2,245.5h0M889.2,297.9h0M891.1,244.5h0M891.8,296.3h0M893.5,243.9h0M893.2,296.0h0M895.0,248.4h0M895.8,294.3h0M897.7,248.8h0M897.8,295.6h0M899.8,251.8h0M899.1,290.6h0M901.4,253.8h0M901.3,296.5h0M903.0,252.8h0M903.2,298.1h0M905.4,251.7h0M905.8,296.8h0M907.6,253.6h0M907.3,296.8h0M909.3,257.0h0M909.3,298.9h0M911.2,255.4h0M911.5,298.9h0M913.2,253.6h0M913.1,300.0h0M915.4,250.5h0M915.5,298.2h0M917.3,246.3h0M918.0,295.5h0M919.9,239.9h0M919.8,295.1h0M922.0,236.3h0M922.0,293.9h0M923.4,236.6h0M923.2,291.8h0M925.7,237.2h0M925.3,292.0h0M927.4,237.1h0M927.1,288.4h0M929.4,235.4h0M929.2,293.1h0M931.9,229.4h0M931.6,290.6h0M933.6,225.4h0M933.8,292.9h0M935.5,227.2h0M935.4,291.3h0M937.2,226.4h0M937.6,291.6h0M939.0,224.8h0M939.4,291.5h0M941.6,223.0h0M941.2,288.7h0M944.0,219.6h0M943.3,289.8h0M946.0,217.7h0M945.9,290.2h0M948.0,219.4h0M947.2,290.8h0M949.6,226.2h0M949.8,288.5h0M951.5,224.8h0M951.1,285.8h0M953.7,223.6h0M953.8,294.4h0M955.5,221.3h0M955.2,292.0h0M957.6,221.9h0M957.6,295.1h0M959.5,228.2h0M959.8,295.9h0M961.8,235.8h0M961.9,297.0h0M963.2,249.4h0M963.1,302.1h0M965.3,263.5h0M965.8,305.5h0M967.2,266.6h0M967.8,309.9h0M969.9,270.0h0M970.0,312.2h0M971.6,267.9h0M971.7,308.9h0M973.7,266.7h0M973.0,311.0h0M975.3,264.0h0M975.3,306.3h0M977.7,261.8h0M977.1,303.6h0M979.5,262.1h0M979.1,305.4h0M981.6,264.7h0M981.2,307.0h0M983.7,270.3h0M983.4,305.9h0M985.4,264.4h0M985.6,307.8h0M987.8,260.5h0M987.5,308.6h0M989.9,253.7h0M989.7,310.7h0M991.6,246.6h0M991.9,310.6h0M993.9,240.7h0M993.5,307.3h0M995.4,241.1h0M995.6,307.5h0M997.1,237.7h0M997.3,312.9h0M1000.0,240.6h0M999.7,315.4h0M1001.2,251.5h0M1001.1,313.1h0M1003.3,261.7h0M1003.3,310.4h0M1005.9,260.8h0M1005.5,303.9h0M1007.9,258.3h0M1007.4,299.4h0M1009.7,262.9h0M1009.3,299.8h0M1011.9,269.8h0M1011.6,303.5h0M1013.4,267.6h0M1013.3,304.5h0M1015.6,268.4h0M1016.0,301.9h0M1017.4,274.4h0M1017.6,305.9h0M1020.0,268.5h0M1019.5,309.7h0M1021.7,266.1h0M1022.0,309.1h0M1023.4,263.7h0M1023.4,308.3h0M1025.1,264.0h0M1025.6,308.2h0M1027.7,262.4h0M1027.8,309.0h0M1029.8,262.7h0M1029.5,309.6h0M1031.9,261.6h0M1031.9,304.1h0M1033.4,261.9h0M1033.5,306.5h0M1035.8,260.0h0M1035.5,306.2h0M1037.6,258.1h0M1037.1,305.8h0M1039.3,257.0h0M1039.2,304.6h0M1041.1,254.7h0M1041.5,307.6h0M1043.5,258.0h0M1043.1,303.0h0M1045.2,262.7h0M1045.5,298.4h0M1047.6,261.9h0M1048.0,300.5h0M1049.0,262.9h0M1049.8,303.5h0M1051.7,264.4h0M1051.5,303.5h0M1053.1,262.4h0M1054.0,303.2h0M1055.8,264.0h0M1055.4,303.7h0M1057.3,262.5h0M1057.9,303.6h0M1059.5,263.0h0M1059.9,301.2h0M1061.6,267.0h0M1061.9,299.7h0M1063.3,262.8h0M1063.3,296.7h0M1065.4,261.7h0M1065.4,295.8h0M1067.5,262.0h0M1067.8,295.5h0M1069.5,266.2h0M1069.4,296.3h0M1071.1,271.2h0M1071.3,298.8h0M1073.2,269.8h0M1073.5,299.3h0M1075.4,266.8h0M1075.0,298.1h0M1078.0,268.0h0M1077.6,304.8h0M1079.3,267.3h0M1079.6,306.1h0M1081.5,267.2h0M1081.8,306.1h0M1083.1,266.7h0M1083.3,305.8h0M1085.4,269.1h0M1085.4,302.1h0M1087.7,267.1h0M1088.0,304.1h0M1089.3,269.4h0M1089.8,302.1h0M1091.6,269.1h0M1091.8,300.6h0M1093.6,266.7h0M1093.9,298.2h0M1095.0,281.0h0M1095.8,292.2h0M1097.0,280.8h0M1097.4,294.9h0M1100.0,281.2h0M1099.1,293.6h0M1101.4,281.8h0M1101.4,295.9h0M1103.4,280.3h0M1103.3,298.4h0M1105.1,281.5h0M1105.8,298.9h0M1107.5,281.1h0M1107.1,299.4h0M1110.0,280.0h0M1109.9,298.8h0M1111.4,279.8h0M1111.8,299.4h0M1113.9,279.6h0M1113.0,300.1h0M1115.4,280.3h0M1115.9,299.8h0M1117.7,280.5h0M1117.8,301.3h0M1119.7,279.6h0M1119.6,302.3h0M1121.3,279.7h0M1121.3,302.8h0M1123.5,280.8h0M1123.6,302.8h0M1125.4,282.3h0M1125.5,302.3h0M1127.3,285.7h0M1127.2,301.8h0M1129.7,279.9h0M1129.3,302.4h0M1131.8,279.5h0M1131.7,303.0h0M1133.6,280.3h0M1134.0,302.4h0M1135.5,283.2h0M1135.2,302.7h0M1137.1,281.6h0M1137.8,303.2h0M1139.7,279.4h0M1139.6,302.4h0M1141.2,280.0h0M1141.8,299.0h0M1143.1,282.0h0M1143.2,301.9h0M1145.5,279.7h0M1145.1,303.3h0M1147.6,281.7h0M1147.9,301.6h0M1149.4,281.3h0M1149.7,301.0h0M1151.9,279.9h0M1151.3,303.3h0M1153.0,279.8h0M1153.3,303.7h0M1155.3,279.9h0M1155.5,304.2h0M1157.3,279.9h0M1157.5,303.4h0M1159.2,283.0h0M1159.9,300.0h0M1161.5,281.7h0M1161.5,300.0h0M1163.9,282.4h0M1163.3,298.7h0M1165.9,281.3h0M1165.8,299.4h0M1167.5,281.9h0M1167.7,298.9h0M1169.5,286.1h0M1169.3,298.8h0M1171.9,281.9h0M1171.9,300.5h0M1173.1,283.2h0M1173.1,297.4h0M1175.1,282.9h0M1175.3,294.5h0M1177.1,285.4h0M1177.1,300.9h0M1179.6,282.6h0M1179.7,297.2h0M1181.8,286.2h0M1181.1,303.5h0M1183.2,284.8h0M1183.4,304.5h0M1185.2,284.8h0M1185.4,304.3h0M1187.1,284.7h0M1187.6,305.7h0M1189.6,289.4h0M1189.3,307.1h0M1191.7,284.3h0M1192.0,303.3h0M1193.9,288.4h0M1193.9,304.9h0M1195.5,283.7h0M1195.7,306.6h0M1197.6,285.2h0M1197.1,303.7h0M1200.0,284.8h0M1199.1,308.0h0M1202.0,286.9h0M1201.0,308.3h0M1203.7,286.5h0M1203.6,308.1h0M1205.8,285.9h0M1205.1,310.3h0M1208.0,286.2h0M1207.4,308.4h0M1209.3,284.3h0M1209.8,312.3h0M1211.6,284.1h0M1211.3,312.1h0M1213.5,285.4h0M1213.9,313.9h0M1215.1,284.0h0M1215.5,314.8h0M1217.3,286.1h0M1217.7,315.9h0M1219.5,284.1h0M1219.9,315.3h0M1221.2,284.0h0M1221.3,314.2h0M1223.7,285.7h0M1223.5,311.3h0M1225.8,283.8h0M1225.2,312.3h0M1228.0,284.5h0M1227.4,311.5h0M1230.0,287.5h0M1229.1,311.5h0M1231.8,286.1h0M1231.8,311.6h0M1233.3,284.4h0M1233.7,310.8h0M1235.8,284.9h0M1235.5,312.5h0M1237.1,285.7h0M1237.1,309.6h0M1239.9,286.3h0M1239.9,309.3h0M1241.9,287.6h0M1241.7,315.3h0M1243.2,292.5h0M1243.7,316.3h0M1245.7,290.4h0M1245.5,310.8h0M1247.1,286.7h0M1247.9,314.1h0M1249.2,285.1h0M1249.0,312.9h0M1251.2,284.5h0M1251.5,312.4h0M1253.6,284.5h0M1253.5,309.3h0M1255.1,287.5h0M1255.1,310.2h0M1257.8,282.9h0M1257.5,305.4h0M1259.3,282.1h0M1259.3,307.2h0M1262.0,283.8h0M1261.6,306.8h0M1263.5,283.9h0M1263.9,307.0h0M1265.0,283.3h0M1265.4,315.6h0M1267.2,277.3h0M1267.7,318.1h0M1269.0,277.1h0M1269.8,318.0h0M1271.7,276.9h0M1271.2,316.9h0M1273.3,274.8h0M1273.3,317.4h0M1275.4,275.3h0M1275.6,315.9h0M1277.4,273.7h0M1277.6,313.0h0M1279.5,274.5h0M1279.3,314.9h0M1281.2,278.0h0M1281.9,311.0h0M1283.2,278.0h0M1284.0,313.8h0M1285.2,275.6h0M1285.2,312.4h0M1287.2,277.0h0M1287.3,310.2h0M1289.7,276.3h0M1289.6,314.7h0M1291.9,277.7h0M1291.4,314.7h0M1293.5,277.1h0M1293.6,315.9h0M1295.5,279.5h0M1295.5,316.0h0M1297.6,280.0h0M1297.3,310.1h0M1299.1,280.9h0M1299.2,312.6h0M1301.8,283.8h0M1301.9,314.2h0M1303.4,282.8h0M1303.9,313.7h0M1305.5,283.3h0M1305.8,316.0h0M1307.3,283.8h0M1307.2,317.7h0M1309.8,286.1h0M1309.9,313.4h0M1311.8,285.5h0M1311.8,319.1h0M1313.2,286.2h0M1313.3,320.4h0M1315.9,284.1h0M1315.5,325.1h0M1317.8,284.3h0M1317.9,325.6h0M1319.6,288.0h0M1319.7,329.0h0M1322.0,284.7h0M1321.3,327.4h0M1323.7,285.9h0M1324.0,329.9h0M1325.1,288.1h0M1325.1,331.6h0M1327.8,290.8h0M1327.9,332.7h0M1329.9,289.9h0M1329.5,335.0h0M1331.4,290.3h0M1331.2,338.1h0M1333.2,293.1h0M1333.8,338.0h0M1335.5,293.4h0M1335.3,340.6h0M1337.6,292.1h0M1337.9,339.7h0M1339.9,291.5h0M1339.3,336.2h0M1341.6,294.7h0M1341.8,333.3h0M1343.3,289.5h0M1343.5,335.9h0M1345.9,287.9h0M1345.5,334.5h0M1347.2,289.5h0M1347.6,334.8h0M1349.3,287.3h0M1349.1,334.6h0M1351.5,287.1h0M1351.6,329.4h0M1353.4,286.7h0M1353.5,333.3h0M1355.1,292.1h0M1355.7,332.7h0M1357.6,290.8h0M1357.9,332.0h0M1359.3,293.8h0M1360.0,332.4h0M1361.2,292.7h0M1361.1,331.3h0M1363.6,293.6h0M1363.7,335.9h0M1365.3,297.4h0M1365.6,339.1h0M1367.5,299.3h0M1367.1,345.5h0M1370.0,300.3h0M1369.1,347.9h0M1371.3,301.4h0M1371.4,353.3h0M1373.4,303.5h0M1373.7,354.9h0M1375.6,306.0h0M1375.6,355.1h0M1377.7,306.2h0M1377.1,355.7h0M1379.0,308.2h0M1379.4,354.8h0M1381.1,309.2h0M1381.9,349.0h0M1383.6,310.2h0M1384.0,352.3h0M1385.3,305.8h0M1385.9,349.7h0M1387.4,302.8h0M1387.9,346.3h0M1389.8,299.6h0M1389.4,341.3h0M1391.4,297.9h0M1391.3,338.3h0M1393.4,297.4h0M1393.8,337.9h0M1395.5,295.8h0M1395.5,336.1h0M1397.9,295.6h0M1397.8,333.5h0M1399.7,296.6h0M1399.3,336.3h0M1401.9,298.1h0M1401.7,336.9h0M1403.7,296.0h0M1403.8,340.2h0M1406.0,295.8h0M1405.7,341.9h0M1407.4,295.6h0M1407.3,342.3h0M1409.2,298.2h0M1410.0,346.0h0M1411.9,307.4h0M1411.6,350.9h0M1413.8,313.8h0M1413.6,360.2h0M1415.8,312.8h0M1415.6,360.3h0M1417.7,310.3h0M1417.5,361.2h0M1419.1,316.7h0M1419.3,360.0h0M1422.0,311.9h0M1421.6,362.0h0M1423.5,312.1h0M1423.6,362.2h0M1425.7,315.2h0M1425.8,361.9h0M1427.1,312.5h0M1427.5,361.0h0M1430.0,313.5h0M1430.0,363.2h0M1431.8,315.0h0M1431.3,370.4h0M1433.7,317.3h0M1433.4,371.4h0M1435.4,315.9h0M1435.0,374.0h0M1437.7,315.6h0M1437.3,372.4h0M1439.9,317.1h0M1439.2,367.2h0M1441.1,313.0h0M1441.7,362.3h0M1443.5,312.3h0M1443.0,360.9h0M1445.9,315.2h0M1445.7,362.1h0M1447.3,315.4h0M1447.2,359.1h0M1449.3,314.6h0M1449.8,358.7h0M1451.6,314.8h0M1451.2,351.0h0M1453.6,312.9h0M1454.0,372.7h0M1455.4,311.9h0M1455.8,384.9h0M1457.7,313.2h0M1457.4,389.5h0M1459.2,309.5h0M1459.9,389.5h0M1461.4,306.8h0M1461.7,393.7h0" fill="none" stroke="#1f77b4" stroke-width="5.5" stroke-linecap="round"/><path d="M117.5,263.8L117.5,261.7L119.7,273.8L120.7,276.6L121.9,276.7L124.1,277.9L124.9,280.9L126.3,289.5L128.1,306.5L128.5,306.5L130.7,309.9L131.3,311.8L132.9,314.9L135.1,320.3L135.6,322.5L137.3,311.8L137.7,310.8L139.5,310.8L141.7,313.8L143.9,317.2L144.1,315.0L146.1,311.8L147.3,306.5L148.3,302.6L150.5,290.1L150.5,290.5L152.7,297.7L154.8,308.6L154.9,307.3L157.1,302.3L158.0,301.2L159.3,306.3L161.2,317.2L161.5,314.8L163.7,315.5L164.4,315.0L165.9,324.3L168.1,334.8L169.7,342.7L170.3,337.7L172.5,323.8L174.0,315.0L174.7,320.0L176.9,335.9L177.2,338.5L179.1,337.3L181.3,338.2L182.5,338.5L183.5,342.8L185.7,346.6L185.7,344.9L187.9,325.9L188.9,317.2L190.1,327.3L191.0,340.6L192.3,320.9L193.2,312.9L194.5,322.5L195.3,336.3L196.7,328.7L198.9,326.3L199.6,325.7L201.1,320.4L203.3,311.7L205.5,302.8L206.0,302.2L207.7,308.2L209.9,316.6L210.2,319.3L212.1,329.1L213.4,340.6L214.3,336.6L216.5,332.8L216.6,334.2L218.7,338.3L219.8,342.7L220.9,330.0L223.0,310.8L223.1,308.1L225.3,305.0L227.5,303.5L229.4,298.0L229.7,299.8L231.9,291.7L234.1,283.8L235.8,274.5L236.3,274.7L238.5,267.7L240.7,259.9L241.2,259.6L242.9,271.9L245.1,288.0L245.4,293.7L247.3,289.9L248.6,289.4L249.5,299.3L250.8,312.9L251.7,317.1L253.9,323.3L256.1,328.1L257.2,329.9L258.3,326.2L260.4,317.2L260.5,317.5L262.7,328.9L263.6,334.2L264.9,326.2L267.1,316.2L267.8,310.8L269.3,337.9L269.5,340.6L271.5,309.6L272.1,298.0L273.7,303.3L275.9,312.9L278.1,320.4L278.5,319.3L280.3,320.0L282.5,316.3L284.7,313.7L286.9,310.1L288.5,308.6L289.1,308.3L291.3,307.4L293.5,307.3L295.7,306.6L297.1,306.5L297.9,307.7L300.1,310.3L302.3,313.7L303.5,315.0L304.5,310.4L306.7,297.5L307.7,291.6L308.9,292.0L311.1,296.5L312.0,302.2L313.3,293.0L315.5,283.5L316.3,280.9L317.7,276.8L319.9,272.9L320.5,272.4L322.1,279.5L322.7,283.0L324.3,280.7L325.9,278.8L326.5,282.4L328.7,295.6L329.1,298.0L330.9,290.5L332.2,285.2L333.1,288.6L335.3,298.1L336.5,302.2L337.5,309.5L338.6,317.2L339.7,312.2L341.8,302.2L341.9,302.1L344.0,310.8L344.1,311.0L346.3,307.8L348.2,304.4L348.5,304.2L350.7,300.2L352.9,296.8L353.6,295.8L355.1,292.9L356.8,289.4L357.3,293.4L358.9,306.5L359.5,303.0L361.7,289.6L363.2,280.9L363.9,280.9L365.3,280.9L366.1,281.6L368.3,284.0L370.5,286.3L371.7,287.3L372.7,289.4L374.9,292.2L376.0,293.7L377.1,294.0L379.3,293.8L380.2,293.7L381.5,293.4L383.7,291.6L384.5,291.6L385.9,296.0L386.6,300.1L388.1,289.6L388.8,286.2L390.3,295.3L392.0,306.5L392.5,303.7L394.7,290.6L395.2,287.3L396.9,298.3L398.4,308.6L399.1,311.4L401.3,323.2L402.6,332.1L403.5,339.4L405.7,358.6L405.8,357.7L407.9,367.6L408.0,366.2L410.1,362.4L412.2,357.7L412.3,357.4L414.5,350.7L416.7,344.2L418.6,338.5L418.9,338.1L421.1,333.4L423.3,328.6L425.0,329.9L425.5,326.8L427.7,327.9L429.3,327.8L429.9,330.2L432.1,332.6L432.5,332.1L434.3,334.9L436.5,336.8L436.7,336.3L438.7,318.4L438.9,315.0L440.9,310.9L442.1,306.5L443.1,305.9L445.3,301.2L447.5,295.9L448.5,293.7L449.7,294.5L451.9,296.9L452.7,298.0L454.1,301.5L456.3,308.7L457.5,311.8L458.5,308.6L460.7,302.2L460.7,301.6L462.8,302.2L462.9,300.2L465.1,266.7L466.0,251.0L467.3,266.8L469.2,289.4L469.5,289.5L471.7,287.5L473.5,287.3L473.9,287.6L476.1,292.6L477.7,295.8L478.3,298.3L480.5,305.7L482.0,310.8L482.7,308.6L484.9,301.9L486.3,298.0L487.1,296.0L489.3,290.6L490.5,287.3L491.5,287.2L493.7,285.5L494.8,285.2L495.9,283.8L498.1,282.9L499.1,283.0L500.3,278.4L501.2,276.6L502.5,275.8L504.7,277.0L505.4,278.8L506.9,276.7L508.6,274.5L509.1,276.7L511.3,284.9L511.8,285.2L513.5,284.4L515.7,280.4L516.1,278.8L517.9,272.9L519.3,268.1L520.1,268.0L522.3,270.4L522.5,272.4L524.5,269.2L525.7,270.2L526.7,268.1L528.9,266.0L528.9,266.0L531.1,262.9L533.2,259.6L533.3,258.8L535.3,253.2L535.5,251.1L537.7,247.8L539.6,246.8L539.9,246.0L542.1,248.8L542.8,248.9L544.3,243.0L546.0,236.1L546.5,240.3L548.7,256.6L550.2,266.0L550.9,269.4L553.1,273.4L554.5,276.6L555.3,276.9L557.5,279.2L558.8,280.9L559.7,285.3L561.9,296.7L563.0,302.2L564.1,307.2L566.2,315.0L566.3,316.6L568.5,312.6L569.4,308.6L570.7,313.4L572.6,317.2L572.9,317.1L575.1,309.0L575.8,306.5L577.3,303.3L579.5,299.5L580.1,298.0L581.7,296.9L583.9,296.1L584.4,293.7L586.1,287.4L588.3,277.4L588.6,274.5L590.5,278.9L591.8,280.9L592.7,280.4L594.9,275.9L595.0,274.5L597.1,272.0L598.2,270.2L599.3,273.4L601.4,280.9L601.5,280.2L603.6,287.3L603.7,285.9L605.9,278.3L606.7,274.5L608.1,276.2L609.9,276.6L610.3,279.4L612.5,284.9L613.1,287.3L614.7,286.6L616.9,286.3L618.5,287.3L619.1,288.1L621.3,290.5L623.5,292.8L624.9,293.7L625.7,293.3L627.9,290.4L628.5,289.4L630.1,291.6L632.3,293.6L632.8,292.6L634.5,291.6L636.7,287.9L637.1,287.3L638.9,284.5L641.1,280.7L641.3,280.9L643.3,277.2L645.5,275.1L645.6,274.5L647.7,276.3L649.9,274.5L649.9,276.4L652.1,275.0L653.1,273.4L654.3,273.6L656.5,270.9L657.3,268.1L658.7,272.6L660.9,276.8L661.6,276.6L663.1,275.7L665.3,272.1L665.9,270.2L667.5,271.9L669.7,273.4L670.1,274.5L671.9,277.8L674.1,283.6L675.4,287.3L676.3,288.9L678.5,294.2L679.7,298.0L680.7,296.3L682.9,295.4L684.0,293.7L685.1,296.9L687.3,300.2L688.2,300.1L689.5,301.5L691.7,302.4L692.5,302.2L693.9,305.3L696.1,308.9L696.8,309.7L698.3,311.4L700.0,310.8L700.5,309.2L702.7,300.2L703.2,298.0L704.9,295.3L707.1,292.1L707.4,291.6L709.3,289.2L711.5,286.3L711.7,286.2L713.7,290.2L715.9,294.2L716.0,293.7L718.1,293.7L720.2,291.6L720.3,292.1L722.5,293.3L724.5,293.7L724.7,293.1L726.9,288.3L728.8,285.2L729.1,283.6L731.3,280.0L732.0,278.8L733.5,274.9L735.7,270.0L736.2,268.1L737.9,268.0L740.1,268.9L740.5,268.1L742.3,269.0L744.5,267.7L745.8,263.8L746.7,263.3L748.9,257.7L750.1,255.3L751.1,257.1L753.3,260.7L753.3,259.6L755.5,263.2L756.5,263.8L757.7,255.7L759.7,242.5L759.9,242.1L762.1,251.1L762.9,255.3L764.3,256.1L766.1,259.6L766.5,256.9L768.7,245.0L769.3,242.5L770.9,229.8L773.1,212.7L774.5,199.3L775.3,198.7L776.7,195.0L777.5,191.0L778.8,188.6L779.7,189.1L780.9,197.2L781.9,183.5L782.0,182.2L784.1,199.2L784.1,199.3L786.3,195.0L786.3,194.1L788.4,231.3L788.5,228.6L790.5,233.4L790.7,231.0L792.7,214.2L792.9,215.7L795.1,234.6L795.9,239.8L797.3,237.7L799.1,231.3L799.5,236.1L801.7,246.9L802.2,250.5L803.9,236.8L804.4,233.4L806.1,239.0L806.5,241.9L808.3,185.1L808.6,175.8L810.5,172.8L811.8,175.8L812.7,181.0L814.0,199.3L814.9,210.6L817.1,243.1L817.2,248.3L819.3,177.4L819.3,175.8L821.4,169.4L821.5,170.6L823.6,126.8L823.7,132.4L825.7,178.0L825.9,185.0L827.8,239.8L828.1,237.0L830.0,205.7L830.3,204.4L832.1,220.6L832.5,215.0L834.2,216.3L834.7,218.4L836.9,241.8L837.4,246.2L839.1,239.1L841.3,227.3L841.7,222.7L843.5,235.0L844.9,244.1L845.7,232.1L847.9,201.5L848.1,197.2L850.1,216.6L851.3,224.9L852.3,226.6L854.5,229.6L854.5,233.4L856.6,209.9L856.7,207.2L858.9,224.0L860.9,237.7L861.1,236.9L863.3,237.1L865.2,237.7L865.5,235.5L867.7,239.3L868.4,241.9L869.9,239.5L871.6,235.5L872.1,241.3L874.3,247.9L875.8,252.6L876.5,253.5L878.7,255.0L880.1,261.1L880.9,259.7L883.1,263.5L884.4,267.5L885.3,269.3L887.5,274.6L888.6,278.2L889.7,276.3L891.9,274.2L892.9,271.8L894.1,272.7L896.3,272.6L897.2,271.8L898.5,272.2L900.7,273.3L901.4,276.1L902.9,273.3L905.1,274.0L907.3,274.0L907.8,273.9L909.5,276.6L911.7,278.4L912.1,278.2L913.9,274.7L916.1,269.7L916.3,269.7L918.3,267.7L920.5,265.8L920.6,265.4L922.7,263.2L924.9,261.9L924.9,261.1L927.1,266.0L928.5,268.1L929.3,268.1L931.5,263.1L931.7,261.7L933.7,257.2L934.9,251.0L935.9,254.0L938.1,259.5L938.1,259.6L940.3,264.4L941.3,268.1L942.5,264.3L944.7,257.3L945.6,253.2L946.9,260.6L948.8,270.2L949.1,268.6L951.3,263.8L952.0,266.0L953.5,261.1L955.7,256.5L956.3,257.4L957.9,258.9L959.5,263.8L960.1,261.0L962.3,260.1L962.7,261.7L964.5,276.0L964.8,280.9L966.7,274.6L966.9,274.5L968.9,280.7L970.1,285.2L971.1,282.8L973.3,278.2L973.3,278.8L975.5,279.8L976.5,280.9L977.7,275.8L978.6,274.5L979.9,273.8L981.8,278.8L982.1,276.8L984.0,276.6L984.3,277.6L986.5,283.7L988.2,285.2L988.7,286.3L990.9,276.7L991.4,272.4L993.1,270.0L994.6,268.1L995.3,268.4L997.5,273.7L997.8,274.5L999.7,282.4L1001.0,285.2L1001.9,288.6L1003.2,290.5L1004.1,287.9L1006.3,280.5L1007.4,276.6L1008.5,280.9L1010.6,285.2L1010.7,286.8L1012.9,286.7L1013.8,286.2L1015.1,285.3L1017.3,284.5L1018.1,285.2L1019.5,284.7L1021.3,286.2L1021.7,286.8L1023.9,292.2L1024.5,292.6L1026.1,289.6L1027.7,283.0L1028.3,285.6L1030.5,287.8L1030.9,287.3L1032.7,286.1L1033.0,285.2L1034.9,282.2L1037.1,279.1L1037.3,278.8L1039.3,282.8L1041.5,287.1L1041.6,286.2L1043.7,285.5L1045.8,285.2L1045.9,283.7L1048.1,284.8L1050.1,287.3L1050.3,285.1L1052.2,276.6L1052.5,275.7L1054.7,284.0L1055.4,287.3L1056.9,286.4L1058.6,283.0L1059.1,285.0L1061.3,288.0L1062.9,289.4L1063.5,289.7L1065.7,287.3L1067.2,285.2L1067.9,285.6L1070.1,286.8L1071.4,288.4L1072.3,288.1L1074.5,286.5L1076.7,285.2L1076.7,286.2L1078.9,287.9L1079.9,289.4L1081.1,290.0L1083.3,289.9L1084.2,287.3L1085.5,288.9L1087.7,288.8L1088.5,287.3L1089.9,288.3L1092.1,287.7L1094.3,286.6L1096.5,286.2L1098.5,286.2L1098.7,286.4L1100.9,286.3L1103.1,286.6L1105.3,286.7L1107.1,286.2L1107.5,286.7L1109.7,287.1L1111.9,287.8L1114.1,288.2L1115.6,288.4L1116.3,288.6L1118.5,288.3L1120.7,287.7L1122.9,286.9L1124.1,287.3L1125.1,286.6L1127.3,287.1L1129.5,288.5L1131.7,289.5L1132.7,289.4L1133.9,289.3L1136.1,287.9L1138.3,287.4L1140.5,287.4L1141.2,287.3L1142.7,289.3L1144.9,291.0L1147.1,292.2L1147.6,292.6L1149.3,291.0L1151.5,289.4L1153.7,287.7L1154.0,288.4L1155.9,286.8L1158.1,286.4L1160.3,286.3L1160.4,286.2L1162.5,287.4L1164.7,288.0L1166.8,288.4L1166.9,288.1L1169.1,287.6L1171.3,287.2L1173.5,287.4L1175.3,287.3L1175.7,287.7L1177.9,289.2L1180.1,290.0L1181.7,290.5L1182.3,290.3L1184.5,291.4L1186.0,292.6L1186.7,292.3L1188.9,290.8L1190.2,289.4L1191.1,290.1L1193.3,292.4L1194.5,293.7L1195.5,294.9L1196.6,295.8L1197.7,292.7L1198.8,288.4L1199.9,288.5L1202.1,287.9L1204.3,287.3L1205.2,287.3L1206.5,289.0L1208.7,291.2L1209.4,291.6L1210.9,293.8L1213.1,296.5L1213.7,298.0L1215.3,296.4L1217.5,294.1L1218.0,293.7L1219.7,295.8L1221.9,297.3L1222.2,298.0L1224.1,296.2L1226.3,294.3L1226.5,293.7L1228.5,294.0L1230.7,293.9L1230.8,293.7L1232.9,294.7L1235.0,295.8L1235.1,295.7L1237.3,296.4L1239.3,298.0L1239.5,297.3L1241.7,298.3L1243.6,300.1L1243.9,300.1L1246.1,303.6L1246.7,304.4L1248.3,301.0L1249.9,295.8L1250.5,297.0L1252.7,298.8L1254.2,300.1L1254.9,298.8L1257.1,297.2L1258.5,298.0L1259.3,297.4L1261.5,298.9L1263.7,299.6L1264.3,300.1L1265.9,299.3L1268.1,297.6L1268.5,298.0L1270.3,299.6L1271.7,303.3L1272.5,300.9L1274.7,300.9L1274.9,300.1L1276.9,298.5L1279.1,293.8L1279.2,292.6L1281.3,294.0L1283.5,295.8L1283.5,296.0L1285.7,294.8L1286.7,292.6L1287.9,295.5L1290.1,298.4L1290.9,300.1L1292.3,296.8L1294.1,293.7L1294.5,294.4L1296.7,301.0L1298.4,304.4L1298.9,305.9L1301.1,303.2L1302.7,300.1L1303.3,301.0L1305.5,302.3L1305.9,303.3L1307.7,299.3L1308.0,299.0L1309.9,302.2L1311.2,304.4L1312.1,304.6L1314.3,304.2L1315.4,303.3L1316.5,306.4L1318.6,309.7L1318.7,310.7L1320.9,311.2L1321.8,311.8L1323.1,310.1L1325.3,309.5L1326.1,311.8L1327.5,309.3L1329.7,308.5L1330.4,310.8L1331.9,309.6L1333.6,311.8L1334.1,311.9L1336.3,314.8L1336.8,315.0L1338.5,316.5L1340.0,319.3L1340.7,317.0L1342.9,315.1L1343.2,317.2L1345.1,310.0L1345.3,309.7L1347.3,313.9L1348.5,317.2L1349.5,317.3L1351.7,318.5L1351.7,319.3L1353.9,315.7L1356.0,310.8L1356.1,311.0L1358.3,309.6L1360.5,307.9L1361.3,307.6L1362.7,309.9L1364.9,314.4L1365.6,315.0L1367.1,317.8L1368.8,319.3L1369.3,319.5L1371.5,322.1L1373.0,325.7L1373.7,326.5L1375.9,330.2L1377.3,329.9L1378.1,331.7L1380.3,329.9L1380.5,328.9L1382.5,328.2L1383.7,328.9L1384.7,327.2L1386.9,326.3L1388.0,325.7L1389.1,324.2L1391.3,321.1L1392.2,320.4L1393.5,321.9L1395.7,326.3L1396.5,326.7L1397.9,325.4L1400.1,322.5L1400.8,321.4L1402.3,318.6L1404.0,317.2L1404.5,317.0L1406.7,319.8L1407.2,321.4L1408.9,320.8L1409.1,320.2L1411.1,321.6L1412.9,317.3L1413.3,322.0L1415.5,327.6L1415.7,325.8L1417.7,329.0L1419.4,329.6L1419.9,330.1L1422.1,330.8L1423.2,331.4L1424.3,330.5L1426.5,331.9L1426.9,331.4L1428.7,333.8L1430.7,333.3L1430.9,336.3L1433.1,340.4L1433.5,340.8L1435.3,338.0L1436.3,335.2L1437.5,339.3L1439.1,342.7L1439.7,342.0L1441.9,332.4L1442.0,331.4L1444.1,331.0L1444.8,331.4L1446.3,338.1L1446.7,340.8L1448.5,333.4L1449.5,329.6L1450.7,331.5L1452.3,331.4L1452.9,334.7L1455.1,342.1L1455.1,342.7L1457.3,350.9L1457.9,354.0L1459.5,338.6L1459.8,335.2L1461.7,332.9L1462.1,331.4" fill="none" stroke="#ff7f0e" stroke-width="2.08" stroke-linejoin="round" stroke-linecap="square"/></g><g clip-path="url(#cb)"><path d="M116.5,978.9L117.5,976.6L118.5,974.3L119.5,971.9L120.5,969.6L121.5,968.9L122.5,968.5L123.5,968.1L124.5,967.7L125.5,967.5L126.5,967.4L127.5,967.3L128.5,967.2L129.5,966.7L130.5,965.5L131.5,964.4L132.5,963.2L133.5,962.0L134.5,961.2L135.5,960.3L136.5,959.4L137.5,958.5L138.5,958.9L139.5,959.7L140.5,960.5L141.5,961.2L142.5,961.2L143.5,960.4L144.5,959.7L145.5,958.9L146.5,958.1L147.5,957.3L148.5,956.5L149.5,955.8L150.5,955.0L151.5,953.4L152.5,951.9L153.5,950.3L154.5,948.8L155.5,947.7L156.5,946.8L157.5,945.9L158.5,945.0L159.5,945.3L160.5,946.9L161.5,948.6L162.5,950.3L163.5,952.0L164.5,954.1L165.5,956.1L166.5,958.2L167.5,960.3L168.5,962.1L169.5,964.0L170.5,965.8L171.5,967.6L172.5,967.0L173.5,965.0L174.5,963.1L175.5,961.1L176.5,956.5L177.5,947.7L178.5,942.2L179.5,945.9L180.5,949.7L181.5,953.5L182.5,957.3L183.5,958.1L184.5,958.9L185.5,959.7L186.5,960.5L187.5,960.3L188.5,959.8L189.5,959.3L190.5,958.8L191.5,957.3L192.5,954.6L193.5,951.8L194.5,949.1L195.5,946.8L196.5,946.1L197.5,945.4L198.5,944.8L199.5,944.1L200.5,954.0L201.5,964.7L202.5,975.4L203.5,978.5L204.5,978.8L205.5,979.1L206.5,978.7L207.5,977.8L208.5,976.9L209.5,976.0L210.5,972.4L211.5,961.3L212.5,951.6L213.5,951.6L214.5,951.6L215.5,951.6L216.5,951.6L217.5,954.4L218.5,957.7L219.5,960.9L220.5,964.1L221.5,965.9L222.5,966.8L223.5,967.7L224.5,968.6L225.5,969.5L226.5,970.4L227.5,971.3L228.5,972.2L229.5,972.6L230.5,966.3L231.5,960.1L232.5,953.8L233.5,953.8L234.5,954.7L235.5,955.6L236.5,953.7L237.5,950.5L238.5,947.3L239.5,944.0L240.5,944.4L241.5,949.8L242.5,955.3L243.5,960.7L244.5,965.3L245.5,964.5L246.5,963.7L247.5,963.0L248.5,962.2L249.5,957.4L250.5,952.0L251.5,946.7L252.5,946.4L253.5,948.5L254.5,950.6L255.5,953.2L256.5,956.4L257.5,959.6L258.5,962.9L259.5,965.5L260.5,965.8L261.5,966.2L262.5,966.5L263.5,966.8L264.5,962.6L265.5,958.2L266.5,953.7L267.5,960.5L268.5,970.9L269.5,981.4L270.5,989.4L271.5,995.5L272.5,1001.6L273.5,1005.2L274.5,1004.3L275.5,1003.4L276.5,1002.4L277.5,1001.0L278.5,999.5L279.5,998.1L280.5,996.6L281.5,989.9L282.5,982.5L283.5,975.0L284.5,977.3L285.5,990.2L286.5,996.8L287.5,997.2L288.5,997.6L289.5,998.0L290.5,998.4L291.5,997.8L292.5,997.0L293.5,996.2L294.5,995.4L295.5,995.8L296.5,996.9L297.5,998.1L298.5,999.3L299.5,1000.0L300.5,999.6L301.5,999.2L302.5,998.8L303.5,998.4L304.5,998.3L305.5,998.2L306.5,998.1L307.5,998.0L308.5,991.0L309.5,982.0L310.5,973.0L311.5,967.4L312.5,964.3L313.5,961.2L314.5,961.0L315.5,965.7L316.5,970.4L317.5,975.0L318.5,979.0L319.5,977.0L320.5,975.1L321.5,973.2L322.5,975.0L323.5,977.3L324.5,979.5L325.5,981.7L326.5,980.8L327.5,978.2L328.5,975.6L329.5,973.0L330.5,970.6L331.5,968.8L332.5,966.9L333.5,965.0L334.5,963.1L335.5,961.5L336.5,964.2L337.5,967.0L338.5,969.7L339.5,972.4L340.5,974.9L341.5,977.4L342.5,979.8L343.5,982.3L344.5,980.2L345.5,974.0L346.5,967.7L347.5,964.2L348.5,966.4L349.5,968.7L350.5,970.9L351.5,972.9L352.5,970.9L353.5,969.0L354.5,967.0L355.5,965.1L356.5,964.4L357.5,964.0L358.5,963.6L359.5,963.2L360.5,960.1L361.5,954.5L362.5,949.0L363.5,946.6L364.5,950.7L365.5,954.8L366.5,958.9L367.5,963.5L368.5,968.1L369.5,972.7L370.5,971.6L371.5,970.0L372.5,968.4L373.5,966.9L374.5,967.4L375.5,968.9L376.5,970.5L377.5,972.1L378.5,975.0L379.5,980.1L380.5,985.2L381.5,990.2L382.5,994.4L383.5,992.4L384.5,990.5L385.5,988.5L386.5,986.6L387.5,983.0L388.5,979.2L389.5,975.5L390.5,975.0L391.5,976.2L392.5,977.3L393.5,978.5L394.5,978.8L395.5,977.8L396.5,976.8L397.5,975.8L398.5,973.1L399.5,960.2L400.5,947.3L401.5,934.4L402.5,920.7L403.5,907.0L404.5,893.2L405.5,886.7L406.5,882.7L407.5,878.7L408.5,876.5L409.5,875.8L410.5,875.1L411.5,874.4L412.5,872.8L413.5,868.6L414.5,864.3L415.5,862.0L416.5,882.6L417.5,903.1L418.5,923.7L419.5,926.0L420.5,925.8L421.5,925.6L422.5,924.7L423.5,923.6L424.5,935.1L425.5,957.2L426.5,989.9L427.5,1017.2L428.5,1017.4L429.5,1017.6L430.5,1017.9L431.5,1018.1L432.5,1018.3L433.5,1018.6L434.5,1018.6L435.5,1018.6L436.5,1018.6L437.5,1018.6L438.5,1018.4L439.5,1018.0L440.5,1017.7L441.5,1017.4L442.5,1017.1L443.5,960.3L444.5,917.1L445.5,919.4L446.5,921.7L447.5,924.2L448.5,928.9L449.5,933.6L450.5,938.3L451.5,937.5L452.5,936.1L453.5,934.7L454.5,934.7L455.5,953.9L456.5,971.9L457.5,996.5L458.5,1012.8L459.5,1016.5L460.5,1016.3L461.5,1017.1L462.5,1017.1L463.5,1017.1L464.5,1017.1L465.5,1007.2L466.5,983.3L467.5,958.3L468.5,931.8L469.5,927.3L470.5,930.7L471.5,925.7L472.5,880.2L473.5,834.7L474.5,810.9L475.5,800.6L476.5,795.2L477.5,795.2L478.5,795.1L479.5,803.4L480.5,815.2L481.5,827.1L482.5,837.7L483.5,847.1L484.5,856.6L485.5,866.1L486.5,873.8L487.5,876.3L488.5,878.7L489.5,881.2L490.5,883.6L491.5,889.1L492.5,894.7L493.5,900.3L494.5,905.9L495.5,910.3L496.5,914.3L497.5,918.3L498.5,922.3L499.5,924.9L500.5,925.5L501.5,926.2L502.5,926.9L503.5,927.3L504.5,926.7L505.5,926.1L506.5,925.5L507.5,924.9L508.5,925.3L509.5,925.8L510.5,926.3L511.5,926.8L512.5,927.3L513.5,927.9L514.5,928.6L515.5,929.2L516.5,925.5L517.5,915.1L518.5,904.7L519.5,894.2L520.5,885.7L521.5,890.9L522.5,896.1L523.5,901.3L524.5,906.5L525.5,914.9L526.5,923.8L527.5,932.8L528.5,941.8L529.5,948.2L530.5,952.9L531.5,957.6L532.5,962.3L533.5,965.5L534.5,965.9L535.5,966.3L536.5,966.7L537.5,967.3L538.5,970.8L539.5,974.3L540.5,977.8L541.5,981.3L542.5,982.1L543.5,982.2L544.5,982.4L545.5,982.5L546.5,978.2L547.5,970.0L548.5,961.8L549.5,953.6L550.5,947.4L551.5,946.9L552.5,946.4L553.5,945.9L554.5,945.5L555.5,946.1L556.5,946.8L557.5,947.5L558.5,948.1L559.5,947.8L560.5,947.1L561.5,946.5L562.5,945.8L563.5,942.9L564.5,937.6L565.5,932.2L566.5,926.9L567.5,922.3L568.5,920.8L569.5,919.2L570.5,917.6L571.5,916.1L572.5,913.7L573.5,911.2L574.5,908.8L575.5,906.3L576.5,901.2L577.5,894.9L578.5,888.5L579.5,882.2L580.5,881.4L581.5,888.5L582.5,895.6L583.5,902.7L584.5,909.0L585.5,910.4L586.5,911.7L587.5,913.1L588.5,914.4L589.5,911.7L590.5,908.5L591.5,905.3L592.5,902.0L593.5,904.5L594.5,910.6L595.5,916.6L596.5,922.7L597.5,927.7L598.5,930.7L599.5,933.6L600.5,936.6L601.5,939.6L602.5,943.5L603.5,947.4L604.5,951.3L605.5,955.2L606.5,941.9L607.5,924.7L608.5,925.1L609.5,933.6L610.5,942.0L611.5,950.5L612.5,954.5L613.5,952.1L614.5,949.8L615.5,947.4L616.5,943.6L617.5,931.6L618.5,919.7L619.5,907.7L620.5,895.7L621.5,902.0L622.5,910.6L623.5,919.1L624.5,927.7L625.5,938.3L626.5,933.4L627.5,928.5L628.5,923.6L629.5,922.5L630.5,921.5L631.5,920.5L632.5,919.9L633.5,914.9L634.5,908.0L635.5,901.1L636.5,894.3L637.5,889.8L638.5,888.1L639.5,886.5L640.5,884.8L641.5,884.5L642.5,890.6L643.5,896.7L644.5,902.9L645.5,909.0L646.5,913.0L647.5,916.8L648.5,920.6L649.5,924.4L650.5,921.6L651.5,915.3L652.5,908.9L653.5,902.6L654.5,898.3L655.5,897.6L656.5,897.0L657.5,896.4L658.5,895.9L659.5,896.9L660.5,897.8L661.5,898.6L662.5,899.3L663.5,899.4L664.5,899.3L665.5,899.3L666.5,899.2L667.5,900.2L668.5,901.5L669.5,902.8L670.5,904.1L671.5,903.6L672.5,900.0L673.5,896.4L674.5,892.8L675.5,889.4L676.5,888.2L677.5,887.1L678.5,885.9L679.5,884.7L680.5,884.5L681.5,884.3L682.5,884.0L683.5,883.8L684.5,887.2L685.5,893.9L686.5,900.6L687.5,907.6L688.5,911.3L689.5,905.1L690.5,899.0L691.5,892.8L692.5,886.6L693.5,877.7L694.5,868.7L695.5,859.7L696.5,850.8L697.5,849.7L698.5,851.8L699.5,854.4L700.5,857.0L701.5,862.9L702.5,872.5L703.5,882.1L704.5,891.7L705.5,898.0L706.5,891.1L707.5,884.2L708.5,877.3L709.5,870.4L710.5,872.8L711.5,875.9L712.5,879.0L713.5,882.2L714.5,878.8L715.5,872.2L716.5,865.4L717.5,858.5L718.5,859.8L719.5,873.2L720.5,886.6L721.5,900.0L722.5,911.9L723.5,913.3L724.5,914.7L725.5,916.1L726.5,917.5L727.5,918.3L728.5,919.7L729.5,921.0L730.5,922.4L731.5,959.0L732.5,961.3L733.5,962.4L734.5,961.3L735.5,960.2L736.5,960.1L737.5,961.1L738.5,962.1L739.5,963.4L740.5,965.1L741.5,966.8L742.5,970.8L743.5,976.0L744.5,985.1L745.5,993.1L746.5,983.6L747.5,947.7L748.5,942.7L749.5,943.0L750.5,943.3L751.5,945.4L752.5,947.7L753.5,960.0L754.5,952.8L755.5,932.8L756.5,914.8L757.5,930.4L758.5,948.1L759.5,962.8L760.5,965.0L761.5,967.2L762.5,969.1L763.5,970.5L764.5,971.8L765.5,964.7L766.5,947.0L767.5,928.8L768.5,909.4L769.5,906.2L770.5,906.4L771.5,913.2L772.5,923.6L773.5,934.0L774.5,944.4L775.5,954.7L776.5,965.1L777.5,971.4L778.5,977.0L779.5,982.5L780.5,986.6L781.5,990.6L782.5,994.6L783.5,996.5L784.5,998.5L785.5,999.6L786.5,995.6L787.5,991.6L788.5,989.0L789.5,991.1L790.5,993.1L791.5,992.7L792.5,987.2L793.5,981.7L794.5,978.6L795.5,978.8L796.5,980.6L797.5,982.5L798.5,984.3L799.5,971.8L800.5,958.9L801.5,946.0L802.5,941.6L803.5,943.9L804.5,946.1L805.5,949.3L806.5,959.2L807.5,963.9L808.5,961.7L809.5,959.5L810.5,957.4L811.5,956.9L812.5,956.4L813.5,955.9L814.5,948.2L815.5,936.0L816.5,923.8L817.5,917.4L818.5,933.8L819.5,950.3L820.5,966.4L821.5,982.1L822.5,984.7L823.5,986.4L824.5,987.6L825.5,988.1L826.5,988.6L827.5,989.1L828.5,989.5L829.5,989.9L830.5,990.3L831.5,987.3L832.5,981.7L833.5,976.0L834.5,971.3L835.5,972.5L836.5,973.8L837.5,975.1L838.5,977.3L839.5,979.9L840.5,982.4L841.5,983.1L842.5,979.5L843.5,976.0L844.5,972.4L845.5,963.1L846.5,953.2L847.5,943.3L848.5,942.8L849.5,952.3L850.5,961.8L851.5,969.3L852.5,976.7L853.5,981.4L854.5,981.5L855.5,984.7L856.5,989.5L857.5,994.3L858.5,998.0L859.5,998.4L860.5,998.8L861.5,999.1L862.5,1000.3L863.5,1001.6L864.5,1002.8L865.5,1003.6L866.5,1003.6L867.5,1003.6L868.5,1003.6L869.5,1002.8L870.5,1002.0L871.5,1001.2L872.5,1000.0L873.5,998.4L874.5,996.9L875.5,995.8L876.5,997.1L877.5,998.4L878.5,999.7L879.5,1000.6L880.5,1001.3L881.5,1002.1L882.5,1003.7L883.5,1006.5L884.5,1009.3L885.5,1012.2L886.5,1011.5L887.5,1010.6L888.5,1009.7L889.5,1008.2L890.5,1006.2L891.5,1004.3L892.5,1007.4L893.5,1010.4L894.5,1012.1L895.5,1011.8L896.5,1011.5L897.5,1011.1L898.5,1010.8L899.5,1010.5L900.5,1010.2L901.5,1010.0L902.5,1009.7L903.5,1009.1L904.5,1008.4L905.5,1007.7L906.5,1006.6L907.5,1004.9L908.5,1003.2L909.5,1001.5L910.5,998.9L911.5,996.3L912.5,996.0L913.5,997.8L914.5,999.7L915.5,1001.6L916.5,1002.9L917.5,1002.5L918.5,1002.1L919.5,1001.7L920.5,1003.3L921.5,1005.2L922.5,1007.2L923.5,1007.5L924.5,1005.4L925.5,1003.3L926.5,1004.3L927.5,1005.9L928.5,1007.5L929.5,1009.0L930.5,1010.1L931.5,1010.9L932.5,1011.7L933.5,1012.2L934.5,1011.4L935.5,1010.6L936.5,1009.8L937.5,1010.9L938.5,1012.6L939.5,1014.3L940.5,1016.2L941.5,1018.5L942.5,1016.8L943.5,1019.8L944.5,1019.0L945.5,1018.0L946.5,1017.0L947.5,1017.1L948.5,1018.1L949.5,1019.1L950.5,1019.9L951.5,1019.4L952.5,1018.9L953.5,1018.4L954.5,1018.6L955.5,1019.1L956.5,1019.6L957.5,1019.2L958.5,1016.7L959.5,1018.7L960.5,1016.9L961.5,1015.7L962.5,1014.5L963.5,1013.3L964.5,1013.1L965.5,1012.1L966.5,1012.0L967.5,1013.3L968.5,1014.6L969.5,1015.8L970.5,1017.1L971.5,1017.6L972.5,1018.0L973.5,1018.4L974.5,1018.8L975.5,1019.2L976.5,1015.2L977.5,1015.7L978.5,1019.6L979.5,1019.1L980.5,1018.6L981.5,1018.1L982.5,1017.5L983.5,1016.9L984.5,1016.1L985.5,1015.3L986.5,1014.6L987.5,1013.8L988.5,1013.9L989.5,1016.6L990.5,1019.3L991.5,1018.3L992.5,1019.6L993.5,1020.1L994.5,1020.6L995.5,1021.1L996.5,1021.6L997.5,1022.1L998.5,1022.6L999.5,1022.2L1000.5,1021.2L1001.5,1020.2L1002.5,1019.2L1003.5,1018.2L1004.5,1017.2L1005.5,1016.2L1006.5,1016.2L1007.5,1016.9L1008.5,1017.7L1009.5,1018.4L1010.5,1019.2L1011.5,1019.9L1012.5,1020.7L1013.5,1021.2L1014.5,1021.4L1015.5,1021.7L1016.5,1021.9L1017.5,1022.2L1018.5,1022.4L1019.5,1022.7L1020.5,1022.8L1021.5,1022.8L1022.5,1022.8L1023.5,1022.8L1024.5,1022.8L1025.5,1022.8L1026.5,1022.8L1027.5,1022.6L1028.5,1022.1L1029.5,1021.6L1030.5,1021.1L1031.5,1021.4L1032.5,1021.8L1033.5,1022.1L1034.5,1022.5L1035.5,1022.9L1036.5,1023.3L1037.5,1023.6L1038.5,1023.8L1039.5,1023.9L1040.5,1024.1L1041.5,1024.2L1042.5,1024.3L1043.5,1024.4L1044.5,1024.6L1045.5,1024.7L1046.5,1024.8L1047.5,1024.9L1048.5,1025.1L1049.5,1025.2L1050.5,1025.3L1051.5,1025.4L1052.5,1025.4L1053.5,1025.3L1054.5,1025.1L1055.5,1025.0L1056.5,1024.9L1057.5,1024.8L1058.5,1024.6L1059.5,1024.7L1060.5,1024.8L1061.5,1024.9L1062.5,1025.0L1063.5,1025.2L1064.5,1025.3L1065.5,1025.4L1066.5,1025.3L1067.5,1024.9L1068.5,1024.5L1069.5,1024.1L1070.5,1023.8L1071.5,1023.4L1072.5,1023.0L1073.5,1022.9L1074.5,1023.2L1075.5,1023.4L1076.5,1023.7L1077.5,1023.9L1078.5,1024.2L1079.5,1024.4L1080.5,1024.7L1081.5,1024.9L1082.5,1025.2L1083.5,1025.4L1084.5,1025.7L1085.5,1025.9L1086.5,1026.2L1087.5,1026.3L1088.5,1026.2L1089.5,1026.1L1090.5,1025.9L1091.5,1025.8L1092.5,1025.7L1093.5,1025.6L1094.5,1025.5L1095.5,1025.6L1096.5,1025.8L1097.5,1025.9L1098.5,1026.0L1099.5,1026.1L1100.5,1026.3L1101.5,1026.3L1102.5,1026.2L1103.5,1026.1L1104.5,1026.0L1105.5,1025.8L1106.5,1025.7L1107.5,1025.6L1108.5,1025.5L1109.5,1025.6L1110.5,1025.7L1111.5,1025.9L1112.5,1026.0L1113.5,1026.1L1114.5,1026.2L1115.5,1026.4L1116.5,1026.4L1117.5,1026.4L1118.5,1026.4L1119.5,1026.4L1120.5,1026.4L1121.5,1026.4L1122.5,1026.4L1123.5,1026.2L1124.5,1026.1L1125.5,1026.0L1126.5,1025.9L1127.5,1025.7L1128.5,1025.6L1129.5,1025.5L1130.5,1025.5L1131.5,1025.5L1132.5,1025.5L1133.5,1025.5L1134.5,1025.5L1135.5,1025.5L1136.5,1025.5L1137.5,1025.5L1138.5,1025.5L1139.5,1025.5L1140.5,1025.5L1141.5,1025.5L1142.5,1025.5L1143.5,1025.5L1144.5,1025.4L1145.5,1025.2L1146.5,1025.1L1147.5,1025.0L1148.5,1024.9L1149.5,1024.7L1150.5,1024.6L1151.5,1024.7L1152.5,1024.8L1153.5,1024.9L1154.5,1025.1L1155.5,1025.2L1156.5,1025.3L1157.5,1025.4L1158.5,1025.4L1159.5,1025.3L1160.5,1025.1L1161.5,1025.0L1162.5,1024.9L1163.5,1024.8L1164.5,1024.6L1165.5,1024.7L1166.5,1024.8L1167.5,1024.9L1168.5,1025.0L1169.5,1025.2L1170.5,1025.3L1171.5,1025.4L1172.5,1025.5L1173.5,1025.7L1174.5,1025.8L1175.5,1025.9L1176.5,1026.0L1177.5,1026.2L1178.5,1026.3L1179.5,1026.2L1180.5,1026.0L1181.5,1025.7L1182.5,1025.5L1183.5,1025.2L1184.5,1025.0L1185.5,1024.7L1186.5,1024.5L1187.5,1024.4L1188.5,1024.3L1189.5,1024.2L1190.5,1024.0L1191.5,1023.9L1192.5,1023.8L1193.5,1023.8L1194.5,1024.0L1195.5,1024.3L1196.5,1024.5L1197.5,1024.8L1198.5,1025.0L1199.5,1025.3L1200.5,1025.4L1201.5,1025.3L1202.5,1025.2L1203.5,1025.1L1204.5,1024.9L1205.5,1024.8L1206.5,1024.7L1207.5,1024.5L1208.5,1024.3L1209.5,1024.0L1210.5,1023.8L1211.5,1023.5L1212.5,1023.3L1213.5,1023.0L1214.5,1022.8L1215.5,1023.7L1216.5,1023.6L1217.5,1023.5L1218.5,1023.4L1219.5,1023.3L1220.5,1023.2L1221.5,1023.1L1222.5,1023.0L1223.5,1022.9L1224.5,1022.8L1225.5,1022.7L1226.5,1022.6L1227.5,1022.5L1228.5,1022.4L1229.5,1022.4L1230.5,1022.4L1231.5,1022.4L1232.5,1022.4L1233.5,1022.4L1234.5,1022.4L1235.5,1022.4L1236.5,1022.4L1237.5,1022.2L1238.5,1021.9L1239.5,1021.6L1240.5,1021.3L1241.5,1021.0L1242.5,1020.7L1243.5,1020.4L1244.5,1020.1L1245.5,1019.8L1246.5,1019.9L1247.5,1020.1L1248.5,1020.3L1249.5,1020.5L1250.5,1020.7L1251.5,1020.9L1252.5,1021.1L1253.5,1021.3L1254.5,1021.5L1255.5,1019.7L1256.5,1017.9L1257.5,1016.1L1258.5,1019.1L1259.5,1018.8L1260.5,1019.4L1261.5,1020.0L1262.5,1016.4L1263.5,1017.1L1264.5,1017.1L1265.5,1017.1L1266.5,1017.1L1267.5,1017.1L1268.5,1017.1L1269.5,1017.1L1270.5,1017.1L1271.5,1017.1L1272.5,1017.1L1273.5,1017.1L1274.5,1017.1L1275.5,1017.1L1276.5,1017.1L1277.5,1017.1L1278.5,1017.1L1279.5,1017.1L1280.5,1017.1L1281.5,1017.0L1282.5,1016.8L1283.5,1016.6L1284.5,1016.4L1285.5,1016.2L1286.5,1016.0L1287.5,1015.8L1288.5,1015.6L1289.5,1015.4L1290.5,1015.3L1291.5,1015.3L1292.5,1015.3L1293.5,1015.3L1294.5,1015.3L1295.5,1015.3L1296.5,1015.3L1297.5,1015.3L1298.5,1015.3L1299.5,1015.1L1300.5,1019.1L1301.5,1018.8L1302.5,1018.5L1303.5,1018.2L1304.5,1017.8L1305.5,1017.5L1306.5,1017.2L1307.5,1016.9L1308.5,1016.7L1309.5,1016.7L1310.5,1016.7L1311.5,1016.7L1312.5,1016.7L1313.5,1016.7L1314.5,1016.7L1315.5,1016.7L1316.5,1016.6L1317.5,1016.5L1318.5,1016.3L1319.5,1016.1L1320.5,1015.8L1321.5,1015.6L1322.5,1015.4L1323.5,1015.2L1324.5,1013.5L1325.5,1010.8L1326.5,1008.0L1327.5,1005.3L1328.5,1004.1L1329.5,1002.9L1330.5,1001.7L1331.5,1001.4L1332.5,1002.2L1333.5,1002.9L1334.5,1003.7L1335.5,1004.5L1336.5,1005.2L1337.5,1006.0L1338.5,1007.2L1339.5,1009.1L1340.5,1011.1L1341.5,1013.0L1342.5,1013.2L1343.5,1012.8L1344.5,1012.4L1345.5,1011.8L1346.5,1010.7L1347.5,1009.5L1348.5,1008.3L1349.5,1007.7L1350.5,1007.3L1351.5,1006.9L1352.5,1006.5L1353.5,1005.7L1354.5,1005.0L1355.5,1004.2L1356.5,1003.4L1357.5,1002.7L1358.5,1002.3L1359.5,1002.1L1360.5,1001.9L1361.5,1001.6L1362.5,1001.4L1363.5,1001.4L1364.5,1001.9L1365.5,1002.3L1366.5,1002.7L1367.5,1004.7L1368.5,1007.0L1369.5,1009.3L1370.5,1010.2L1371.5,1007.8L1372.5,1005.4L1373.5,1003.0L1374.5,1002.7L1375.5,1003.0L1376.5,1003.4L1377.5,1003.7L1378.5,1004.1L1379.5,1004.4L1380.5,1004.8L1381.5,1004.7L1382.5,1004.3L1383.5,1003.9L1384.5,1003.4L1385.5,1001.1L1386.5,998.7L1387.5,996.4L1388.5,995.6L1389.5,996.4L1390.5,997.2L1391.5,998.0L1392.5,998.5L1393.5,999.0L1394.5,999.5L1395.5,1000.1L1396.5,1000.6L1397.5,1000.1L1398.5,998.8L1399.5,997.6L1400.5,996.4L1401.5,994.0L1402.5,991.6L1403.5,989.2L1404.5,986.8L1405.5,984.4L1406.5,982.1L1407.5,979.8L1408.5,981.7L1409.5,984.1L1410.5,986.4L1411.5,988.2L1412.5,989.0L1413.5,989.7L1414.5,990.5L1415.5,992.2L1416.5,994.1L1417.5,996.0L1418.5,996.8L1419.5,994.0L1420.5,991.2L1421.5,988.5L1422.5,987.3L1423.5,986.9L1424.5,986.5L1425.5,986.0L1426.5,984.8L1427.5,983.6L1428.5,982.5L1429.5,982.0L1430.5,982.0L1431.5,982.0L1432.5,981.9L1433.5,978.9L1434.5,975.8L1435.5,972.7L1436.5,972.7L1437.5,976.6L1438.5,980.5L1439.5,984.4L1440.5,985.6L1441.5,986.4L1442.5,987.1L1443.5,987.2L1444.5,986.0L1445.5,984.8L1446.5,983.6L1447.5,982.4L1448.5,981.2L1449.5,980.0L1450.5,979.3L1451.5,980.9L1452.5,982.4L1453.5,984.0L1454.5,985.0L1455.5,985.8L1456.5,986.6L1457.5,987.2L1458.5,985.2L1459.5,983.3L1460.5,981.3L1460.5,1021.4L1459.5,1021.4L1458.5,1021.4L1457.5,1021.4L1456.5,1021.4L1455.5,1021.4L1454.5,1021.4L1453.5,1021.4L1452.5,1021.4L1451.5,1021.4L1450.5,1021.4L1449.5,1021.5L1448.5,1021.7L1447.5,1021.9L1446.5,1022.1L1445.5,1022.3L1444.5,1022.5L1443.5,1022.7L1442.5,1022.9L1441.5,1023.1L1440.5,1023.1L1439.5,1023.0L1438.5,1022.9L1437.5,1022.8L1436.5,1022.7L1435.5,1022.6L1434.5,1022.5L1433.5,1022.4L1432.5,1022.3L1431.5,1022.3L1430.5,1022.3L1429.5,1022.3L1428.5,1022.3L1427.5,1022.3L1426.5,1022.3L1425.5,1022.3L1424.5,1022.3L1423.5,1022.3L1422.5,1022.5L1421.5,1022.7L1420.5,1022.9L1419.5,1023.1L1418.5,1023.3L1417.5,1023.5L1416.5,1023.7L1415.5,1023.9L1414.5,1024.0L1413.5,1024.0L1412.5,1024.0L1411.5,1024.0L1410.5,1024.0L1409.5,1024.0L1408.5,1024.0L1407.5,1024.0L1406.5,1024.0L1405.5,1024.1L1404.5,1024.3L1403.5,1024.5L1402.5,1024.7L1401.5,1024.9L1400.5,1025.1L1399.5,1025.3L1398.5,1025.5L1397.5,1025.7L1396.5,1025.8L1395.5,1025.8L1394.5,1025.8L1393.5,1025.8L1392.5,1025.8L1391.5,1025.8L1390.5,1025.8L1389.5,1025.8L1388.5,1025.8L1387.5,1025.8L1386.5,1025.8L1385.5,1025.8L1384.5,1025.8L1383.5,1025.8L1382.5,1025.8L1381.5,1025.8L1380.5,1025.8L1379.5,1025.8L1378.5,1026.0L1377.5,1026.2L1376.5,1026.4L1375.5,1026.6L1374.5,1026.8L1373.5,1027.0L1372.5,1027.2L1371.5,1027.5L1370.5,1027.7L1369.5,1027.9L1368.5,1028.1L1367.5,1028.3L1366.5,1028.5L1365.5,1028.4L1364.5,1028.2L1363.5,1028.1L1362.5,1028.0L1361.5,1027.9L1360.5,1027.7L1359.5,1027.6L1358.5,1027.5L1357.5,1027.4L1356.5,1027.2L1355.5,1027.1L1354.5,1027.0L1353.5,1026.9L1352.5,1026.7L1351.5,1026.7L1350.5,1026.7L1349.5,1026.7L1348.5,1026.7L1347.5,1026.7L1346.5,1026.7L1345.5,1026.7L1344.5,1026.7L1343.5,1026.7L1342.5,1026.7L1341.5,1026.7L1340.5,1026.7L1339.5,1026.7L1338.5,1026.7L1337.5,1026.7L1336.5,1026.7L1335.5,1026.7L1334.5,1026.7L1333.5,1026.8L1332.5,1026.9L1331.5,1027.0L1330.5,1027.1L1329.5,1027.2L1328.5,1027.3L1327.5,1027.4L1326.5,1027.5L1325.5,1027.6L1324.5,1027.7L1323.5,1027.8L1322.5,1027.9L1321.5,1028.0L1320.5,1028.1L1319.5,1028.2L1318.5,1028.3L1317.5,1028.4L1316.5,1028.5L1315.5,1028.6L1314.5,1028.6L1313.5,1028.7L1312.5,1028.7L1311.5,1028.8L1310.5,1028.8L1309.5,1028.9L1308.5,1028.9L1307.5,1029.0L1306.5,1029.0L1305.5,1029.1L1304.5,1029.1L1303.5,1029.2L1302.5,1029.2L1301.5,1029.3L1300.5,1029.3L1299.5,1029.4L1298.5,1029.4L1297.5,1029.4L1296.5,1029.4L1295.5,1029.4L1294.5,1029.4L1293.5,1029.4L1292.5,1029.4L1291.5,1029.4L1290.5,1029.4L1289.5,1029.4L1288.5,1029.4L1287.5,1029.4L1286.5,1029.4L1285.5,1029.4L1284.5,1029.4L1283.5,1029.4L1282.5,1029.4L1281.5,1029.4L1280.5,1029.4L1279.5,1029.5L1278.5,1029.5L1277.5,1029.6L1276.5,1029.6L1275.5,1029.7L1274.5,1029.7L1273.5,1029.8L1272.5,1029.8L1271.5,1029.9L1270.5,1029.9L1269.5,1030.0L1268.5,1030.0L1267.5,1030.1L1266.5,1030.1L1265.5,1030.2L1264.5,1030.2L1263.5,1030.3L1262.5,1030.3L1261.5,1030.3L1260.5,1030.3L1259.5,1030.3L1258.5,1030.3L1257.5,1030.3L1256.5,1030.3L1255.5,1030.3L1254.5,1030.3L1253.5,1030.3L1252.5,1030.3L1251.5,1030.3L1250.5,1030.3L1249.5,1030.3L1248.5,1030.3L1247.5,1030.3L1246.5,1030.3L1245.5,1030.3L1244.5,1030.3L1243.5,1030.3L1242.5,1030.3L1241.5,1030.3L1240.5,1030.3L1239.5,1030.3L1238.5,1030.3L1237.5,1030.3L1236.5,1030.3L1235.5,1030.3L1234.5,1030.3L1233.5,1030.3L1232.5,1030.3L1231.5,1030.3L1230.5,1030.3L1229.5,1030.3L1228.5,1030.3L1227.5,1030.3L1226.5,1030.2L1225.5,1030.2L1224.5,1030.1L1223.5,1030.1L1222.5,1030.0L1221.5,1030.0L1220.5,1029.9L1219.5,1029.9L1218.5,1029.8L1217.5,1029.8L1216.5,1029.7L1215.5,1029.7L1214.5,1030.7L1213.5,1030.7L1212.5,1030.7L1211.5,1030.7L1210.5,1030.7L1209.5,1030.8L1208.5,1030.8L1207.5,1030.8L1206.5,1030.8L1205.5,1030.8L1204.5,1030.9L1203.5,1030.9L1202.5,1030.9L1201.5,1030.9L1200.5,1030.9L1199.5,1030.9L1198.5,1031.0L1197.5,1031.0L1196.5,1031.0L1195.5,1031.0L1194.5,1031.0L1193.5,1031.1L1192.5,1031.1L1191.5,1031.1L1190.5,1031.1L1189.5,1031.1L1188.5,1031.1L1187.5,1031.2L1186.5,1031.2L1185.5,1031.2L1184.5,1031.2L1183.5,1031.2L1182.5,1031.3L1181.5,1031.3L1180.5,1031.3L1179.5,1031.3L1178.5,1031.3L1177.5,1031.4L1176.5,1031.4L1175.5,1031.4L1174.5,1031.4L1173.5,1031.4L1172.5,1031.4L1171.5,1031.5L1170.5,1031.5L1169.5,1031.5L1168.5,1031.5L1167.5,1031.5L1166.5,1031.5L1165.5,1031.5L1164.5,1031.5L1163.5,1031.5L1162.5,1031.5L1161.5,1031.5L1160.5,1031.5L1159.5,1031.5L1158.5,1031.5L1157.5,1031.5L1156.5,1031.5L1155.5,1031.5L1154.5,1031.5L1153.5,1031.5L1152.5,1031.5L1151.5,1031.5L1150.5,1031.5L1149.5,1031.5L1148.5,1031.5L1147.5,1031.5L1146.5,1031.5L1145.5,1031.5L1144.5,1031.5L1143.5,1031.5L1142.5,1031.5L1141.5,1031.5L1140.5,1031.5L1139.5,1031.5L1138.5,1031.5L1137.5,1031.5L1136.5,1031.5L1135.5,1031.5L1134.5,1031.5L1133.5,1031.5L1132.5,1031.5L1131.5,1031.5L1130.5,1031.5L1129.5,1031.5L1128.5,1031.5L1127.5,1031.5L1126.5,1031.5L1125.5,1031.5L1124.5,1031.5L1123.5,1031.5L1122.5,1031.5L1121.5,1031.5L1120.5,1031.5L1119.5,1031.5L1118.5,1031.5L1117.5,1031.5L1116.5,1031.5L1115.5,1031.5L1114.5,1031.5L1113.5,1031.5L1112.5,1031.5L1111.5,1031.5L1110.5,1031.5L1109.5,1031.5L1108.5,1031.5L1107.5,1031.5L1106.5,1031.5L1105.5,1031.5L1104.5,1031.5L1103.5,1031.5L1102.5,1031.5L1101.5,1031.5L1100.5,1031.5L1099.5,1031.5L1098.5,1031.5L1097.5,1031.5L1096.5,1031.5L1095.5,1031.5L1094.5,1031.5L1093.5,1031.5L1092.5,1031.5L1091.5,1031.5L1090.5,1031.5L1089.5,1031.5L1088.5,1031.5L1087.5,1031.5L1086.5,1031.5L1085.5,1031.5L1084.5,1031.5L1083.5,1031.5L1082.5,1031.5L1081.5,1031.5L1080.5,1031.5L1079.5,1031.5L1078.5,1031.5L1077.5,1031.5L1076.5,1031.5L1075.5,1031.5L1074.5,1031.5L1073.5,1031.5L1072.5,1031.5L1071.5,1031.5L1070.5,1031.5L1069.5,1031.5L1068.5,1031.5L1067.5,1031.5L1066.5,1031.5L1065.5,1031.4L1064.5,1031.4L1063.5,1031.4L1062.5,1031.4L1061.5,1031.4L1060.5,1031.4L1059.5,1031.3L1058.5,1031.3L1057.5,1031.3L1056.5,1031.3L1055.5,1031.3L1054.5,1031.3L1053.5,1031.2L1052.5,1031.2L1051.5,1031.2L1050.5,1031.2L1049.5,1031.2L1048.5,1031.2L1047.5,1031.1L1046.5,1031.1L1045.5,1031.1L1044.5,1031.1L1043.5,1031.1L1042.5,1031.1L1041.5,1031.0L1040.5,1031.0L1039.5,1031.0L1038.5,1031.0L1037.5,1031.0L1036.5,1031.0L1035.5,1030.9L1034.5,1030.9L1033.5,1030.9L1032.5,1030.9L1031.5,1030.9L1030.5,1030.9L1029.5,1030.8L1028.5,1030.8L1027.5,1030.8L1026.5,1030.8L1025.5,1030.8L1024.5,1030.8L1023.5,1030.7L1022.5,1030.7L1021.5,1030.7L1020.5,1030.7L1019.5,1030.7L1018.5,1030.7L1017.5,1030.6L1016.5,1030.6L1015.5,1030.6L1014.5,1030.6L1013.5,1030.6L1012.5,1030.6L1011.5,1030.5L1010.5,1030.5L1009.5,1030.5L1008.5,1030.5L1007.5,1030.4L1006.5,1030.4L1005.5,1030.4L1004.5,1030.4L1003.5,1030.3L1002.5,1030.3L1001.5,1030.3L1000.5,1030.3L999.5,1030.2L998.5,1030.2L997.5,1030.2L996.5,1030.2L995.5,1030.1L994.5,1030.1L993.5,1030.1L992.5,1030.1L991.5,1030.0L990.5,1030.0L989.5,1030.0L988.5,1030.0L987.5,1029.9L986.5,1029.9L985.5,1029.9L984.5,1029.9L983.5,1029.8L982.5,1029.8L981.5,1029.8L980.5,1029.8L979.5,1029.7L978.5,1029.7L977.5,1029.7L976.5,1029.6L975.5,1029.6L974.5,1029.5L973.5,1029.5L972.5,1029.4L971.5,1029.4L970.5,1029.3L969.5,1029.3L968.5,1029.2L967.5,1029.2L966.5,1029.1L965.5,1029.1L964.5,1029.9L963.5,1029.8L962.5,1029.8L961.5,1029.8L960.5,1029.8L959.5,1029.3L958.5,1028.8L957.5,1028.3L956.5,1028.5L955.5,1029.0L954.5,1029.5L953.5,1029.7L952.5,1029.2L951.5,1028.7L950.5,1028.2L949.5,1028.5L948.5,1029.0L947.5,1029.5L946.5,1029.8L945.5,1029.8L944.5,1029.8L943.5,1029.8L942.5,1029.8L941.5,1029.8L940.5,1029.8L939.5,1029.5L938.5,1029.0L937.5,1028.5L936.5,1028.1L935.5,1028.1L934.5,1028.1L933.5,1028.1L932.5,1028.1L931.5,1028.1L930.5,1028.1L929.5,1028.1L928.5,1028.1L927.5,1028.1L926.5,1028.1L925.5,1028.1L924.5,1028.1L923.5,1028.1L922.5,1028.1L921.5,1028.1L920.5,1028.1L919.5,1028.1L918.5,1028.1L917.5,1028.1L916.5,1028.1L915.5,1028.1L914.5,1028.1L913.5,1028.1L912.5,1028.1L911.5,1028.1L910.5,1028.1L909.5,1028.1L908.5,1028.6L907.5,1029.1L906.5,1029.6L905.5,1029.6L904.5,1029.1L903.5,1028.6L902.5,1028.1L901.5,1027.6L900.5,1027.1L899.5,1026.6L898.5,1026.6L897.5,1026.8L896.5,1027.1L895.5,1027.3L894.5,1027.6L893.5,1027.8L892.5,1028.1L891.5,1027.7L890.5,1027.2L889.5,1026.7L888.5,1026.6L887.5,1027.1L886.5,1027.6L885.5,1028.1L884.5,1027.6L883.5,1027.1L882.5,1026.6L881.5,1026.4L880.5,1026.4L879.5,1026.4L878.5,1026.3L877.5,1025.8L876.5,1025.3L875.5,1024.8L874.5,1024.7L873.5,1024.7L872.5,1024.7L871.5,1024.7L870.5,1024.7L869.5,1024.7L868.5,1024.7L867.5,1024.7L866.5,1024.7L865.5,1024.7L864.5,1024.4L863.5,1023.9L862.5,1023.4L861.5,1023.0L860.5,1023.0L859.5,1023.0L858.5,1023.0L857.5,1022.6L856.5,1022.1L855.5,1021.6L854.5,1021.1L853.5,1020.6L852.5,1020.1L851.5,1019.6L850.5,1019.1L849.5,1018.6L848.5,1018.1L847.5,1017.4L846.5,1016.4L845.5,1015.4L844.5,1014.7L843.5,1016.7L842.5,1018.7L841.5,1020.7L840.5,1020.6L839.5,1019.6L838.5,1018.6L837.5,1017.7L836.5,1017.2L835.5,1016.7L834.5,1016.2L833.5,1017.0L832.5,1018.0L831.5,1019.0L830.5,1019.6L829.5,1019.6L828.5,1019.6L827.5,1019.6L826.5,1019.1L825.5,1018.6L824.5,1018.1L823.5,1017.6L822.5,1017.1L821.5,1016.6L820.5,1015.8L819.5,1014.3L818.5,1012.8L817.5,1011.3L816.5,1011.4L815.5,1011.9L814.5,1012.4L813.5,1012.9L812.5,1013.4L811.5,1013.9L810.5,1014.4L809.5,1015.4L808.5,1016.4L807.5,1017.4L806.5,1018.4L805.5,1019.4L804.5,1020.4L803.5,1021.3L802.5,1021.3L801.5,1021.3L800.5,1021.3L799.5,1021.7L798.5,1022.2L797.5,1022.7L796.5,1023.2L795.5,1023.7L794.5,1025.1L793.5,1025.2L792.5,1025.2L791.5,1025.2L790.5,1024.9L789.5,1024.4L788.5,1023.9L787.5,1024.1L786.5,1024.6L785.5,1025.1L784.5,1025.2L783.5,1025.2L782.5,1025.2L781.5,1024.7L780.5,1024.2L779.5,1023.7L778.5,1023.2L777.5,1022.7L776.5,1022.1L775.5,1021.1L774.5,1020.1L773.5,1018.6L772.5,1015.6L771.5,1012.6L770.5,1010.3L769.5,1009.3L768.5,1008.3L767.5,1007.8L766.5,1007.8L765.5,1007.8L764.5,1008.4L763.5,1009.4L762.5,1010.4L761.5,1011.0L760.5,1011.5L759.5,1012.0L758.5,1012.1L757.5,1012.1L756.5,1012.1L755.5,1014.3L754.5,1016.8L753.5,1019.3L752.5,1020.8L751.5,1022.3L750.5,1023.8L749.5,1024.3L748.5,1024.8L747.5,1025.2L746.5,1025.2L745.5,1025.2L744.5,1025.2L743.5,1025.2L742.5,1025.2L741.5,1025.0L740.5,1024.5L739.5,1024.0L738.5,1023.3L737.5,1022.3L736.5,1021.3L735.5,1021.7L734.5,1023.2L733.5,1024.7L732.5,1023.0L731.5,1019.5L730.5,1016.0L729.5,1013.2L728.5,1010.7L727.5,1008.2L726.5,1008.4L725.5,1009.2L724.5,1009.9L723.5,1010.7L722.5,1011.4L721.5,1012.2L720.5,1013.2L719.5,1014.2L718.5,1015.2L717.5,1016.2L716.5,1017.2L715.5,1018.0L714.5,1018.0L713.5,1018.0L712.5,1018.0L711.5,1018.0L710.5,1018.0L709.5,1017.7L708.5,1017.2L707.5,1016.7L706.5,1016.2L705.5,1015.7L704.5,1015.2L703.5,1014.3L702.5,1013.0L701.5,1011.8L700.5,1010.5L699.5,1009.3L698.5,1008.0L697.5,1009.2L696.5,1011.0L695.5,1012.7L694.5,1014.5L693.5,1016.2L692.5,1017.9L691.5,1017.7L690.5,1017.4L689.5,1017.2L688.5,1016.9L687.5,1016.7L686.5,1016.8L685.5,1018.0L684.5,1019.3L683.5,1020.5L682.5,1021.8L681.5,1023.0L680.5,1023.8L679.5,1023.8L678.5,1023.8L677.5,1023.8L676.5,1023.8L675.5,1023.8L674.5,1024.0L673.5,1024.3L672.5,1024.6L671.5,1025.0L670.5,1024.6L669.5,1022.2L668.5,1019.9L667.5,1017.6L666.5,1015.2L665.5,1015.3L664.5,1015.5L663.5,1015.8L662.5,1016.0L661.5,1016.3L660.5,1016.4L659.5,1015.7L658.5,1014.9L657.5,1014.2L656.5,1013.4L655.5,1012.7L654.5,1012.3L653.5,1012.8L652.5,1013.3L651.5,1013.8L650.5,1014.3L649.5,1014.8L648.5,1015.3L647.5,1015.8L646.5,1016.3L645.5,1016.8L644.5,1017.3L643.5,1017.8L642.5,1018.3L641.5,1018.8L640.5,1019.3L639.5,1019.8L638.5,1020.3L637.5,1020.8L636.5,1020.2L635.5,1019.4L634.5,1018.7L633.5,1017.9L632.5,1017.2L631.5,1016.6L630.5,1017.6L629.5,1018.6L628.5,1019.6L627.5,1020.6L626.5,1021.6L625.5,1022.2L624.5,1024.6L623.5,1024.6L622.5,1024.6L621.5,1024.6L620.5,1024.5L619.5,1024.0L618.5,1023.5L617.5,1023.0L616.5,1022.5L615.5,1022.5L614.5,1022.5L613.5,1022.5L612.5,1022.5L611.5,1022.7L610.5,1023.2L609.5,1023.7L608.5,1024.2L607.5,1024.6L606.5,1024.6L605.5,1024.6L604.5,1024.6L603.5,1024.6L602.5,1024.6L601.5,1024.6L600.5,1023.7L599.5,1022.7L598.5,1021.7L597.5,1020.7L596.5,1019.7L595.5,1018.7L594.5,1017.7L593.5,1016.7L592.5,1016.3L591.5,1016.8L590.5,1017.3L589.5,1017.8L588.5,1018.3L587.5,1019.3L586.5,1020.3L585.5,1021.3L584.5,1022.3L583.5,1022.0L582.5,1021.5L581.5,1021.0L580.5,1020.5L579.5,1020.6L578.5,1021.1L577.5,1021.6L576.5,1022.1L575.5,1022.6L574.5,1023.1L573.5,1023.6L572.5,1024.1L571.5,1024.6L570.5,1024.6L569.5,1024.6L568.5,1024.6L567.5,1024.6L566.5,1024.2L565.5,1023.7L564.5,1023.2L563.5,1022.7L562.5,1022.2L561.5,1021.7L560.5,1021.2L559.5,1020.7L558.5,1020.5L557.5,1021.0L556.5,1021.5L555.5,1022.0L554.5,1022.5L553.5,1023.0L552.5,1023.5L551.5,1024.0L550.5,1024.5L549.5,1024.6L548.5,1024.6L547.5,1024.6L546.5,1024.6L545.5,1024.4L544.5,1023.9L543.5,1023.4L542.5,1022.9L541.5,1022.5L540.5,1022.5L539.5,1022.5L538.5,1022.5L537.5,1022.5L536.5,1022.5L535.5,1022.5L534.5,1022.5L533.5,1022.5L532.5,1022.5L531.5,1022.5L530.5,1022.5L529.5,1022.5L528.5,1022.5L527.5,1022.5L526.5,1022.5L525.5,1022.5L524.5,1022.4L523.5,1021.9L522.5,1021.4L521.5,1020.9L520.5,1020.4L519.5,1019.9L518.5,1019.4L517.5,1018.9L516.5,1018.4L515.5,1017.6L514.5,1016.6L513.5,1015.6L512.5,1014.6L511.5,1013.8L510.5,1013.3L509.5,1012.8L508.5,1012.3L507.5,1011.9L506.5,1012.9L505.5,1013.9L504.5,1014.9L503.5,1015.9L502.5,1016.5L501.5,1017.0L500.5,1017.5L499.5,1018.0L498.5,1017.9L497.5,1017.4L496.5,1016.9L495.5,1016.4L494.5,1015.9L493.5,1015.4L492.5,1014.9L491.5,1014.4L490.5,1013.9L489.5,1013.4L488.5,1012.9L487.5,1012.4L486.5,1011.9L485.5,1011.4L484.5,1010.9L483.5,1010.4L482.5,1009.9L481.5,1010.0L480.5,1010.7L479.5,1011.3L478.5,1011.9L477.5,1012.3L476.5,1012.7L475.5,1013.1L474.5,1013.6L473.5,1013.9L472.5,1013.9L471.5,1013.9L470.5,1018.1L469.5,1023.1L468.5,1026.9L467.5,1027.5L466.5,1028.1L465.5,1028.6L464.5,1028.9L463.5,1028.9L462.5,1028.9L461.5,1028.9L460.5,1028.7L459.5,1027.9L458.5,1027.1L457.5,1026.3L456.5,1025.7L455.5,1025.2L454.5,1025.0L453.5,1024.4L452.5,1023.7L451.5,1023.0L450.5,1022.5L449.5,1022.5L448.5,1022.5L447.5,1022.5L446.5,1023.7L445.5,1025.0L444.5,1026.3L443.5,1028.1L442.5,1029.9L441.5,1029.9L440.5,1029.9L439.5,1029.9L438.5,1029.9L437.5,1029.9L436.5,1029.9L435.5,1029.9L434.5,1029.9L433.5,1029.9L432.5,1029.9L431.5,1029.9L430.5,1029.9L429.5,1029.9L428.5,1029.9L427.5,1029.9L426.5,1029.3L425.5,1028.3L424.5,1027.3L423.5,1025.8L422.5,1023.8L421.5,1022.0L420.5,1020.7L419.5,1019.4L418.5,1018.0L417.5,1016.7L416.5,1015.4L415.5,1014.0L414.5,1012.1L413.5,1010.1L412.5,1008.1L411.5,1007.2L410.5,1006.7L409.5,1006.2L408.5,1005.7L407.5,1005.1L406.5,1004.4L405.5,1003.8L404.5,1004.1L403.5,1007.5L402.5,1010.8L401.5,1014.0L400.5,1016.0L399.5,1018.0L398.5,1020.0L397.5,1021.2L396.5,1022.2L395.5,1023.2L394.5,1024.2L393.5,1024.6L392.5,1024.6L391.5,1024.6L390.5,1024.6L389.5,1024.8L388.5,1025.5L387.5,1026.1L386.5,1026.7L385.5,1026.7L384.5,1026.7L383.5,1026.7L382.5,1026.7L381.5,1026.7L380.5,1026.7L379.5,1026.7L378.5,1026.7L377.5,1026.7L376.5,1026.7L375.5,1026.7L374.5,1026.7L373.5,1026.7L372.5,1026.7L371.5,1026.7L370.5,1026.7L369.5,1026.2L368.5,1019.6L367.5,1012.9L366.5,1006.2L365.5,1007.7L364.5,1010.4L363.5,1013.1L362.5,1016.6L361.5,1020.6L360.5,1024.6L359.5,1026.7L358.5,1026.7L357.5,1026.7L356.5,1026.7L355.5,1026.7L354.5,1026.7L353.5,1026.7L352.5,1026.7L351.5,1026.7L350.5,1027.2L349.5,1027.7L348.5,1028.2L347.5,1028.7L346.5,1028.9L345.5,1028.9L344.5,1028.9L343.5,1028.6L342.5,1028.1L341.5,1027.6L340.5,1027.1L339.5,1026.7L338.5,1026.7L337.5,1026.7L336.5,1026.7L335.5,1026.7L334.5,1026.7L333.5,1026.7L332.5,1026.7L331.5,1026.7L330.5,1026.7L329.5,1026.4L328.5,1025.9L327.5,1025.4L326.5,1024.9L325.5,1024.8L324.5,1025.3L323.5,1025.8L322.5,1026.3L321.5,1026.7L320.5,1026.0L319.5,1025.3L318.5,1024.7L317.5,1024.6L316.5,1024.6L315.5,1024.6L314.5,1024.6L313.5,1024.6L312.5,1024.6L311.5,1024.6L310.5,1024.9L309.5,1025.5L308.5,1026.2L307.5,1026.8L306.5,1027.3L305.5,1027.8L304.5,1028.3L303.5,1028.8L302.5,1028.9L301.5,1028.9L300.5,1028.9L299.5,1028.9L298.5,1028.9L297.5,1028.9L296.5,1028.9L295.5,1028.9L294.5,1028.9L293.5,1028.9L292.5,1028.9L291.5,1028.9L290.5,1028.9L289.5,1028.9L288.5,1028.9L287.5,1028.9L286.5,1028.9L285.5,1028.9L284.5,1025.0L283.5,1025.7L282.5,1026.3L281.5,1027.0L280.5,1027.5L279.5,1027.0L278.5,1026.5L277.5,1026.0L276.5,1025.5L275.5,1024.9L274.5,1024.2L273.5,1023.5L272.5,1020.7L271.5,1016.7L270.5,1012.7L269.5,1010.4L268.5,1010.1L267.5,1009.9L266.5,1010.0L265.5,1011.3L264.5,1012.7L263.5,1014.0L262.5,1016.0L261.5,1018.0L260.5,1020.0L259.5,1022.0L258.5,1022.1L257.5,1021.6L256.5,1021.1L255.5,1020.6L254.5,1020.3L253.5,1020.3L252.5,1020.3L251.5,1020.5L250.5,1021.2L249.5,1021.9L248.5,1022.5L247.5,1022.5L246.5,1022.5L245.5,1022.5L244.5,1022.5L243.5,1022.5L242.5,1022.5L241.5,1022.5L240.5,1022.5L239.5,1022.8L238.5,1023.3L237.5,1023.8L236.5,1024.3L235.5,1024.8L234.5,1025.5L233.5,1026.1L232.5,1026.7L231.5,1026.7L230.5,1026.7L229.5,1026.7L228.5,1026.3L227.5,1025.8L226.5,1025.3L225.5,1024.8L224.5,1024.3L223.5,1023.8L222.5,1023.3L221.5,1022.8L220.5,1022.3L219.5,1021.8L218.5,1021.3L217.5,1020.8L216.5,1020.3L215.5,1020.3L214.5,1020.3L213.5,1020.3L212.5,1020.3L211.5,1021.2L210.5,1022.2L209.5,1022.8L208.5,1023.3L207.5,1023.8L206.5,1024.3L205.5,1024.0L204.5,1022.6L203.5,1021.3L202.5,1020.0L201.5,1018.6L200.5,1017.3L199.5,1016.0L198.5,1015.5L197.5,1015.0L196.5,1014.5L195.5,1014.0L194.5,1013.9L193.5,1013.9L192.5,1013.9L191.5,1013.9L190.5,1014.2L189.5,1014.7L188.5,1015.2L187.5,1015.7L186.5,1016.1L185.5,1016.1L184.5,1016.1L183.5,1016.1L182.5,1016.1L181.5,1016.6L180.5,1017.1L179.5,1017.6L178.5,1018.1L177.5,1018.9L176.5,1019.9L175.5,1020.3L174.5,1020.3L173.5,1020.3L172.5,1020.3L171.5,1020.5L170.5,1021.0L169.5,1021.5L168.5,1022.0L167.5,1022.4L166.5,1021.9L165.5,1021.4L164.5,1020.9L163.5,1020.4L162.5,1019.9L161.5,1019.4L160.5,1018.9L159.5,1018.4L158.5,1018.5L157.5,1019.0L156.5,1019.5L155.5,1020.0L154.5,1020.3L153.5,1020.3L152.5,1020.3L151.5,1020.3L150.5,1020.3L149.5,1020.3L148.5,1020.3L147.5,1020.3L146.5,1020.3L145.5,1020.3L144.5,1020.3L143.5,1020.3L142.5,1020.3L141.5,1020.3L140.5,1020.3L139.5,1020.3L138.5,1020.3L137.5,1020.4L136.5,1020.9L135.5,1021.4L134.5,1021.9L133.5,1022.4L132.5,1022.5L131.5,1022.5L130.5,1022.5L129.5,1022.5L128.5,1022.8L127.5,1023.3L126.5,1023.8L125.5,1024.3L124.5,1024.6L123.5,1024.6L122.5,1024.6L121.5,1024.6L120.5,1024.6L119.5,1024.6L118.5,1024.6L117.5,1024.6L116.5,1024.6Z" fill="#1f77b4"/><path d="M159.5,884.2h0M159.5,889.6h0M159.5,896.0h0M159.5,902.4h0M159.5,908.8h0M150.1,909.8h0M150.1,920.5h0M214.5,897.0h0M214.5,904.5h0M214.5,916.2h0M241.2,909.8h0M241.2,919.4h0M252.5,915.2h0M265.7,929.0h0M265.7,937.6h0M136.7,934.4h0M178.2,910.9h0M416.1,802.1h0M408.0,827.7h0M405.8,835.2h0M423.3,891.7h0M476.4,612.0h0M477.2,615.2h0M477.0,622.7h0M476.4,625.9h0M477.0,639.3h0M476.4,649.3h0M477.0,654.6h0M476.4,660.0h0M476.4,663.2h0M476.4,669.6h0M477.5,680.2h0M476.4,685.6h0M476.4,705.4h0M477.5,712.2h0M478.5,724.4h0M476.4,729.3h0M477.7,737.8h0M476.4,744.2h0M477.0,750.6h0M476.4,757.0h0M477.0,763.4h0M476.4,769.8h0M477.0,776.2h0M476.4,782.6h0M477.0,789.0h0M416.3,768.7h0M416.3,773.0h0M416.3,778.3h0M416.3,785.8h0M416.3,791.1h0M416.3,795.4h0M416.3,799.7h0M416.3,802.9h0M416.3,811.4h0M416.3,816.7h0M416.3,822.1h0M415.2,825.3h0M520.4,842.7h0M520.4,851.2h0M580.5,833.1h0M620.6,851.2h0M507.2,888.5h0M608.2,887.4h0M608.2,898.1h0M608.2,910.9h0M558.3,916.9h0M474.5,1015.4h0M518.2,1022.9h0M548.1,1023.9h0M699.3,746.0h0M699.3,755.6h0M699.3,768.4h0M699.3,785.4h0M699.3,789.7h0M724.5,780.1h0M724.5,787.2h0M724.5,801.4h0M680.4,807.8h0M680.4,816.4h0M662.7,834.5h0M662.7,842.0h0M641.3,840.9h0M648.4,859.0h0M771.4,732.1h0M771.4,759.9h0M771.4,773.7h0M771.4,784.4h0M771.4,807.8h0M757.6,879.3h0M757.6,887.8h0M757.6,898.5h0M757.6,911.3h0M736.2,929.4h0M749.0,917.7h0M771.4,821.7h0M771.4,832.4h0M771.4,843.0h0M771.4,853.7h0M771.4,864.4h0M771.4,875.0h0M771.4,885.7h0M771.4,896.3h0M818.2,882.4h0M818.2,889.2h0M848.4,912.3h0M848.4,918.2h0M801.9,914.8h0M912.0,983.1h0M1436.4,943.1h0M1436.4,946.7h0M1408.5,962.7h0M771.4,597.3h0M771.4,611.3h0M771.4,636.4h0M771.4,669.3h0M771.4,724.2h0M771.4,729.3h0M771.4,733.4h0M771.4,822.0h0M771.4,825.0h0M771.4,828.0h0M771.4,831.0h0M771.4,834.0h0M771.4,837.0h0M771.4,840.0h0M771.4,843.0h0M771.4,846.0h0M771.4,849.0h0M771.4,852.0h0M771.4,855.0h0M771.4,858.0h0M771.4,861.0h0M771.4,864.0h0M771.4,867.0h0M771.4,870.0h0M771.4,873.0h0M771.4,876.0h0M771.4,879.0h0M771.4,882.0h0M771.4,885.0h0M771.4,888.0h0M771.4,891.0h0M771.4,894.0h0M771.4,897.0h0M771.4,900.0h0M771.4,903.0h0M770.6,870.0h0M770.6,873.0h0M770.6,876.0h0M770.6,879.0h0M770.6,882.0h0M770.6,885.0h0M770.6,888.0h0M770.6,891.0h0M770.6,894.0h0M770.6,897.0h0M770.6,900.0h0M770.6,903.0h0M770.6,906.0h0M770.6,909.0h0M770.6,912.0h0M770.6,915.0h0M770.6,918.0h0M770.6,921.0h0M770.6,924.0h0M770.6,927.0h0M770.6,930.0h0M770.6,933.0h0M116.6,979.9h0M116.5,1020.5h0M118.6,975.4h0M118.5,1024.3h0M120.8,971.2h0M120.3,1024.4h0M122.8,968.6h0M122.0,1022.7h0M125.0,974.2h0M124.6,1022.9h0M126.0,967.6h0M126.1,1022.6h0M128.2,967.5h0M128.5,1022.8h0M130.8,966.5h0M130.6,1021.3h0M132.7,964.3h0M132.3,1021.5h0M135.0,970.8h0M134.7,1019.0h0M136.2,960.0h0M136.1,1020.4h0M138.4,961.2h0M138.4,1017.3h0M140.8,965.5h0M140.2,1020.3h0M142.5,965.1h0M142.4,1014.0h0M144.6,959.8h0M144.3,1017.9h0M146.3,958.2h0M146.8,1015.0h0M148.2,956.7h0M148.1,1020.2h0M150.2,957.5h0M150.4,1019.0h0M152.7,952.2h0M152.6,1020.1h0M154.4,949.0h0M154.3,1019.9h0M156.8,952.4h0M156.9,1018.9h0M158.4,945.4h0M158.6,1015.4h0M161.0,947.1h0M160.3,1018.5h0M162.3,952.6h0M162.1,1019.4h0M164.6,954.2h0M164.6,1020.5h0M166.5,958.9h0M166.5,1016.8h0M168.9,963.5h0M168.2,1021.7h0M170.8,969.6h0M170.2,1020.5h0M172.9,969.1h0M173.0,1020.0h0M174.6,966.5h0M174.1,1019.4h0M177.0,956.6h0M176.7,1019.5h0M178.8,942.6h0M178.3,1016.6h0M180.7,950.0h0M180.2,1017.0h0M182.9,958.6h0M182.3,1014.5h0M184.2,962.9h0M184.3,1016.0h0M186.1,961.4h0M186.4,1015.7h0M188.1,961.2h0M188.9,1014.5h0M190.7,965.1h0M190.6,1012.3h0M192.0,954.8h0M192.9,1013.9h0M195.0,951.0h0M194.6,1013.9h0M196.7,947.2h0M197.0,1013.9h0M198.5,944.9h0M198.9,1013.4h0M200.7,956.1h0M200.9,1014.8h0M202.7,976.1h0M202.9,1016.3h0M204.8,979.6h0M204.6,1019.4h0M206.4,980.3h0M206.6,1022.9h0M208.6,977.1h0M208.9,1015.3h0M210.4,974.5h0M210.6,1020.1h0M212.8,952.6h0M212.8,1020.2h0M214.6,951.7h0M214.2,1019.3h0M216.5,953.6h0M216.9,1018.8h0M218.0,958.1h0M218.7,1020.7h0M220.2,964.5h0M220.7,1018.5h0M222.9,967.8h0M222.7,1022.6h0M224.4,969.0h0M224.9,1021.6h0M226.4,973.8h0M226.3,1023.9h0M228.5,972.4h0M228.8,1023.4h0M231.0,968.3h0M230.2,1026.2h0M232.3,954.8h0M232.4,1026.3h0M234.5,956.3h0M234.8,1024.9h0M236.5,960.2h0M236.0,1024.1h0M238.0,950.6h0M238.6,1021.3h0M240.8,944.9h0M240.1,1022.4h0M242.0,956.2h0M242.2,1019.6h0M244.0,965.5h0M244.4,1020.9h0M246.7,965.3h0M247.0,1019.8h0M248.2,964.0h0M248.2,1021.4h0M250.5,952.1h0M250.2,1019.2h0M252.3,946.9h0M252.5,1018.4h0M254.8,952.1h0M254.8,1019.5h0M256.1,960.2h0M256.7,1016.7h0M258.5,963.1h0M258.9,1020.5h0M260.6,966.6h0M260.8,1016.6h0M262.5,971.1h0M262.2,1014.3h0M264.8,964.7h0M264.7,1011.0h0M266.9,954.1h0M267.0,1003.7h0M268.8,972.2h0M268.9,1009.5h0M270.3,992.5h0M270.4,1012.6h0M272.8,1002.9h0M272.0,1019.7h0M274.1,1007.0h0M274.2,1021.6h0M276.8,1003.1h0M276.1,1025.3h0M278.7,1000.7h0M278.7,1023.6h0M280.5,1001.3h0M280.1,1022.8h0M282.5,982.9h0M282.7,1025.8h0M284.5,978.9h0M284.6,1022.0h0M286.4,997.4h0M286.9,1025.9h0M288.9,998.0h0M288.5,1023.3h0M290.2,999.7h0M290.5,1027.6h0M292.0,998.5h0M292.5,1023.3h0M294.8,996.3h0M294.5,1027.5h0M296.1,998.8h0M296.4,1027.6h0M298.9,1004.3h0M298.5,1028.4h0M300.4,999.8h0M300.9,1026.1h0M302.3,999.8h0M302.6,1028.5h0M304.1,1002.5h0M304.0,1025.9h0M306.2,998.4h0M306.3,1025.5h0M308.6,991.7h0M308.7,1026.0h0M310.5,973.2h0M310.2,1024.4h0M312.4,965.5h0M312.4,1023.8h0M314.2,962.2h0M314.6,1024.2h0M316.5,972.0h0M316.6,1021.5h0M318.2,982.1h0M318.8,1022.5h0M320.3,978.8h0M320.9,1025.4h0M323.0,975.4h0M322.1,1022.8h0M324.7,979.9h0M324.1,1024.8h0M326.4,983.7h0M326.1,1022.4h0M328.7,976.4h0M328.2,1025.9h0M330.9,972.5h0M330.1,1021.2h0M332.8,968.0h0M332.7,1025.6h0M334.1,963.5h0M334.0,1026.5h0M336.5,965.5h0M336.1,1025.4h0M338.2,970.0h0M339.0,1023.8h0M340.1,979.1h0M341.0,1027.0h0M342.8,980.8h0M342.5,1027.5h0M344.4,981.4h0M344.0,1027.4h0M346.8,969.7h0M346.5,1028.5h0M348.4,968.6h0M348.2,1027.8h0M350.0,972.0h0M350.8,1023.6h0M352.9,972.9h0M352.4,1025.1h0M354.5,968.5h0M354.8,1020.2h0M356.9,964.9h0M356.8,1024.5h0M358.4,966.3h0M358.9,1023.1h0M360.8,962.0h0M360.4,1022.3h0M362.1,951.0h0M362.5,1016.0h0M364.4,950.7h0M364.6,1008.8h0M366.9,959.3h0M366.3,1004.5h0M368.6,969.8h0M368.4,1018.4h0M370.6,986.1h0M370.8,1024.8h0M372.0,974.7h0M372.7,1025.2h0M374.4,967.9h0M374.2,1026.6h0M376.1,971.3h0M376.9,1026.3h0M378.5,976.3h0M378.6,1021.3h0M380.6,993.7h0M380.1,1024.1h0M382.8,995.8h0M382.9,1026.6h0M384.5,990.7h0M384.5,1026.4h0M386.1,988.1h0M386.4,1022.1h0M388.6,980.4h0M388.3,1024.8h0M390.6,976.7h0M390.7,1024.1h0M392.0,977.9h0M392.0,1024.1h0M394.8,979.1h0M394.9,1023.4h0M396.1,979.0h0M396.9,1015.0h0M398.9,973.3h0M398.5,1019.2h0M400.2,953.1h0M400.9,1014.9h0M402.5,922.8h0M402.8,1004.6h0M404.1,894.7h0M404.5,1002.6h0M406.1,883.0h0M406.1,1003.2h0M408.7,877.4h0M408.3,1004.7h0M410.4,876.5h0M410.5,1004.3h0M413.0,882.5h0M412.2,1006.0h0M414.9,864.5h0M414.6,1009.6h0M416.3,883.3h0M416.6,1013.5h0M418.6,925.1h0M418.2,1015.8h0M421.0,926.2h0M420.9,1016.7h0M422.1,924.8h0M422.4,1023.3h0M424.1,936.7h0M424.1,1026.0h0M426.7,990.1h0M426.6,1028.0h0M428.5,1018.1h0M428.3,1029.5h0M430.8,1020.0h0M430.1,1029.8h0M432.6,1021.0h0M432.2,1027.6h0M434.3,1019.5h0M434.4,1027.3h0M437.0,1020.3h0M436.5,1029.3h0M438.9,1020.6h0M438.4,1029.0h0M440.9,1017.9h0M440.1,1029.8h0M442.5,1018.4h0M442.3,1028.1h0M444.1,919.5h0M444.7,1026.0h0M446.3,921.9h0M446.7,1021.6h0M448.1,929.4h0M448.7,1021.7h0M450.1,939.0h0M450.6,1020.5h0M452.9,940.1h0M452.4,1019.8h0M454.3,937.3h0M454.4,1024.4h0M456.9,976.3h0M456.4,1025.3h0M458.4,1013.5h0M458.4,1026.2h0M460.6,1016.7h0M460.5,1026.2h0M462.6,1020.0h0M462.8,1028.5h0M464.3,1020.5h0M464.5,1028.8h0M466.6,984.6h0M466.7,1022.6h0M468.1,934.4h0M468.8,1025.6h0M470.1,930.9h0M470.9,1015.9h0M472.6,880.3h0M472.7,1013.7h0M474.2,812.5h0M474.8,1013.2h0M476.8,796.4h0M476.3,1011.9h0M478.7,800.6h0M478.5,1010.8h0M480.7,817.3h0M480.4,1006.7h0M482.7,840.5h0M482.8,1006.8h0M484.9,859.5h0M484.6,1005.9h0M486.7,875.0h0M486.4,1009.3h0M488.1,879.6h0M489.0,1010.8h0M490.2,884.4h0M490.4,1013.6h0M493.0,895.3h0M492.3,1014.8h0M494.6,906.1h0M494.2,1013.5h0M496.5,914.4h0M496.9,1015.5h0M498.1,922.4h0M498.2,1017.6h0M500.7,926.0h0M500.2,1016.0h0M502.3,927.2h0M502.8,1016.2h0M504.5,927.3h0M504.5,1012.2h0M506.9,925.9h0M506.3,1008.9h0M509.0,926.5h0M508.2,1011.2h0M510.9,926.3h0M510.4,1010.7h0M512.5,928.5h0M513.0,1014.1h0M514.2,930.3h0M514.5,1016.6h0M516.8,926.2h0M516.6,1016.4h0M518.2,904.9h0M518.3,1018.8h0M520.5,889.0h0M521.0,1018.8h0M522.5,896.6h0M522.8,1021.1h0M524.8,906.5h0M524.8,1019.4h0M526.3,924.0h0M526.1,1020.4h0M528.5,942.8h0M528.6,1017.5h0M530.3,956.0h0M530.4,1020.0h0M532.1,966.2h0M532.2,1019.7h0M534.5,967.2h0M534.8,1022.2h0M536.3,967.3h0M536.3,1022.3h0M538.7,971.8h0M538.7,1021.7h0M540.4,978.0h0M541.0,1021.5h0M542.7,985.0h0M542.4,1022.8h0M544.2,984.3h0M544.5,1022.5h0M547.0,978.2h0M546.2,1022.0h0M548.3,963.3h0M548.5,1023.8h0M550.3,948.0h0M550.7,1023.7h0M552.2,946.9h0M552.3,1021.4h0M554.6,950.1h0M554.3,1020.4h0M556.1,949.6h0M556.1,1021.2h0M558.7,949.9h0M558.4,1020.1h0M560.6,950.0h0M560.2,1021.0h0M562.1,946.1h0M562.1,1021.4h0M564.4,941.6h0M564.6,1022.0h0M566.8,929.2h0M566.3,1023.4h0M568.0,921.6h0M568.7,1023.8h0M570.8,924.1h0M570.6,1022.9h0M572.3,913.7h0M572.7,1023.5h0M574.4,909.0h0M574.8,1022.0h0M576.6,904.0h0M576.8,1021.8h0M578.5,892.3h0M578.5,1020.4h0M580.7,881.6h0M580.5,1013.6h0M582.8,897.6h0M582.9,1021.2h0M584.2,910.6h0M584.2,1022.2h0M586.7,913.1h0M586.9,1019.7h0M588.5,915.1h0M589.0,1018.1h0M590.9,908.7h0M590.6,1016.0h0M592.3,903.4h0M593.0,1012.4h0M594.6,913.3h0M594.8,1017.5h0M596.9,923.3h0M596.6,1019.2h0M598.2,933.5h0M598.1,1020.4h0M600.2,936.6h0M600.9,1016.7h0M602.3,945.2h0M602.7,1022.8h0M604.6,952.1h0M604.0,1022.0h0M606.5,942.2h0M606.4,1024.3h0M608.2,926.4h0M608.3,1023.1h0M610.3,943.4h0M610.0,1021.6h0M612.1,956.2h0M612.6,1017.3h0M614.4,950.8h0M614.7,1020.9h0M616.8,945.9h0M617.0,1021.5h0M618.9,922.6h0M618.4,1022.7h0M620.9,897.0h0M620.5,1023.3h0M622.9,911.5h0M622.1,1024.0h0M624.9,929.8h0M624.6,1022.5h0M626.3,935.7h0M626.1,1020.2h0M628.4,923.8h0M628.4,1018.5h0M630.7,921.6h0M630.2,1016.4h0M632.4,920.4h0M632.1,1016.7h0M635.0,911.9h0M634.9,1016.9h0M636.8,895.2h0M636.7,1019.8h0M638.9,889.5h0M638.8,1020.1h0M640.5,885.0h0M640.0,1014.5h0M642.3,891.1h0M642.1,1017.7h0M644.8,906.5h0M644.4,1016.5h0M646.0,914.4h0M646.9,1016.3h0M648.5,921.2h0M649.0,1011.0h0M650.2,922.7h0M650.9,1013.7h0M652.2,912.6h0M652.4,1010.4h0M654.2,899.3h0M655.0,1008.9h0M656.6,897.3h0M656.9,1013.1h0M658.1,896.0h0M658.3,1012.8h0M660.9,901.5h0M660.1,1014.4h0M662.9,901.2h0M662.1,1015.1h0M664.3,899.7h0M664.2,1013.5h0M666.2,899.6h0M666.8,1013.5h0M668.7,902.2h0M668.6,1016.5h0M670.3,904.5h0M670.7,1020.4h0M672.6,900.5h0M673.0,1024.5h0M674.5,893.8h0M674.0,1022.8h0M676.3,889.7h0M676.8,1023.3h0M678.3,886.0h0M678.2,1021.5h0M680.5,885.0h0M680.9,1023.4h0M682.0,891.1h0M682.8,1020.8h0M684.9,887.9h0M684.2,1018.2h0M686.6,901.9h0M686.7,1016.1h0M688.5,913.8h0M688.8,1015.8h0M690.5,900.8h0M690.2,1012.6h0M692.2,889.0h0M692.2,1016.4h0M694.8,869.6h0M694.8,1012.0h0M696.5,851.2h0M696.6,1010.6h0M698.0,852.9h0M698.7,1006.6h0M700.9,858.4h0M700.2,1010.2h0M702.5,872.5h0M702.4,1012.1h0M704.8,892.2h0M704.9,1015.1h0M706.5,892.4h0M706.2,1013.7h0M708.3,877.5h0M708.3,1017.2h0M710.5,874.3h0M710.6,1017.5h0M712.8,879.2h0M712.3,1017.7h0M714.7,879.1h0M714.8,1015.1h0M716.4,865.5h0M716.2,1016.5h0M718.0,865.4h0M718.8,1014.1h0M720.1,893.5h0M720.7,1012.2h0M722.2,912.0h0M722.1,1007.9h0M724.3,915.5h0M724.1,1009.0h0M727.0,917.6h0M726.7,1006.1h0M728.3,920.1h0M728.2,1009.4h0M730.9,923.4h0M730.3,1015.2h0M732.6,967.7h0M732.4,1022.9h0M734.1,963.0h0M734.7,1022.5h0M736.6,963.3h0M736.5,1017.8h0M738.8,962.9h0M738.8,1022.5h0M740.3,965.5h0M740.5,1024.2h0M742.2,971.0h0M742.5,1024.8h0M744.4,985.7h0M744.7,1017.2h0M746.2,986.8h0M746.1,1024.4h0M748.4,944.6h0M748.0,1024.3h0M750.3,943.6h0M750.9,1023.0h0M752.3,949.7h0M752.2,1020.1h0M754.4,957.3h0M754.7,1014.5h0M756.0,918.6h0M756.4,1011.5h0M758.9,948.3h0M758.8,1011.5h0M760.1,966.2h0M760.2,1010.7h0M762.2,969.2h0M762.0,1008.9h0M764.4,972.4h0M764.1,1007.1h0M766.3,949.0h0M766.7,1005.7h0M768.2,909.7h0M768.7,1007.8h0M770.4,907.2h0M770.2,1007.1h0M772.3,924.1h0M772.0,1015.2h0M774.6,944.4h0M774.8,1018.8h0M776.3,971.0h0M776.9,1020.4h0M778.7,977.4h0M779.0,1021.5h0M780.2,989.9h0M780.1,1022.6h0M782.4,995.5h0M782.4,1025.1h0M784.5,999.1h0M784.2,1024.7h0M786.5,996.4h0M786.7,1024.3h0M788.1,989.5h0M788.4,1023.2h0M790.6,993.4h0M790.6,1022.9h0M792.0,989.1h0M792.4,1024.4h0M794.4,978.7h0M794.5,1025.0h0M796.5,982.1h0M796.3,1022.5h0M798.3,984.4h0M798.6,1018.6h0M800.7,959.3h0M800.5,1021.0h0M803.0,943.1h0M802.6,1020.6h0M804.8,950.6h0M804.6,1018.9h0M806.4,960.1h0M806.8,1017.9h0M808.4,965.1h0M808.0,1012.6h0M810.5,957.6h0M810.4,1013.9h0M812.1,962.4h0M812.2,1013.1h0M814.2,950.0h0M814.5,1012.4h0M816.2,924.6h0M816.7,1010.4h0M818.6,935.1h0M818.8,1011.5h0M820.3,971.9h0M820.9,1015.2h0M822.7,985.3h0M822.7,1015.2h0M824.8,992.9h0M824.6,1017.8h0M826.6,989.7h0M826.3,1018.3h0M828.5,991.7h0M828.2,1019.1h0M830.2,990.9h0M830.1,1018.4h0M832.1,981.8h0M832.7,1017.9h0M834.5,971.5h0M834.5,1013.9h0M836.9,974.1h0M836.1,1014.0h0M838.5,977.8h0M838.4,1016.0h0M840.3,984.5h0M840.3,1018.6h0M842.8,980.2h0M842.8,1015.7h0M844.4,973.7h0M844.6,1012.7h0M846.8,956.0h0M846.4,1016.1h0M848.2,944.6h0M848.0,1017.8h0M850.9,963.2h0M850.1,1013.5h0M852.4,978.6h0M852.4,1018.5h0M855.0,985.8h0M854.7,1021.0h0M856.0,989.7h0M856.7,1021.6h0M858.1,1006.1h0M858.0,1022.3h0M860.5,1000.0h0M860.3,1022.2h0M862.8,1002.9h0M862.4,1022.9h0M864.8,1004.4h0M864.4,1018.1h0M866.5,1005.5h0M866.1,1022.1h0M868.1,1003.9h0M868.3,1020.4h0M870.1,1003.1h0M870.0,1024.1h0M872.1,1001.3h0M872.3,1023.1h0M874.5,997.3h0M874.3,1024.0h0M876.1,997.2h0M876.3,1021.7h0M878.2,999.8h0M879.0,1025.2h0M880.9,1001.7h0M880.4,1025.3h0M882.4,1006.3h0M882.6,1026.5h0M884.6,1011.1h0M884.9,1027.1h0M887.0,1014.7h0M886.8,1026.7h0M888.2,1011.8h0M888.2,1026.6h0M890.1,1006.4h0M890.8,1026.5h0M892.5,1008.0h0M892.2,1028.1h0M894.0,1017.2h0M894.8,1026.4h0M896.7,1014.0h0M896.8,1026.3h0M898.8,1013.6h0M898.1,1019.8h0M900.4,1015.0h0M900.3,1025.1h0M902.0,1013.5h0M902.2,1026.7h0M904.4,1009.2h0M904.8,1027.3h0M906.6,1007.3h0M906.3,1028.9h0M908.3,1007.0h0M908.3,1028.4h0M910.2,1001.1h0M910.5,1025.9h0M912.2,997.8h0M912.1,1027.9h0M914.4,1000.4h0M914.5,1028.1h0M916.3,1003.7h0M917.0,1026.9h0M918.9,1002.5h0M918.8,1027.5h0M921.0,1003.5h0M921.0,1027.2h0M922.4,1007.6h0M922.2,1026.1h0M924.7,1005.9h0M924.3,1023.4h0M926.4,1004.7h0M926.1,1020.8h0M928.4,1009.1h0M928.2,1026.5h0M930.9,1011.6h0M930.6,1025.0h0M932.6,1012.8h0M932.8,1027.9h0M934.5,1013.3h0M934.4,1026.4h0M936.2,1010.6h0M936.6,1026.6h0M938.0,1013.8h0M938.4,1027.4h0M940.6,1017.6h0M940.2,1025.5h0M943.0,1017.8h0M942.3,1027.7h0M945.0,1021.1h0M944.9,1029.0h0M947.0,1017.2h0M946.2,1028.7h0M948.6,1021.0h0M948.8,1024.6h0M950.5,1022.5h0M950.1,1024.0h0M952.7,1022.2h0M952.8,1028.7h0M954.5,1019.6h0M954.2,1026.2h0M956.6,1020.1h0M956.6,1028.3h0M958.5,1019.2h0M958.8,1028.3h0M960.8,1020.0h0M960.9,1028.5h0M962.2,1017.0h0M962.1,1029.1h0M964.3,1013.1h0M964.8,1026.7h0M966.2,1012.2h0M966.8,1028.3h0M968.9,1016.1h0M969.0,1029.1h0M970.6,1017.4h0M970.7,1026.0h0M972.7,1018.3h0M972.0,1028.5h0M974.3,1019.4h0M974.3,1027.9h0M976.7,1016.7h0M976.1,1029.3h0M978.5,1021.5h0M978.1,1029.5h0M980.6,1023.1h0M980.2,1029.1h0M982.7,1023.7h0M982.4,1027.7h0M984.4,1016.7h0M984.6,1029.6h0M986.8,1015.5h0M986.5,1029.1h0M988.9,1015.0h0M988.7,1029.3h0M990.6,1019.8h0M990.9,1029.5h0M992.9,1020.2h0M992.5,1028.3h0M994.4,1025.0h0M994.6,1027.9h0M996.1,1022.6h0M996.3,1029.3h0M999.0,1023.6h0M998.7,1029.7h0M1000.2,1023.0h0M1000.1,1029.4h0M1002.3,1022.8h0M1002.3,1029.4h0M1004.9,1019.9h0M1004.5,1028.9h0M1006.9,1016.4h0M1006.4,1030.3h0M1008.7,1018.4h0M1008.3,1028.7h0M1010.9,1022.8h0M1010.6,1030.5h0M1012.4,1021.7h0M1012.3,1029.6h0M1014.6,1023.2h0M1015.0,1026.0h0M1016.4,1026.3h0M1016.6,1027.8h0M1019.0,1024.4h0M1018.5,1030.6h0M1020.7,1023.6h0M1021.0,1030.3h0M1022.4,1023.2h0M1022.4,1030.5h0M1024.1,1025.0h0M1024.6,1030.5h0M1026.7,1024.4h0M1026.8,1030.3h0M1028.8,1024.2h0M1028.5,1030.6h0M1030.9,1021.2h0M1030.9,1026.2h0M1032.4,1021.8h0M1032.5,1029.7h0M1034.8,1022.7h0M1034.5,1030.4h0M1036.6,1023.5h0M1036.1,1030.7h0M1038.3,1025.0h0M1038.2,1028.6h0M1040.1,1024.9h0M1040.5,1030.6h0M1042.5,1025.6h0M1042.1,1028.0h0M1044.2,1027.6h0M1044.5,1027.8h0M1046.6,1025.6h0M1047.0,1028.0h0M1048.0,1025.9h0M1048.8,1030.9h0M1050.7,1027.4h0M1050.5,1030.9h0M1052.1,1025.4h0M1053.0,1030.7h0M1054.8,1026.8h0M1054.4,1031.2h0M1056.3,1025.0h0M1056.9,1031.1h0M1058.5,1025.3h0M1058.9,1029.6h0M1060.6,1028.1h0M1060.9,1030.3h0M1062.3,1025.8h0M1062.3,1029.2h0M1064.4,1026.0h0M1064.4,1030.4h0M1066.5,1026.2h0M1066.8,1031.4h0M1068.5,1024.6h0M1068.4,1030.2h0M1070.1,1024.2h0M1070.3,1030.7h0M1072.2,1024.1h0M1072.5,1029.2h0M1074.4,1023.2h0M1074.0,1027.3h0M1077.0,1025.1h0M1076.6,1030.7h0M1078.3,1024.9h0M1078.6,1030.0h0M1080.5,1025.3h0M1080.8,1030.3h0M1082.1,1025.3h0M1082.3,1031.0h0M1084.4,1028.2h0M1084.4,1028.6h0M1086.7,1026.7h0M1087.0,1031.3h0M1088.3,1028.8h0M1088.8,1030.8h0M1090.6,1028.4h0M1090.8,1031.4h0M1092.6,1025.8h0M1092.9,1030.2h0M1094.0,1027.1h0M1094.8,1028.5h0M1096.0,1027.1h0M1096.4,1029.3h0M1099.0,1027.8h0M1098.1,1028.7h0M1100.4,1028.7h0M1100.4,1029.2h0M1102.4,1027.2h0M1102.3,1031.3h0M1104.1,1028.1h0M1104.8,1031.3h0M1106.5,1027.5h0M1106.1,1031.3h0M1109.0,1026.1h0M1108.9,1030.1h0M1110.4,1026.1h0M1110.8,1030.2h0M1112.9,1026.2h0M1112.0,1030.4h0M1114.4,1027.1h0M1114.9,1029.7h0M1116.7,1027.4h0M1116.8,1030.7h0M1118.7,1026.5h0M1118.6,1031.2h0M1120.3,1026.7h0M1120.3,1031.2h0M1122.5,1027.8h0M1122.6,1030.7h0M1124.4,1028.8h0M1124.5,1030.1h0M1126.3,1028.7h0M1126.2,1029.5h0M1128.7,1026.1h0M1128.3,1030.1h0M1130.8,1025.6h0M1130.7,1030.7h0M1132.6,1026.4h0M1133.0,1030.1h0M1134.5,1028.5h0M1134.2,1030.4h0M1136.1,1027.7h0M1136.8,1030.9h0M1138.7,1025.5h0M1138.6,1030.1h0M1140.2,1026.1h0M1140.8,1028.5h0M1142.1,1028.1h0M1142.2,1029.0h0M1144.5,1025.7h0M1144.1,1029.9h0M1146.6,1027.4h0M1146.9,1028.3h0M1148.4,1026.7h0M1148.7,1028.2h0M1150.9,1025.2h0M1150.3,1029.4h0M1152.0,1025.3h0M1152.3,1030.2h0M1154.3,1025.6h0M1154.5,1031.2h0M1156.3,1025.8h0M1156.5,1030.9h0M1158.2,1028.4h0M1158.9,1028.4h0M1160.5,1026.6h0M1160.5,1029.3h0M1162.9,1026.6h0M1162.3,1029.1h0M1164.9,1024.7h0M1164.8,1030.7h0M1166.5,1025.2h0M1166.7,1030.7h0M1168.5,1028.2h0M1168.3,1030.1h0M1170.9,1025.7h0M1170.9,1031.3h0M1172.1,1027.3h0M1172.1,1028.5h0M1174.1,1027.1h0M1174.3,1028.6h0M1176.1,1028.7h0M1176.1,1029.6h0M1178.6,1026.3h0M1178.7,1028.8h0M1180.8,1028.6h0M1180.1,1030.1h0M1182.2,1026.7h0M1182.4,1030.1h0M1184.2,1026.1h0M1184.4,1029.3h0M1186.1,1025.6h0M1186.6,1030.1h0M1188.6,1027.7h0M1188.3,1030.9h0M1190.7,1024.7h0M1191.0,1027.6h0M1192.9,1027.4h0M1192.9,1027.9h0M1194.5,1024.1h0M1194.7,1029.6h0M1196.6,1026.1h0M1196.1,1027.8h0M1199.0,1026.2h0M1198.1,1030.9h0M1201.0,1028.2h0M1200.0,1030.9h0M1202.7,1028.0h0M1202.6,1029.7h0M1204.8,1027.2h0M1204.1,1030.9h0M1207.0,1027.2h0M1206.4,1028.0h0M1208.3,1024.9h0M1208.8,1030.8h0M1210.6,1024.3h0M1210.3,1029.5h0M1212.5,1025.1h0M1212.9,1030.3h0M1214.1,1023.1h0M1214.5,1030.2h0M1216.3,1026.0h0M1216.7,1029.3h0M1218.5,1023.8h0M1218.9,1029.3h0M1220.2,1023.5h0M1220.3,1029.3h0M1222.7,1025.0h0M1222.5,1027.5h0M1224.8,1022.9h0M1224.2,1029.7h0M1227.0,1023.4h0M1226.4,1029.5h0M1229.0,1026.3h0M1228.1,1029.5h0M1230.8,1024.9h0M1230.8,1029.6h0M1232.3,1023.2h0M1232.7,1028.8h0M1234.8,1023.5h0M1234.5,1030.3h0M1236.1,1023.2h0M1236.1,1026.4h0M1238.9,1022.3h0M1238.9,1026.1h0M1240.9,1022.0h0M1240.7,1030.0h0M1242.2,1025.3h0M1242.7,1030.0h0M1244.7,1023.5h0M1244.5,1025.5h0M1246.1,1020.7h0M1246.9,1029.8h0M1248.2,1020.5h0M1248.0,1029.6h0M1250.2,1021.3h0M1250.5,1030.1h0M1252.6,1022.4h0M1252.5,1028.0h0M1254.1,1025.9h0M1254.1,1029.9h0M1256.8,1018.5h0M1256.5,1026.2h0M1258.3,1019.3h0M1258.3,1028.9h0M1261.0,1021.9h0M1260.6,1029.3h0M1262.5,1019.4h0M1262.9,1029.9h0M1264.0,1023.2h0M1264.4,1027.9h0M1266.2,1017.2h0M1266.7,1029.8h0M1268.0,1017.5h0M1268.8,1029.6h0M1270.7,1018.2h0M1270.2,1028.9h0M1272.3,1017.1h0M1272.3,1029.8h0M1274.4,1018.6h0M1274.6,1028.7h0M1276.4,1017.7h0M1276.6,1026.2h0M1278.5,1018.0h0M1278.3,1028.5h0M1280.2,1021.0h0M1280.9,1025.0h0M1282.2,1020.2h0M1283.0,1028.3h0M1284.2,1017.0h0M1284.2,1027.3h0M1286.2,1017.4h0M1286.3,1024.7h0M1288.7,1015.8h0M1288.6,1028.7h0M1290.9,1016.4h0M1290.4,1028.2h0M1292.5,1015.3h0M1292.6,1028.9h0M1294.5,1016.9h0M1294.5,1029.2h0M1296.6,1016.4h0M1296.3,1023.8h0M1298.1,1016.2h0M1298.2,1026.8h0M1300.8,1022.0h0M1300.9,1028.8h0M1302.4,1019.6h0M1302.9,1027.9h0M1304.5,1018.9h0M1304.8,1028.6h0M1306.3,1018.3h0M1306.2,1028.7h0M1308.8,1019.6h0M1308.9,1022.8h0M1310.8,1018.6h0M1310.8,1026.8h0M1312.2,1019.3h0M1312.3,1026.0h0M1314.9,1017.1h0M1314.5,1028.6h0M1316.8,1017.3h0M1316.9,1027.0h0M1318.6,1020.6h0M1318.7,1028.2h0M1321.0,1016.0h0M1320.3,1024.8h0M1322.7,1015.7h0M1323.0,1025.7h0M1324.1,1015.1h0M1324.1,1025.7h0M1326.8,1011.2h0M1326.9,1025.1h0M1328.9,1005.4h0M1328.5,1025.7h0M1330.4,1002.5h0M1330.2,1027.1h0M1332.2,1004.7h0M1332.8,1025.2h0M1334.5,1005.6h0M1334.3,1026.1h0M1336.6,1005.6h0M1336.9,1024.9h0M1338.9,1007.8h0M1338.3,1022.8h0M1340.6,1016.0h0M1340.8,1021.5h0M1342.3,1013.8h0M1342.5,1025.5h0M1344.9,1012.4h0M1344.5,1025.5h0M1346.2,1012.8h0M1346.6,1026.4h0M1348.3,1008.8h0M1348.1,1026.6h0M1350.5,1008.0h0M1350.6,1022.0h0M1352.4,1007.3h0M1352.5,1026.3h0M1354.1,1010.1h0M1354.7,1026.1h0M1356.6,1005.7h0M1356.9,1025.6h0M1358.3,1006.1h0M1359.0,1026.2h0M1360.2,1003.1h0M1360.1,1025.4h0M1362.6,1001.7h0M1362.7,1027.5h0M1364.3,1003.9h0M1364.6,1025.9h0M1366.5,1004.7h0M1366.1,1027.6h0M1369.0,1008.1h0M1368.1,1024.6h0M1370.3,1010.3h0M1370.4,1025.8h0M1372.4,1005.7h0M1372.7,1025.9h0M1374.6,1003.5h0M1374.6,1025.0h0M1376.7,1003.4h0M1376.1,1026.2h0M1378.0,1005.1h0M1378.4,1025.8h0M1380.1,1005.8h0M1380.9,1020.9h0M1382.6,1005.4h0M1383.0,1025.2h0M1384.3,1003.6h0M1384.9,1025.4h0M1386.4,999.9h0M1386.9,1025.0h0M1388.8,996.1h0M1388.4,1023.9h0M1390.4,997.9h0M1390.3,1024.9h0M1392.4,1000.1h0M1392.8,1025.3h0M1394.5,1000.5h0M1394.5,1022.4h0M1396.9,1001.3h0M1396.8,1019.8h0M1398.7,999.7h0M1398.3,1023.3h0M1400.9,998.4h0M1400.7,1023.4h0M1402.7,992.5h0M1402.8,1024.3h0M1405.0,988.1h0M1404.7,1023.6h0M1406.4,982.1h0M1406.3,1021.7h0M1408.2,983.2h0M1409.0,1023.2h0M1410.9,986.8h0M1410.6,1024.0h0M1412.8,991.7h0M1412.6,1023.3h0M1414.8,992.5h0M1414.6,1021.9h0M1416.7,994.6h0M1416.5,1022.4h0M1418.1,1003.7h0M1418.3,1020.9h0M1421.0,993.3h0M1420.6,1022.4h0M1422.5,988.5h0M1422.6,1022.2h0M1424.7,990.0h0M1424.8,1021.7h0M1426.1,985.7h0M1426.5,1020.8h0M1429.0,983.7h0M1429.0,1020.9h0M1430.8,982.6h0M1430.3,1022.1h0M1432.7,983.8h0M1432.4,1019.4h0M1434.4,976.3h0M1434.0,1021.2h0M1436.7,973.4h0M1436.3,1022.4h0M1438.9,983.8h0M1438.2,1022.4h0M1440.1,985.8h0M1440.7,1020.5h0M1442.5,987.6h0M1442.0,1021.0h0M1444.9,988.8h0M1444.7,1022.2h0M1446.3,985.5h0M1446.2,1018.8h0M1448.3,982.2h0M1448.8,1020.8h0M1450.6,980.6h0M1450.2,1014.4h0M1452.6,982.8h0M1453.0,1021.1h0M1454.4,985.7h0M1454.8,1020.5h0M1456.7,990.5h0M1456.4,1021.1h0M1458.2,987.2h0M1458.9,1018.0h0M1460.4,981.7h0M1460.7,1021.0h0M116.8,978.9h0M116.8,976.3h0M116.8,973.7h0M116.8,971.1h0M116.8,968.5h0M116.8,968.1h0M119.1,974.3h0M119.1,971.7h0M119.1,969.1h0M119.1,966.5h0M119.1,963.9h0M119.1,961.3h0M119.1,960.5h0M121.1,969.6h0M121.1,967.0h0M121.1,964.4h0M121.1,961.8h0M121.1,959.2h0M121.1,956.6h0M121.1,955.3h0M122.5,968.5h0M122.5,966.4h0M124.7,967.7h0M124.7,965.1h0M124.7,962.5h0M124.7,959.9h0M124.7,957.3h0M124.7,954.7h0M124.7,952.1h0M124.7,950.7h0M126.0,967.4h0M126.0,964.8h0M126.0,962.2h0M126.0,959.6h0M126.0,957.0h0M126.0,954.4h0M126.0,951.8h0M126.0,951.0h0M128.1,967.2h0M128.1,964.6h0M128.1,962.0h0M128.1,959.4h0M128.1,956.8h0M128.1,956.2h0M130.6,965.5h0M130.6,962.9h0M130.6,960.3h0M130.6,957.7h0M130.6,955.1h0M130.6,953.3h0M132.1,963.2h0M132.1,961.9h0M135.1,961.2h0M135.1,958.6h0M135.1,956.0h0M135.1,953.4h0M135.1,952.5h0M136.0,959.4h0M136.0,956.8h0M136.0,954.2h0M136.0,951.6h0M136.0,949.0h0M136.0,946.4h0M136.0,943.8h0M136.0,943.3h0M138.0,958.9h0M138.0,956.3h0M138.0,953.7h0M138.0,951.1h0M138.0,948.5h0M138.0,945.9h0M138.0,943.3h0M138.0,942.4h0M140.0,960.5h0M140.0,957.9h0M140.0,955.3h0M140.0,952.7h0M140.0,950.1h0M140.0,947.5h0M140.0,946.6h0M143.0,961.2h0M143.0,960.8h0M144.1,959.7h0M144.1,957.1h0M144.1,954.5h0M144.1,952.4h0M147.0,958.1h0M147.0,955.5h0M147.0,952.9h0M147.0,950.3h0M147.0,947.7h0M147.0,945.1h0M147.0,942.5h0M147.0,939.9h0M147.0,939.2h0M149.1,956.5h0M149.1,953.9h0M149.1,951.3h0M149.1,948.7h0M149.1,947.3h0M150.7,955.0h0M150.7,952.4h0M150.7,949.8h0M150.7,947.2h0M150.7,944.6h0M150.7,942.0h0M150.7,941.2h0M153.1,951.9h0M153.1,949.3h0M153.1,946.7h0M153.1,944.1h0M153.1,943.8h0M155.2,948.8h0M155.2,946.2h0M155.2,943.6h0M155.2,941.0h0M155.2,938.4h0M155.2,935.8h0M155.2,933.2h0M155.2,931.3h0M156.2,946.8h0M156.2,944.2h0M156.2,941.6h0M156.2,939.0h0M156.2,936.4h0M156.2,933.8h0M156.2,931.2h0M156.2,928.6h0M156.2,926.2h0M158.0,945.0h0M158.0,942.4h0M158.0,939.8h0M158.0,937.2h0M158.0,934.6h0M158.0,932.9h0M159.9,946.9h0M159.9,944.3h0M159.9,941.7h0M159.9,940.1h0M162.6,950.3h0M162.6,947.7h0M162.6,945.1h0M162.6,942.5h0M162.6,940.0h0M164.7,954.1h0M164.7,953.4h0M166.2,958.2h0M166.2,955.6h0M166.2,953.0h0M166.2,950.4h0M166.2,948.0h0M168.5,962.1h0M168.5,959.5h0M168.5,956.9h0M168.5,954.3h0M168.5,951.7h0M168.5,949.1h0M168.5,946.5h0M168.5,945.8h0M170.5,965.8h0M170.5,963.2h0M170.5,960.6h0M170.5,958.0h0M170.5,957.2h0M171.9,967.0h0M171.9,964.4h0M171.9,961.8h0M171.9,959.2h0M171.9,956.6h0M171.9,954.0h0M171.9,953.5h0M173.8,963.1h0M173.8,960.5h0M173.8,957.9h0M173.8,955.3h0M173.8,952.7h0M173.8,950.1h0M173.8,947.5h0M173.8,945.7h0M177.0,956.5h0M177.0,953.9h0M177.0,951.3h0M177.0,948.7h0M177.0,946.1h0M177.0,943.5h0M177.0,940.9h0M177.0,940.2h0M178.9,942.2h0M178.9,940.1h0M180.6,949.7h0M180.6,947.1h0M180.6,944.5h0M180.6,941.9h0M180.6,939.3h0M180.6,938.5h0M181.9,957.3h0M181.9,956.2h0M185.1,958.9h0M185.1,956.3h0M185.1,953.7h0M185.1,952.6h0M186.9,960.5h0M186.9,957.9h0M186.9,955.3h0M186.9,954.0h0M189.1,959.8h0M189.1,957.2h0M189.1,954.6h0M189.1,952.0h0M189.1,949.4h0M189.1,946.8h0M189.1,944.2h0M189.1,943.4h0M190.3,958.8h0M190.3,956.2h0M190.3,953.6h0M190.3,951.0h0M190.3,949.8h0M192.9,954.6h0M192.9,952.0h0M192.9,949.4h0M192.9,946.8h0M192.9,944.2h0M192.9,942.1h0M194.8,949.1h0M194.8,946.5h0M194.8,943.9h0M194.8,943.9h0M197.0,946.1h0M197.0,943.5h0M197.0,940.9h0M197.0,938.3h0M197.0,935.7h0M197.0,933.1h0M197.0,930.5h0M197.0,927.9h0M199.1,944.8h0M199.1,942.2h0M199.1,941.8h0M200.3,954.0h0M200.3,951.4h0M200.3,949.4h0M203.1,975.4h0M203.1,972.8h0M203.1,970.2h0M203.1,967.6h0M203.1,965.0h0M203.1,964.8h0M205.1,978.8h0M205.1,976.2h0M205.1,973.6h0M205.1,971.5h0M206.2,978.7h0M206.2,976.1h0M206.2,973.5h0M206.2,970.9h0M206.2,968.7h0M208.0,976.9h0M208.0,974.3h0M208.0,971.7h0M208.0,969.6h0M210.0,972.4h0M210.0,969.8h0M210.0,969.1h0M213.2,951.6h0M213.2,949.0h0M213.2,946.4h0M213.2,943.8h0M213.2,941.2h0M213.2,938.6h0M213.2,936.0h0M213.2,934.9h0M213.9,951.6h0M213.9,949.0h0M213.9,946.4h0M213.9,944.6h0M216.5,951.6h0M216.5,949.0h0M216.5,946.4h0M216.5,943.8h0M216.5,941.2h0M216.5,938.6h0M216.5,936.0h0M216.5,933.4h0M216.5,930.9h0M218.1,957.7h0M218.1,955.1h0M218.1,952.5h0M218.1,949.9h0M218.1,947.3h0M218.1,946.3h0M221.0,964.1h0M221.0,961.5h0M221.0,958.9h0M221.0,956.3h0M221.0,953.7h0M221.0,951.1h0M221.0,951.0h0M222.4,966.8h0M222.4,964.2h0M222.4,961.6h0M222.4,959.0h0M222.4,956.4h0M222.4,955.9h0M225.1,968.6h0M225.1,966.0h0M225.1,965.6h0M226.5,970.4h0M226.5,968.2h0M228.0,972.2h0M228.0,969.6h0M228.0,967.0h0M228.0,964.4h0M228.0,961.8h0M228.0,959.2h0M228.0,957.1h0M231.1,966.3h0M231.1,963.7h0M231.1,961.1h0M231.1,958.5h0M231.1,955.9h0M231.1,953.3h0M231.1,950.9h0M232.9,953.8h0M232.9,951.2h0M232.9,948.6h0M232.9,946.0h0M232.9,943.4h0M232.9,940.8h0M232.9,938.2h0M232.9,937.1h0M234.4,954.7h0M234.4,952.1h0M234.4,949.5h0M234.4,949.1h0M237.0,953.7h0M237.0,951.1h0M237.0,948.5h0M237.0,946.9h0M238.4,947.3h0M238.4,944.7h0M238.4,942.1h0M238.4,939.5h0M238.4,936.9h0M238.4,936.2h0M241.0,944.4h0M241.0,941.8h0M241.0,939.2h0M241.0,936.6h0M241.0,934.0h0M241.0,931.4h0M241.0,928.8h0M241.0,926.2h0M241.0,923.6h0M241.0,921.0h0M241.0,920.8h0M242.4,955.3h0M242.4,952.7h0M242.4,950.1h0M242.4,947.5h0M242.4,944.9h0M242.4,942.3h0M242.4,939.7h0M242.4,937.1h0M242.4,935.1h0M244.8,965.3h0M244.8,962.7h0M244.8,960.1h0M244.8,957.5h0M244.8,954.9h0M244.8,953.8h0M246.2,963.7h0M246.2,961.1h0M246.2,958.5h0M246.2,955.9h0M246.2,953.3h0M246.2,952.1h0M248.0,962.2h0M248.0,959.6h0M248.0,957.0h0M248.0,954.4h0M248.0,951.8h0M248.0,951.4h0M251.2,952.0h0M251.2,949.4h0M251.2,946.8h0M251.2,944.2h0M251.2,941.6h0M251.2,940.3h0M252.7,946.4h0M252.7,943.8h0M252.7,941.2h0M252.7,938.6h0M252.7,936.0h0M252.7,933.4h0M252.7,930.8h0M252.7,928.2h0M252.7,925.6h0M252.7,924.5h0M254.3,950.6h0M254.3,948.0h0M254.3,945.4h0M254.3,942.8h0M254.3,940.2h0M254.3,937.6h0M254.3,936.6h0M256.2,956.4h0M256.2,953.8h0M256.2,951.8h0M259.0,962.9h0M259.0,960.3h0M259.0,957.7h0M259.0,955.1h0M259.0,952.5h0M259.0,949.9h0M259.0,947.3h0M259.0,947.1h0M260.9,965.8h0M260.9,963.2h0M260.9,960.6h0M260.9,958.0h0M260.9,956.7h0M262.8,966.5h0M262.8,963.9h0M262.8,961.3h0M262.8,958.7h0M262.8,956.1h0M262.8,953.5h0M262.8,953.2h0M264.9,962.6h0M264.9,960.0h0M264.9,957.4h0M264.9,954.8h0M264.9,952.2h0M264.9,950.4h0M266.8,953.7h0M266.8,951.1h0M266.8,948.5h0M266.8,945.9h0M266.8,944.2h0M268.5,970.9h0M268.5,968.3h0M268.5,965.7h0M268.5,965.0h0M270.8,989.4h0M270.8,986.8h0M270.8,984.2h0M270.8,982.5h0M273.1,1001.6h0M273.1,999.0h0M273.1,998.3h0M274.6,1004.3h0M274.6,1001.7h0M274.6,999.1h0M274.6,998.8h0M276.6,1002.4h0M276.6,1001.9h0M278.7,999.5h0M278.7,996.9h0M278.7,995.5h0M280.9,996.6h0M280.9,994.0h0M280.9,991.4h0M280.9,990.2h0M282.9,982.5h0M282.9,979.9h0M282.9,977.3h0M282.9,974.7h0M282.9,972.1h0M282.9,971.7h0M284.7,977.3h0M284.7,974.7h0M284.7,972.1h0M284.7,969.5h0M284.7,969.3h0M287.0,996.8h0M287.0,994.2h0M287.0,991.6h0M287.0,989.0h0M287.0,988.0h0M289.0,997.6h0M289.0,995.0h0M289.0,992.4h0M289.0,992.1h0M290.8,998.4h0M290.8,995.8h0M290.8,993.2h0M290.8,990.6h0M290.8,989.0h0M293.1,997.0h0M293.1,994.4h0M293.1,991.8h0M293.1,989.2h0M293.1,986.6h0M294.5,995.4h0M294.5,992.8h0M294.5,990.2h0M294.5,988.0h0M297.0,996.9h0M297.0,994.3h0M297.0,993.3h0M298.5,999.3h0M298.5,996.7h0M298.5,994.1h0M298.5,991.5h0M298.5,989.8h0M300.8,999.6h0M300.8,997.0h0M300.8,994.4h0M300.8,991.8h0M300.8,991.7h0M302.0,998.8h0M302.0,996.2h0M302.0,993.6h0M302.0,991.0h0M302.0,990.5h0M304.6,998.3h0M304.6,995.7h0M304.6,993.1h0M304.6,990.5h0M304.6,989.7h0M306.4,998.1h0M306.4,995.5h0M306.4,992.9h0M306.4,990.4h0M308.9,991.0h0M308.9,988.4h0M308.9,985.8h0M308.9,983.2h0M308.9,982.3h0M310.8,973.0h0M310.8,970.4h0M310.8,967.8h0M310.8,965.2h0M310.8,962.6h0M310.8,960.7h0M312.0,964.3h0M312.0,962.1h0M314.7,961.0h0M314.7,958.4h0M314.7,955.8h0M314.7,953.2h0M314.7,950.6h0M314.7,949.1h0M316.8,970.4h0M316.8,967.8h0M316.8,965.2h0M316.8,963.6h0M317.9,979.0h0M317.9,976.4h0M317.9,973.8h0M317.9,971.2h0M317.9,968.6h0M317.9,968.0h0M320.1,975.1h0M320.1,972.5h0M320.1,969.9h0M320.1,967.3h0M320.1,965.0h0M322.0,975.0h0M322.0,972.4h0M322.0,972.3h0M324.1,979.5h0M324.1,976.9h0M324.1,974.3h0M324.1,972.2h0M325.8,980.8h0M325.8,978.2h0M325.8,975.6h0M325.8,975.6h0M328.3,975.6h0M328.3,973.0h0M328.3,970.4h0M328.3,967.8h0M328.3,965.6h0M330.6,970.6h0M330.6,968.0h0M330.6,965.4h0M330.6,962.8h0M330.6,960.2h0M330.6,957.7h0M333.1,966.9h0M333.1,964.3h0M333.1,961.7h0M333.1,959.1h0M334.4,963.1h0M334.4,962.9h0M336.4,964.2h0M336.4,961.6h0M336.4,959.0h0M336.4,956.4h0M336.4,955.3h0M339.0,969.7h0M339.0,967.1h0M339.0,964.9h0M339.9,974.9h0M339.9,972.3h0M339.9,969.7h0M339.9,967.1h0M339.9,965.9h0M341.9,979.8h0M341.9,977.2h0M341.9,974.6h0M341.9,972.0h0M341.9,969.4h0M341.9,968.5h0M344.3,980.2h0M344.3,977.6h0M344.3,975.0h0M344.3,972.4h0M344.3,969.8h0M344.3,969.6h0M347.1,967.7h0M347.1,965.1h0M347.1,962.5h0M347.1,959.9h0M347.1,957.3h0M347.1,954.7h0M347.1,954.2h0M348.4,966.4h0M348.4,963.8h0M348.4,961.2h0M348.4,958.6h0M348.4,956.0h0M348.4,953.4h0M348.4,950.8h0M348.4,949.6h0M350.7,970.9h0M350.7,968.3h0M350.7,965.7h0M350.7,963.1h0M350.7,960.5h0M350.7,957.9h0M350.7,955.5h0M352.0,970.9h0M352.0,968.3h0M352.0,965.7h0M352.0,963.1h0M352.0,961.4h0M354.6,967.0h0M354.6,964.4h0M354.6,961.8h0M354.6,959.2h0M354.6,956.6h0M354.6,954.0h0M354.6,953.6h0M357.2,964.4h0M357.2,961.8h0M357.2,959.2h0M357.2,956.6h0M357.2,954.0h0M357.2,951.4h0M357.2,948.8h0M357.2,946.2h0M357.2,945.7h0M358.3,963.6h0M358.3,961.0h0M358.3,958.4h0M358.3,955.8h0M358.3,953.2h0M358.3,950.6h0M358.3,949.2h0M359.8,960.1h0M359.8,957.5h0M359.8,954.9h0M359.8,952.3h0M359.8,949.7h0M359.8,947.1h0M359.8,944.5h0M359.8,941.9h0M359.8,941.6h0M362.6,949.0h0M362.6,946.4h0M362.6,943.8h0M362.6,943.6h0M364.0,950.7h0M364.0,948.1h0M364.0,945.5h0M364.0,942.9h0M364.0,940.3h0M364.0,937.7h0M364.0,936.9h0M367.0,958.9h0M367.0,956.3h0M367.0,953.7h0M367.0,951.1h0M367.0,948.5h0M367.0,947.6h0M368.4,968.1h0M368.4,965.5h0M368.4,962.9h0M368.4,960.3h0M368.4,959.2h0M370.2,971.6h0M370.2,969.0h0M370.2,966.4h0M370.2,964.5h0M372.3,968.4h0M372.3,965.8h0M372.3,963.2h0M372.3,960.6h0M372.3,958.0h0M372.3,955.4h0M372.3,952.8h0M372.3,950.7h0M375.1,967.4h0M375.1,964.8h0M375.1,962.2h0M375.1,959.6h0M375.1,957.0h0M375.1,954.4h0M375.1,951.8h0M375.1,949.5h0M376.2,970.5h0M376.2,967.9h0M376.2,965.3h0M376.2,962.7h0M376.2,960.1h0M376.2,957.7h0M378.5,975.0h0M378.5,972.4h0M378.5,969.8h0M378.5,967.2h0M378.5,964.6h0M378.5,962.0h0M378.5,959.4h0M378.5,959.1h0M380.2,985.2h0M380.2,982.6h0M380.2,980.0h0M380.2,977.4h0M380.2,977.3h0M382.5,994.4h0M382.5,991.8h0M382.5,989.2h0M382.5,986.6h0M382.5,984.0h0M382.5,983.8h0M384.5,990.5h0M384.5,987.9h0M384.5,985.3h0M384.5,984.9h0M386.7,986.6h0M386.7,984.0h0M386.7,982.9h0M388.2,979.2h0M388.2,976.6h0M388.2,974.0h0M388.2,971.4h0M388.2,970.3h0M391.0,975.0h0M391.0,972.4h0M391.0,969.8h0M391.0,967.2h0M391.0,964.6h0M391.0,962.0h0M391.0,961.6h0M392.5,977.3h0M392.5,976.2h0M395.1,978.8h0M395.1,976.2h0M395.1,973.6h0M395.1,972.2h0M396.1,976.8h0M396.1,974.2h0M396.1,971.6h0M396.1,969.0h0M396.1,966.4h0M396.1,964.4h0M398.0,973.1h0M398.0,970.5h0M398.0,967.9h0M398.0,966.4h0M400.2,947.3h0M400.2,944.7h0M400.2,942.1h0M400.2,939.5h0M400.2,936.9h0M400.2,934.3h0M400.2,931.7h0M400.2,929.1h0M400.2,926.5h0M400.2,926.5h0M402.5,920.7h0M402.5,918.1h0M402.5,915.5h0M402.5,912.9h0M402.5,910.3h0M402.5,907.7h0M402.5,905.1h0M402.5,902.5h0M402.5,900.7h0M404.6,893.2h0M404.6,890.6h0M404.6,888.0h0M404.6,885.4h0M404.6,882.8h0M404.6,880.2h0M404.6,877.6h0M404.6,875.0h0M404.6,872.4h0M404.6,869.8h0M404.6,868.0h0M406.0,882.7h0M406.0,880.1h0M406.0,877.5h0M406.0,874.9h0M406.0,872.3h0M406.0,869.7h0M406.0,867.1h0M406.0,864.5h0M406.0,861.9h0M406.0,859.3h0M406.0,856.7h0M406.0,854.1h0M406.0,852.6h0M408.2,876.5h0M408.2,873.9h0M408.2,871.3h0M408.2,868.7h0M408.2,866.1h0M408.2,863.5h0M408.2,860.9h0M408.2,858.3h0M408.2,855.7h0M408.2,853.1h0M408.2,850.5h0M408.2,847.9h0M408.2,845.3h0M408.2,844.2h0M410.3,875.1h0M410.3,872.5h0M410.3,869.9h0M410.3,867.3h0M410.3,864.7h0M410.3,862.1h0M410.3,859.5h0M410.3,856.9h0M410.3,854.3h0M410.3,851.7h0M410.3,849.1h0M410.3,848.6h0M412.5,872.8h0M412.5,870.2h0M412.5,867.6h0M412.5,865.0h0M412.5,862.4h0M412.5,859.8h0M412.5,857.2h0M412.5,854.6h0M412.5,853.6h0M414.3,864.3h0M414.3,861.7h0M414.3,859.1h0M414.3,856.5h0M414.3,853.9h0M414.3,851.3h0M414.3,848.7h0M414.3,846.1h0M414.3,843.5h0M414.3,840.9h0M414.3,838.3h0M414.3,837.0h0M416.6,882.6h0M416.6,880.0h0M416.6,877.4h0M416.6,874.8h0M416.6,872.2h0M416.6,869.6h0M416.6,867.0h0M416.6,864.4h0M416.6,861.8h0M416.6,859.2h0M416.6,856.6h0M416.6,854.0h0M416.6,851.4h0M416.6,849.9h0M418.2,923.7h0M418.2,921.1h0M418.2,919.8h0M421.1,925.8h0M421.1,923.2h0M421.1,920.6h0M421.1,918.0h0M421.1,915.4h0M421.1,912.8h0M421.1,910.2h0M421.1,908.1h0M422.6,924.7h0M422.6,922.1h0M422.6,919.5h0M422.6,916.9h0M422.6,914.3h0M422.6,911.7h0M422.6,909.1h0M422.6,906.5h0M422.6,903.9h0M422.6,901.3h0M422.6,898.7h0M422.6,897.3h0M424.9,935.1h0M424.9,933.0h0M426.6,989.9h0M426.6,987.3h0M426.6,984.7h0M426.6,982.3h0M444.7,917.1h0M444.7,914.5h0M444.7,911.9h0M444.7,909.3h0M444.7,906.7h0M444.7,904.1h0M444.7,901.5h0M444.7,898.9h0M444.7,896.3h0M444.7,893.7h0M444.7,891.1h0M444.7,890.8h0M447.1,921.7h0M447.1,919.1h0M447.1,916.5h0M447.1,913.9h0M447.1,911.3h0M447.1,908.7h0M447.1,906.1h0M447.1,903.5h0M447.1,902.2h0M448.3,928.9h0M448.3,926.3h0M448.3,923.7h0M448.3,921.1h0M448.3,918.5h0M448.3,915.9h0M448.3,913.3h0M448.3,913.1h0M450.1,938.3h0M450.1,935.7h0M450.1,933.1h0M450.1,930.5h0M450.1,927.9h0M450.1,925.3h0M450.1,922.7h0M450.1,920.1h0M450.1,917.5h0M450.1,915.3h0M453.0,936.1h0M453.0,933.5h0M453.0,930.9h0M453.0,928.3h0M453.0,925.7h0M453.0,923.5h0M455.0,934.7h0M455.0,932.1h0M455.0,929.5h0M455.0,929.4h0M456.4,971.9h0M456.4,969.3h0M456.4,966.7h0M456.4,964.1h0M456.4,961.5h0M456.4,958.9h0M456.4,958.5h0M458.9,1012.8h0M458.9,1010.2h0M458.9,1010.1h0M466.0,983.3h0M466.0,980.7h0M466.0,978.1h0M466.0,975.5h0M466.0,972.9h0M466.0,970.3h0M466.0,969.9h0M468.6,931.8h0M468.6,929.2h0M468.6,926.6h0M468.6,924.0h0M468.6,921.4h0M468.6,918.8h0M468.6,916.2h0M468.6,913.6h0M468.6,913.6h0M470.3,930.7h0M470.3,928.1h0M470.3,925.5h0M470.3,922.9h0M470.3,920.3h0M470.3,917.7h0M470.3,915.1h0M470.3,913.5h0M472.6,880.2h0M472.6,877.6h0M472.6,875.0h0M472.6,872.4h0M472.6,869.8h0M472.6,867.4h0M473.9,810.9h0M473.9,808.3h0M473.9,805.7h0M473.9,803.1h0M473.9,800.5h0M473.9,797.9h0M473.9,795.3h0M473.9,792.7h0M473.9,790.1h0M473.9,787.5h0M473.9,784.9h0M473.9,782.3h0M473.9,779.7h0M473.9,777.1h0M473.9,774.5h0M473.9,771.9h0M473.9,769.3h0M473.9,766.7h0M473.9,764.1h0M473.9,761.5h0M473.9,759.0h0M476.9,795.2h0M476.9,792.6h0M476.9,790.0h0M476.9,787.4h0M476.9,784.8h0M476.9,782.2h0M476.9,779.6h0M476.9,777.0h0M476.9,774.4h0M476.9,771.8h0M476.9,769.2h0M476.9,769.2h0M478.7,795.1h0M478.7,792.5h0M478.7,789.9h0M478.7,787.3h0M478.7,784.7h0M478.7,782.1h0M478.7,779.5h0M478.7,776.9h0M478.7,774.3h0M478.7,771.7h0M478.7,769.1h0M478.7,766.5h0M478.7,763.9h0M478.7,761.3h0M478.7,758.7h0M478.7,756.1h0M478.7,753.5h0M478.7,750.9h0M478.7,748.3h0M478.7,745.7h0M478.7,743.1h0M478.7,740.6h0M480.8,815.2h0M480.8,812.6h0M480.8,810.0h0M480.8,809.0h0M483.2,837.7h0M483.2,835.1h0M483.2,832.5h0M483.2,829.9h0M483.2,827.3h0M483.2,824.7h0M483.2,822.1h0M483.2,819.5h0M483.2,816.9h0M483.2,814.3h0M483.2,811.7h0M483.2,809.1h0M483.2,806.5h0M483.2,803.9h0M483.2,801.3h0M483.2,798.7h0M483.2,796.1h0M483.2,793.5h0M483.2,790.9h0M483.2,788.3h0M483.2,788.2h0M483.9,856.6h0M483.9,854.0h0M483.9,851.4h0M483.9,848.8h0M483.9,846.2h0M483.9,843.6h0M483.9,841.0h0M483.9,838.4h0M483.9,835.8h0M483.9,833.2h0M483.9,830.6h0M483.9,828.0h0M483.9,825.4h0M483.9,822.8h0M483.9,820.2h0M483.9,820.2h0M486.1,873.8h0M486.1,871.2h0M486.1,868.6h0M486.1,866.0h0M486.1,863.4h0M486.1,860.8h0M486.1,858.2h0M486.1,855.6h0M486.1,853.0h0M486.1,850.4h0M486.1,847.8h0M486.1,845.2h0M486.1,842.6h0M486.1,840.0h0M486.1,837.4h0M486.1,837.3h0M489.1,878.7h0M489.1,876.1h0M489.1,873.5h0M489.1,870.9h0M489.1,868.3h0M489.1,865.7h0M489.1,863.1h0M489.1,860.5h0M489.1,857.9h0M489.1,855.3h0M489.1,852.7h0M489.1,850.1h0M489.1,848.4h0M490.0,883.6h0M490.0,881.0h0M490.0,878.4h0M490.0,875.8h0M490.0,873.2h0M490.0,870.6h0M490.0,868.0h0M490.0,865.4h0M490.0,862.8h0M490.0,860.2h0M490.0,857.6h0M490.0,855.0h0M490.0,852.4h0M490.0,852.4h0M493.1,894.7h0M493.1,892.1h0M493.1,889.5h0M493.1,886.9h0M493.1,884.3h0M493.1,881.7h0M493.1,879.1h0M493.1,877.8h0M494.7,905.9h0M494.7,903.3h0M494.7,900.7h0M494.7,898.1h0M494.7,895.5h0M494.7,895.4h0M496.0,914.3h0M496.0,911.7h0M496.0,909.1h0M496.0,906.5h0M496.0,903.9h0M496.0,901.3h0M496.0,898.7h0M496.0,896.4h0M497.9,922.3h0M497.9,919.7h0M497.9,917.1h0M497.9,914.5h0M497.9,911.9h0M497.9,909.3h0M497.9,906.7h0M497.9,904.1h0M497.9,901.5h0M497.9,900.9h0M500.3,925.5h0M500.3,922.9h0M500.3,920.3h0M500.3,918.3h0M501.9,926.9h0M501.9,924.3h0M501.9,921.7h0M501.9,921.3h0M504.8,926.7h0M504.8,924.1h0M504.8,921.5h0M504.8,918.9h0M504.8,916.3h0M504.8,913.7h0M504.8,911.1h0M504.8,908.5h0M504.8,907.7h0M506.0,925.5h0M506.0,922.9h0M506.0,920.3h0M506.0,917.7h0M506.0,915.1h0M506.0,912.5h0M506.0,909.9h0M506.0,907.3h0M506.0,904.7h0M506.0,902.1h0M506.0,901.2h0M508.2,925.3h0M508.2,922.7h0M508.2,920.1h0M508.2,917.5h0M508.2,914.9h0M508.2,912.3h0M508.2,909.7h0M508.2,909.5h0M510.5,926.3h0M510.5,923.7h0M510.5,921.1h0M510.5,918.5h0M510.5,915.9h0M510.5,913.3h0M510.5,910.7h0M510.5,908.1h0M510.5,907.1h0M512.3,927.3h0M512.3,924.7h0M512.3,922.1h0M512.3,919.5h0M512.3,916.9h0M512.3,914.3h0M512.3,911.7h0M512.3,909.1h0M512.3,906.5h0M512.3,903.9h0M512.3,902.2h0M514.8,928.6h0M514.8,926.0h0M514.8,923.9h0M516.7,925.5h0M516.7,922.9h0M516.7,920.3h0M516.7,917.7h0M516.7,916.6h0M519.1,904.7h0M519.1,902.1h0M519.1,899.5h0M519.1,896.9h0M519.1,894.3h0M519.1,891.7h0M519.1,889.1h0M519.1,886.5h0M519.1,883.9h0M519.1,882.1h0M520.7,885.7h0M520.7,883.1h0M520.7,880.5h0M520.7,877.9h0M520.7,875.3h0M520.7,872.7h0M520.7,870.1h0M520.7,867.5h0M520.7,864.9h0M520.7,862.3h0M520.7,859.7h0M520.7,858.0h0M522.6,896.1h0M522.6,893.5h0M522.6,890.9h0M522.6,888.3h0M522.6,885.7h0M522.6,883.1h0M522.6,880.5h0M522.6,879.5h0M524.9,906.5h0M524.9,903.9h0M524.9,901.3h0M524.9,898.7h0M524.9,896.1h0M524.9,893.5h0M524.9,891.4h0M526.0,923.8h0M526.0,921.2h0M526.0,918.6h0M526.0,916.0h0M526.0,913.4h0M526.0,910.8h0M526.0,908.2h0M526.0,905.6h0M526.0,904.1h0M528.3,941.8h0M528.3,939.2h0M528.3,936.6h0M528.3,934.0h0M528.3,931.6h0M530.1,952.9h0M530.1,950.3h0M530.1,947.7h0M530.1,945.1h0M530.1,942.5h0M530.1,939.9h0M530.1,937.3h0M530.1,935.3h0M532.7,962.3h0M532.7,959.7h0M532.7,957.1h0M532.7,954.5h0M532.7,951.9h0M532.7,949.3h0M532.7,947.1h0M534.7,965.9h0M534.7,963.3h0M534.7,961.9h0M536.0,966.7h0M536.0,964.1h0M536.0,962.6h0M538.1,970.8h0M538.1,968.2h0M538.1,965.6h0M538.1,963.0h0M538.1,960.4h0M538.1,959.0h0M540.5,977.8h0M540.5,975.2h0M540.5,972.6h0M540.5,970.0h0M540.5,967.4h0M540.5,964.8h0M540.5,964.8h0M542.9,982.1h0M542.9,979.5h0M542.9,976.9h0M542.9,975.5h0M544.8,982.4h0M544.8,980.8h0M546.0,978.2h0M546.0,975.6h0M548.8,961.8h0M548.8,959.2h0M548.8,956.6h0M548.8,954.0h0M548.8,951.4h0M548.8,948.8h0M548.8,946.2h0M548.8,943.6h0M548.8,943.1h0M550.0,947.4h0M550.0,944.8h0M550.0,942.2h0M550.0,939.6h0M550.0,938.0h0M552.7,946.4h0M552.7,943.8h0M552.7,941.2h0M552.7,938.6h0M552.7,936.0h0M552.7,933.4h0M552.7,930.8h0M552.7,928.2h0M552.7,925.6h0M552.7,923.6h0M554.0,945.5h0M554.0,942.9h0M554.0,940.3h0M554.0,937.7h0M554.0,935.1h0M554.0,932.5h0M554.0,929.9h0M554.0,927.3h0M554.0,924.8h0M556.3,946.8h0M556.3,944.2h0M556.3,941.6h0M556.3,939.0h0M556.3,936.4h0M556.3,933.8h0M556.3,931.2h0M556.3,929.7h0M558.3,948.1h0M558.3,945.5h0M558.3,942.9h0M558.3,940.3h0M558.3,938.9h0M560.3,947.1h0M560.3,944.5h0M560.3,941.9h0M560.3,939.3h0M560.3,936.7h0M560.3,934.1h0M560.3,931.5h0M560.3,930.4h0M562.0,945.8h0M562.0,943.2h0M562.0,940.6h0M562.0,938.0h0M562.0,935.4h0M562.0,932.8h0M562.0,932.8h0M564.7,937.6h0M564.7,935.0h0M564.7,932.4h0M564.7,929.8h0M564.7,927.2h0M564.7,924.6h0M564.7,922.0h0M564.7,919.4h0M564.7,916.8h0M564.7,914.6h0M566.4,926.9h0M566.4,924.3h0M566.4,921.7h0M566.4,919.1h0M566.4,916.5h0M566.4,913.9h0M566.4,911.3h0M566.4,908.7h0M566.4,906.1h0M566.4,903.5h0M566.4,901.4h0M568.5,920.8h0M568.5,918.2h0M568.5,915.6h0M568.5,913.0h0M568.5,910.4h0M568.5,907.8h0M568.5,905.2h0M568.5,902.6h0M568.5,900.0h0M568.5,897.4h0M568.5,894.8h0M568.5,892.7h0M570.6,917.6h0M570.6,915.0h0M570.6,912.4h0M570.6,909.8h0M570.6,907.2h0M570.6,904.6h0M570.6,902.0h0M570.6,899.4h0M570.6,896.8h0M570.6,894.5h0M572.4,913.7h0M572.4,911.1h0M572.4,908.5h0M572.4,905.9h0M572.4,903.3h0M572.4,900.7h0M572.4,898.1h0M572.4,895.5h0M572.4,892.9h0M572.4,890.3h0M572.4,887.7h0M572.4,886.4h0M573.8,908.8h0M573.8,906.2h0M573.8,903.6h0M573.8,901.0h0M573.8,900.4h0M575.9,901.2h0M575.9,898.6h0M575.9,896.0h0M575.9,893.4h0M575.9,890.8h0M575.9,888.2h0M575.9,887.6h0M578.5,888.5h0M578.5,885.9h0M578.5,883.3h0M578.5,880.7h0M578.5,878.1h0M578.5,875.5h0M578.5,872.9h0M578.5,870.3h0M578.5,867.7h0M578.5,865.1h0M578.5,862.5h0M578.5,859.9h0M578.5,857.3h0M578.5,854.7h0M578.5,852.3h0M579.8,881.4h0M579.8,878.8h0M579.8,876.2h0M579.8,873.6h0M579.8,871.0h0M579.8,868.4h0M579.8,865.8h0M579.8,863.2h0M579.8,860.6h0M579.8,858.0h0M579.8,855.4h0M579.8,852.8h0M579.8,850.2h0M579.8,847.6h0M579.8,846.7h0M583.0,895.6h0M583.0,893.0h0M583.0,890.4h0M583.0,887.8h0M583.0,885.2h0M583.0,882.6h0M583.0,880.0h0M583.0,877.4h0M583.0,874.8h0M583.0,872.2h0M583.0,872.0h0M584.4,909.0h0M584.4,906.4h0M584.4,903.8h0M584.4,901.2h0M584.4,898.6h0M584.4,896.0h0M584.4,893.4h0M584.4,890.8h0M584.4,888.2h0M584.4,885.6h0M584.4,883.9h0M585.9,911.7h0M585.9,909.1h0M585.9,906.5h0M585.9,903.9h0M585.9,901.3h0M585.9,898.7h0M585.9,896.1h0M585.9,893.5h0M585.9,891.4h0M588.0,914.4h0M588.0,911.8h0M588.0,909.2h0M588.0,906.6h0M588.0,904.3h0M590.3,908.5h0M590.3,905.9h0M590.3,903.3h0M590.3,900.7h0M590.3,898.1h0M590.3,895.5h0M590.3,892.9h0M590.3,890.6h0M592.0,902.0h0M592.0,899.4h0M592.0,896.8h0M592.0,894.2h0M592.0,891.6h0M592.0,889.0h0M592.0,886.4h0M592.0,883.8h0M592.0,881.2h0M592.0,878.6h0M592.0,876.0h0M592.0,873.4h0M592.0,870.8h0M592.0,870.8h0M594.2,910.6h0M594.2,908.0h0M594.2,905.4h0M594.2,902.8h0M594.2,900.2h0M594.2,897.6h0M594.2,896.6h0M596.2,922.7h0M596.2,920.1h0M596.2,917.5h0M596.2,914.9h0M596.2,913.0h0M598.5,930.7h0M598.5,928.1h0M598.5,925.5h0M598.5,922.9h0M598.5,920.3h0M598.5,919.2h0M601.1,936.6h0M601.1,934.0h0M601.1,933.2h0M603.1,943.5h0M603.1,940.9h0M603.1,938.3h0M603.1,935.7h0M603.1,933.1h0M603.1,930.5h0M603.1,930.1h0M604.7,951.3h0M604.7,948.7h0M604.7,946.1h0M604.7,943.5h0M604.7,940.9h0M604.7,938.3h0M604.7,935.7h0M604.7,933.5h0M607.1,941.9h0M607.1,939.3h0M607.1,936.7h0M607.1,934.1h0M607.1,931.5h0M607.1,928.9h0M607.1,926.3h0M607.1,926.0h0M608.7,925.1h0M608.7,922.5h0M608.7,919.9h0M608.7,917.3h0M608.7,916.9h0M610.7,942.0h0M610.7,939.4h0M610.7,936.8h0M610.7,934.2h0M610.7,931.6h0M610.7,930.4h0M612.0,954.5h0M612.0,951.9h0M612.0,949.3h0M612.0,946.7h0M612.0,944.1h0M612.0,941.5h0M612.0,938.9h0M612.0,937.3h0M613.8,949.8h0M613.8,947.2h0M613.8,944.6h0M613.8,942.0h0M613.8,941.3h0M615.9,943.6h0M615.9,941.0h0M615.9,938.4h0M615.9,935.8h0M615.9,933.7h0M619.2,919.7h0M619.2,917.1h0M619.2,914.5h0M619.2,911.9h0M619.2,909.3h0M619.2,906.7h0M619.2,904.1h0M619.2,901.8h0M620.2,895.7h0M620.2,893.1h0M620.2,890.5h0M620.2,887.9h0M620.2,885.3h0M620.2,882.7h0M620.2,880.1h0M620.2,877.5h0M620.2,875.0h0M622.2,910.6h0M622.2,908.0h0M622.2,905.4h0M622.2,902.8h0M622.2,900.2h0M622.2,897.6h0M622.2,895.0h0M622.2,892.4h0M622.2,889.8h0M622.2,889.2h0M624.8,927.7h0M624.8,925.1h0M624.8,922.5h0M624.8,919.9h0M624.8,917.3h0M624.8,914.7h0M624.8,912.1h0M624.8,909.5h0M624.8,906.9h0M624.8,904.3h0M624.8,903.8h0M626.1,933.4h0M626.1,930.8h0M626.1,928.2h0M626.1,925.6h0M626.1,924.5h0M629.1,923.6h0M629.1,921.0h0M629.1,918.4h0M629.1,915.8h0M629.1,913.2h0M629.1,910.6h0M629.1,908.0h0M629.1,905.4h0M629.1,902.8h0M629.1,901.1h0M630.4,921.5h0M630.4,918.9h0M630.4,916.3h0M630.4,913.7h0M630.4,911.1h0M630.4,908.5h0M630.4,905.9h0M630.4,903.3h0M630.4,900.7h0M630.4,899.5h0M631.8,919.9h0M631.8,917.3h0M631.8,914.7h0M631.8,912.1h0M631.8,909.5h0M631.8,906.9h0M631.8,904.3h0M631.8,901.7h0M631.8,899.1h0M631.8,896.5h0M631.8,893.9h0M631.8,891.3h0M634.9,908.0h0M634.9,905.4h0M634.9,902.8h0M634.9,901.9h0M635.9,894.3h0M635.9,891.7h0M635.9,889.1h0M635.9,886.5h0M635.9,883.9h0M635.9,881.3h0M635.9,878.7h0M635.9,876.1h0M635.9,873.5h0M635.9,872.6h0M639.2,888.1h0M639.2,885.5h0M639.2,882.9h0M639.2,880.3h0M639.2,877.7h0M639.2,875.1h0M639.2,872.5h0M639.2,869.9h0M639.2,867.3h0M639.2,864.7h0M639.2,862.1h0M639.2,861.1h0M640.3,884.8h0M640.3,882.2h0M640.3,879.6h0M640.3,877.0h0M640.3,874.4h0M640.3,871.8h0M640.3,869.2h0M640.3,866.6h0M640.3,864.0h0M640.3,861.4h0M640.3,858.8h0M640.3,858.1h0M641.9,890.6h0M641.9,888.0h0M641.9,885.4h0M641.9,882.8h0M641.9,881.5h0M644.5,902.9h0M644.5,900.3h0M644.5,897.7h0M644.5,895.1h0M644.5,892.5h0M644.5,889.9h0M644.5,887.3h0M644.5,884.7h0M644.5,882.1h0M644.5,879.5h0M644.5,876.9h0M644.5,874.3h0M644.5,871.7h0M644.5,871.1h0M645.9,913.0h0M645.9,910.4h0M645.9,907.8h0M645.9,905.2h0M645.9,902.6h0M645.9,900.0h0M645.9,897.4h0M645.9,894.8h0M645.9,892.2h0M645.9,889.6h0M645.9,887.0h0M645.9,884.4h0M645.9,883.5h0M647.9,920.6h0M647.9,918.0h0M647.9,915.4h0M647.9,912.8h0M647.9,910.2h0M647.9,908.5h0M649.9,921.6h0M649.9,919.0h0M649.9,916.4h0M649.9,913.8h0M649.9,911.2h0M649.9,908.6h0M649.9,906.0h0M649.9,905.7h0M652.4,908.9h0M652.4,906.3h0M652.4,903.7h0M652.4,901.1h0M652.4,898.5h0M652.4,895.9h0M652.4,895.3h0M653.9,898.3h0M653.9,895.7h0M653.9,893.1h0M653.9,890.5h0M653.9,887.9h0M653.9,885.3h0M653.9,882.7h0M653.9,881.7h0M657.2,897.0h0M657.2,894.4h0M657.2,892.2h0M658.5,895.9h0M658.5,893.3h0M658.5,890.7h0M658.5,888.1h0M658.5,885.5h0M658.5,883.4h0M660.5,897.8h0M660.5,895.2h0M660.5,892.6h0M660.5,890.0h0M660.5,887.4h0M660.5,884.8h0M660.5,882.2h0M660.5,879.6h0M660.5,877.6h0M662.2,899.3h0M662.2,896.7h0M662.2,894.1h0M662.2,891.5h0M662.2,891.5h0M664.6,899.3h0M664.6,896.7h0M664.6,894.1h0M664.6,891.5h0M664.6,890.3h0M666.6,899.2h0M666.6,896.6h0M666.6,894.0h0M666.6,891.4h0M666.6,888.8h0M666.6,886.2h0M666.6,883.6h0M666.6,881.0h0M666.6,878.4h0M666.6,875.8h0M666.6,873.2h0M666.6,870.6h0M666.6,868.0h0M666.6,866.6h0M668.1,901.5h0M668.1,898.9h0M668.1,896.3h0M668.1,893.7h0M668.1,891.1h0M668.1,888.5h0M668.1,885.9h0M668.1,883.3h0M668.1,880.7h0M668.1,878.1h0M668.1,875.5h0M668.1,872.9h0M668.1,870.3h0M668.1,869.7h0M670.6,904.1h0M670.6,901.5h0M670.6,901.0h0M672.6,900.0h0M672.6,897.4h0M672.6,894.8h0M672.6,892.2h0M672.6,889.6h0M672.6,887.0h0M672.6,884.4h0M672.6,881.8h0M672.6,879.2h0M672.6,876.6h0M672.6,876.2h0M674.7,892.8h0M674.7,890.2h0M674.7,887.6h0M674.7,885.0h0M674.7,882.4h0M674.7,879.8h0M674.7,877.2h0M674.7,874.6h0M674.7,872.0h0M674.7,871.4h0M677.1,888.2h0M677.1,885.6h0M677.1,883.0h0M677.1,880.4h0M677.1,877.8h0M677.1,875.2h0M677.1,872.6h0M677.1,870.0h0M677.1,867.4h0M677.1,864.8h0M677.1,862.2h0M677.1,859.6h0M677.1,857.0h0M677.1,855.4h0M678.4,885.9h0M678.4,883.3h0M678.4,880.7h0M678.4,878.1h0M678.4,875.5h0M678.4,872.9h0M678.4,870.3h0M678.4,867.7h0M678.4,866.0h0M680.1,884.5h0M680.1,881.9h0M680.1,879.3h0M680.1,876.7h0M680.1,874.1h0M680.1,871.5h0M680.1,868.9h0M680.1,866.3h0M680.1,863.7h0M680.1,861.1h0M680.1,858.5h0M680.1,855.9h0M680.1,853.3h0M680.1,850.7h0M680.1,848.1h0M680.1,848.1h0M682.2,884.0h0M682.2,881.4h0M682.2,878.8h0M682.2,876.2h0M682.2,873.6h0M682.2,873.0h0M684.9,887.2h0M684.9,884.6h0M684.9,882.0h0M684.9,879.4h0M684.9,878.1h0M686.2,900.6h0M686.2,898.0h0M686.2,895.4h0M686.2,892.8h0M686.2,890.2h0M686.2,887.6h0M686.2,885.0h0M686.2,882.4h0M686.2,879.8h0M686.2,877.2h0M686.2,874.6h0M686.2,872.0h0M686.2,870.2h0M687.9,911.3h0M687.9,908.7h0M687.9,906.1h0M687.9,903.5h0M687.9,902.1h0M689.9,899.0h0M689.9,896.4h0M689.9,893.8h0M689.9,891.2h0M689.9,888.6h0M689.9,886.0h0M689.9,883.9h0M692.6,886.6h0M692.6,884.0h0M692.6,881.4h0M692.6,878.8h0M692.6,876.2h0M692.6,873.6h0M692.6,871.0h0M692.6,868.4h0M692.6,865.8h0M692.6,863.4h0M693.9,868.7h0M693.9,866.1h0M693.9,863.5h0M693.9,860.9h0M693.9,858.3h0M693.9,855.7h0M693.9,853.1h0M693.9,850.5h0M693.9,850.3h0M695.9,850.8h0M695.9,848.2h0M695.9,845.6h0M695.9,843.0h0M695.9,840.4h0M695.9,837.8h0M695.9,835.2h0M695.9,832.6h0M695.9,830.0h0M695.9,827.4h0M695.9,824.8h0M695.9,822.2h0M695.9,819.6h0M695.9,817.0h0M695.9,814.4h0M695.9,813.0h0M698.2,851.8h0M698.2,849.2h0M698.2,846.6h0M698.2,844.0h0M698.2,841.4h0M698.2,838.8h0M698.2,836.2h0M698.2,834.4h0M699.9,857.0h0M699.9,854.4h0M699.9,851.8h0M699.9,849.2h0M699.9,846.6h0M699.9,844.0h0M699.9,841.4h0M699.9,838.8h0M699.9,836.2h0M699.9,833.6h0M699.9,832.2h0M702.2,872.5h0M702.2,869.9h0M702.2,867.3h0M702.2,864.7h0M702.2,862.1h0M702.2,859.5h0M702.2,856.9h0M702.2,854.3h0M702.2,851.7h0M702.2,849.1h0M702.2,848.0h0M704.6,891.7h0M704.6,889.1h0M704.6,886.5h0M704.6,883.9h0M704.6,881.3h0M704.6,878.7h0M704.6,876.1h0M704.6,873.5h0M704.6,870.9h0M704.6,868.3h0M704.6,865.7h0M704.6,863.1h0M704.6,861.0h0M706.7,891.1h0M706.7,888.5h0M706.7,885.9h0M706.7,883.3h0M706.7,880.7h0M706.7,878.1h0M706.7,875.5h0M706.7,872.9h0M706.7,870.3h0M706.7,867.7h0M706.7,865.1h0M706.7,862.5h0M706.7,859.9h0M706.7,857.3h0M706.7,856.6h0M708.6,877.3h0M708.6,874.7h0M708.6,872.1h0M708.6,869.5h0M708.6,866.9h0M708.6,864.3h0M708.6,861.7h0M708.6,859.1h0M708.6,856.5h0M708.6,853.9h0M708.6,851.3h0M708.6,848.7h0M708.6,846.1h0M708.6,843.5h0M708.6,842.5h0M710.9,872.8h0M710.9,870.2h0M710.9,867.6h0M710.9,865.0h0M710.9,862.4h0M710.9,859.8h0M710.9,857.2h0M710.9,854.6h0M710.9,852.0h0M710.9,849.4h0M710.9,846.8h0M710.9,846.8h0M713.1,879.0h0M713.1,876.4h0M713.1,873.8h0M713.1,871.2h0M713.1,868.6h0M713.1,866.0h0M713.1,863.4h0M713.1,860.8h0M713.1,858.2h0M713.1,855.6h0M713.1,853.0h0M713.1,850.4h0M713.1,847.8h0M713.1,847.4h0M714.8,878.8h0M714.8,876.2h0M714.8,873.6h0M714.8,871.0h0M714.8,868.4h0M714.8,865.8h0M714.8,863.2h0M714.8,860.6h0M714.8,858.0h0M714.8,855.4h0M714.8,852.8h0M714.8,850.2h0M714.8,847.6h0M714.8,845.1h0M716.9,865.4h0M716.9,862.8h0M716.9,860.2h0M716.9,857.6h0M716.9,855.0h0M716.9,852.4h0M716.9,849.8h0M716.9,847.2h0M716.9,845.3h0M718.0,859.8h0M718.0,857.2h0M718.0,854.6h0M718.0,852.0h0M718.0,849.4h0M718.0,846.8h0M718.0,844.2h0M718.0,841.6h0M718.0,839.0h0M718.0,836.4h0M718.0,834.3h0M720.0,886.6h0M720.0,884.0h0M720.0,881.4h0M720.0,879.3h0M722.7,911.9h0M722.7,909.3h0M722.7,906.7h0M722.7,904.1h0M722.7,901.5h0M722.7,898.9h0M722.7,898.6h0M723.9,914.7h0M723.9,912.1h0M723.9,909.5h0M723.9,906.9h0M723.9,904.3h0M723.9,901.7h0M723.9,901.3h0M726.6,917.5h0M726.6,914.9h0M726.6,912.3h0M726.6,909.7h0M726.6,907.1h0M726.6,904.5h0M726.6,901.9h0M726.6,899.3h0M726.6,896.7h0M726.6,894.4h0M727.9,919.7h0M727.9,917.1h0M727.9,916.5h0M730.3,922.4h0M730.3,919.8h0M730.3,917.2h0M730.3,914.6h0M730.3,914.2h0M733.1,961.3h0M733.1,958.7h0M733.1,956.1h0M733.1,953.5h0M733.1,950.9h0M733.1,948.3h0M733.1,945.7h0M733.1,944.0h0M734.1,961.3h0M734.1,958.7h0M734.1,956.1h0M734.1,953.5h0M734.1,950.9h0M734.1,948.3h0M734.1,947.2h0M736.3,960.1h0M736.3,957.5h0M736.3,954.9h0M736.3,952.3h0M736.3,949.7h0M736.3,948.7h0M737.8,962.1h0M737.8,959.5h0M737.8,956.9h0M737.8,954.3h0M737.8,952.4h0M741.0,965.1h0M741.0,962.5h0M741.0,959.9h0M741.0,957.3h0M741.0,954.7h0M741.0,952.1h0M741.0,951.8h0M741.9,970.8h0M741.9,968.2h0M741.9,965.6h0M741.9,963.0h0M741.9,960.4h0M741.9,957.8h0M741.9,956.8h0M744.0,985.1h0M744.0,982.5h0M744.0,979.9h0M744.0,977.3h0M744.0,976.3h0M746.4,983.6h0M746.4,981.0h0M746.4,978.4h0M746.4,975.8h0M746.4,973.2h0M746.4,972.8h0M748.9,942.7h0M748.9,940.1h0M748.9,937.5h0M748.9,934.9h0M748.9,932.3h0M748.9,929.7h0M748.9,927.1h0M748.9,924.5h0M748.9,921.9h0M748.9,919.3h0M748.9,918.9h0M750.2,943.3h0M750.2,940.7h0M750.2,938.1h0M750.2,936.5h0M752.4,947.7h0M752.4,945.1h0M752.4,942.5h0M752.4,939.9h0M752.4,937.3h0M752.4,934.7h0M752.4,932.1h0M752.4,929.5h0M752.4,926.9h0M752.4,926.7h0M754.4,952.8h0M754.4,950.2h0M754.4,947.6h0M754.4,945.0h0M754.4,942.4h0M754.4,941.0h0M757.1,914.8h0M757.1,912.2h0M757.1,909.6h0M757.1,907.0h0M757.1,904.4h0M757.1,901.8h0M757.1,899.2h0M757.1,896.6h0M757.1,894.0h0M757.1,891.4h0M757.1,890.0h0M759.2,948.1h0M759.2,945.5h0M759.2,942.9h0M759.2,940.3h0M759.2,937.7h0M759.2,935.1h0M759.2,934.7h0M759.9,965.0h0M759.9,962.4h0M759.9,959.8h0M759.9,957.2h0M759.9,954.6h0M759.9,954.2h0M762.4,969.1h0M762.4,966.5h0M762.4,963.9h0M762.4,961.3h0M762.4,958.7h0M762.4,957.5h0M765.2,971.8h0M765.2,969.8h0M766.6,947.0h0M766.6,944.6h0M769.0,909.4h0M769.0,906.8h0M769.0,904.2h0M769.0,901.6h0M769.0,899.0h0M769.0,896.4h0M769.0,893.8h0M769.0,891.2h0M769.0,890.4h0M770.1,906.4h0M770.1,903.8h0M770.1,901.2h0M770.1,898.6h0M770.1,896.0h0M770.1,893.4h0M770.1,890.8h0M770.1,888.8h0M772.1,923.6h0M772.1,921.0h0M772.1,918.4h0M772.1,915.8h0M772.1,913.2h0M772.1,910.8h0M774.3,944.4h0M774.3,941.8h0M774.3,939.2h0M774.3,936.6h0M774.3,934.0h0M774.3,931.4h0M774.3,928.8h0M774.3,928.1h0M776.1,965.1h0M776.1,962.5h0M776.1,959.9h0M776.1,957.3h0M776.1,954.7h0M776.1,952.1h0M776.1,950.2h0M778.1,977.0h0M778.1,974.4h0M778.1,971.8h0M778.1,969.2h0M781.0,986.6h0M781.0,984.0h0M781.0,981.4h0M781.0,978.8h0M781.0,976.2h0M781.0,974.6h0M782.7,994.6h0M782.7,992.0h0M782.7,989.4h0M782.7,986.8h0M782.7,985.3h0M784.0,998.5h0M784.0,995.9h0M784.0,993.3h0M784.0,993.2h0M786.5,995.6h0M786.5,993.0h0M786.5,990.4h0M786.5,987.8h0M786.5,986.9h0M788.0,989.0h0M788.0,987.4h0M790.8,993.1h0M790.8,990.5h0M790.8,990.5h0M792.1,987.2h0M792.1,984.6h0M792.1,982.0h0M792.1,979.4h0M792.1,976.8h0M792.1,975.7h0M794.3,978.6h0M794.3,976.0h0M794.3,973.4h0M794.3,970.8h0M794.3,968.2h0M794.3,965.8h0M797.0,980.6h0M797.0,978.0h0M797.0,975.4h0M797.0,972.8h0M797.0,970.2h0M797.0,969.9h0M798.9,984.3h0M798.9,981.7h0M798.9,979.1h0M798.9,976.5h0M798.9,975.1h0M799.8,958.9h0M799.8,956.3h0M799.8,953.7h0M799.8,951.1h0M799.8,948.5h0M799.8,948.2h0M802.6,941.6h0M802.6,939.0h0M802.6,936.4h0M802.6,933.8h0M802.6,931.2h0M802.6,928.6h0M802.6,926.0h0M802.6,925.5h0M804.3,946.1h0M804.3,943.5h0M804.3,940.9h0M804.3,938.3h0M804.3,937.9h0M805.8,959.2h0M805.8,956.6h0M805.8,954.0h0M805.8,951.4h0M805.8,950.1h0M808.3,961.7h0M808.3,959.1h0M808.3,956.5h0M808.3,953.9h0M808.3,953.2h0M810.8,957.4h0M810.8,954.8h0M810.8,952.2h0M810.8,949.6h0M810.8,947.0h0M810.8,946.1h0M813.2,956.4h0M813.2,953.8h0M813.2,951.2h0M813.2,948.6h0M813.2,946.2h0M815.1,948.2h0M815.1,945.6h0M815.1,943.0h0M815.1,940.4h0M815.1,937.8h0M815.1,935.2h0M815.1,932.6h0M815.1,930.8h0M816.7,923.8h0M816.7,921.2h0M816.7,918.6h0M816.7,916.0h0M816.7,913.4h0M816.7,910.8h0M816.7,908.2h0M816.7,905.6h0M816.7,903.0h0M816.7,902.7h0M818.9,933.8h0M818.9,931.2h0M818.9,928.6h0M818.9,926.0h0M818.9,923.4h0M818.9,920.8h0M818.9,918.2h0M818.9,917.4h0M820.6,966.4h0M820.6,963.8h0M820.6,961.2h0M820.6,958.6h0M820.6,958.0h0M822.5,984.7h0M822.5,982.1h0M822.5,979.5h0M822.5,976.9h0M822.5,976.3h0M823.9,987.6h0M823.9,985.0h0M823.9,982.9h0M826.3,988.6h0M826.3,986.3h0M828.9,989.5h0M828.9,986.9h0M828.9,984.3h0M828.9,982.3h0M830.2,990.3h0M830.2,987.7h0M830.2,985.1h0M830.2,982.5h0M830.2,982.3h0M832.2,981.7h0M832.2,979.1h0M832.2,976.5h0M832.2,973.9h0M832.2,971.3h0M832.2,970.4h0M833.9,971.3h0M833.9,968.7h0M833.9,966.1h0M833.9,963.5h0M833.9,960.9h0M833.9,959.6h0M836.7,973.8h0M836.7,971.2h0M836.7,968.6h0M836.7,966.0h0M836.7,963.4h0M836.7,962.2h0M839.1,977.3h0M839.1,974.7h0M839.1,972.1h0M839.1,969.5h0M839.1,966.9h0M839.1,964.5h0M841.0,982.4h0M841.0,979.8h0M841.0,977.2h0M841.0,974.6h0M841.0,972.6h0M842.7,979.5h0M842.7,976.9h0M842.7,974.3h0M842.7,971.7h0M842.7,969.1h0M842.7,969.0h0M844.5,972.4h0M844.5,969.8h0M844.5,967.2h0M844.5,967.1h0M846.1,953.2h0M846.1,950.6h0M846.1,948.0h0M846.1,945.4h0M846.1,942.8h0M846.1,940.2h0M846.1,937.6h0M846.1,935.0h0M848.6,942.8h0M848.6,940.2h0M848.6,937.6h0M848.6,935.0h0M848.6,932.4h0M848.6,929.8h0M848.6,927.2h0M848.6,924.6h0M848.6,922.0h0M848.6,920.4h0M849.8,961.8h0M849.8,959.2h0M849.8,956.6h0M849.8,954.0h0M849.8,951.6h0M852.0,976.7h0M852.0,974.1h0M852.0,971.5h0M852.0,968.9h0M852.0,968.9h0M855.1,981.5h0M855.1,978.9h0M855.1,976.3h0M855.1,973.7h0M855.1,971.6h0M856.7,989.5h0M856.7,986.9h0M856.7,984.3h0M856.7,981.7h0M856.7,979.3h0M858.0,998.0h0M858.0,995.4h0M858.0,993.1h0M860.6,998.8h0M860.6,996.2h0M860.6,993.6h0M860.6,992.1h0M862.3,1000.3h0M862.3,997.7h0M862.3,995.1h0M862.3,993.7h0M864.1,1002.8h0M864.1,1000.2h0M864.1,997.6h0M864.1,995.7h0M866.2,1003.6h0M866.2,1001.0h0M866.2,999.9h0M869.1,1003.6h0M869.1,1001.0h0M869.1,998.4h0M869.1,997.9h0M870.7,1002.0h0M870.7,999.4h0M870.7,999.3h0M872.1,1000.0h0M872.1,997.4h0M872.1,994.8h0M872.1,992.7h0M874.6,996.9h0M874.6,995.1h0M877.0,997.1h0M877.0,994.5h0M877.0,991.9h0M877.0,989.3h0M877.0,988.6h0M878.4,999.7h0M878.4,997.1h0M878.4,994.5h0M878.4,992.2h0M880.5,1001.3h0M880.5,998.7h0M880.5,996.2h0M882.2,1003.7h0M882.2,1001.1h0M882.2,998.5h0M882.2,996.1h0M884.6,1009.3h0M884.6,1006.7h0M884.6,1006.2h0M886.1,1011.5h0M886.1,1008.9h0M886.1,1006.3h0M886.1,1005.5h0M888.0,1009.7h0M888.0,1008.9h0M890.6,1006.2h0M890.6,1003.6h0M890.6,1001.0h0M890.6,1001.0h0M892.1,1007.4h0M892.1,1004.8h0M892.1,1004.7h0M894.7,1012.1h0M894.7,1009.5h0M894.7,1007.8h0M896.8,1011.5h0M896.8,1008.9h0M896.8,1006.7h0M898.5,1010.8h0M898.5,1009.7h0M901.1,1010.2h0M901.1,1007.6h0M901.1,1005.0h0M901.1,1004.6h0M903.0,1009.7h0M903.0,1007.1h0M903.0,1006.3h0M905.1,1008.4h0M905.1,1005.8h0M905.1,1003.2h0M905.1,1002.7h0M906.8,1006.6h0M906.8,1004.0h0M906.8,1003.2h0M908.5,1003.2h0M908.5,1000.6h0M908.5,998.0h0M908.5,995.4h0M908.5,995.4h0M910.1,998.9h0M910.1,996.4h0M911.9,996.0h0M911.9,993.4h0M911.9,992.5h0M914.7,999.7h0M914.7,997.1h0M914.7,996.6h0M916.9,1002.9h0M916.9,1000.7h0M918.9,1002.1h0M918.9,999.5h0M918.9,996.9h0M918.9,994.7h0M920.8,1003.3h0M920.8,1000.7h0M920.8,998.1h0M920.8,995.8h0M923.1,1007.2h0M923.1,1004.6h0M923.1,1002.0h0M923.1,1000.1h0M925.2,1005.4h0M925.2,1002.8h0M925.2,1000.2h0M925.2,999.4h0M925.9,1004.3h0M925.9,1002.2h0M928.1,1007.5h0M928.1,1006.0h0M930.4,1010.1h0M930.4,1007.5h0M930.4,1006.4h0M932.8,1011.7h0M932.8,1009.1h0M932.8,1006.8h0M934.4,1011.4h0M934.4,1010.0h0M936.3,1009.8h0M936.3,1007.2h0M936.3,1005.2h0M938.6,1012.6h0M938.6,1010.9h0M940.8,1016.2h0M940.8,1013.6h0M940.8,1013.2h0M961.1,1016.9h0M961.1,1014.3h0M961.1,1013.5h0M961.9,1014.5h0M961.9,1011.9h0M961.9,1009.3h0M961.9,1008.8h0M964.8,1013.1h0M964.8,1010.5h0M964.8,1007.9h0M964.8,1007.7h0M966.0,1012.0h0M966.0,1009.4h0M966.0,1009.0h0M968.3,1014.6h0M968.3,1012.0h0M968.3,1010.9h0M971.1,1017.1h0M971.1,1014.5h0M971.1,1012.9h0M972.2,1018.0h0M972.2,1015.4h0M972.2,1015.3h0M974.8,1018.8h0M974.8,1016.2h0M974.8,1015.7h0M978.6,1019.6h0M978.6,1017.0h0M978.6,1015.8h0M980.3,1018.6h0M980.3,1016.3h0M982.5,1017.5h0M982.5,1014.9h0M982.5,1013.0h0M984.4,1016.1h0M984.4,1015.2h0M986.7,1014.6h0M986.7,1012.1h0M988.2,1013.9h0M988.2,1012.6h0M990.5,1019.3h0M990.5,1018.2h0M1258.6,1019.1h0M1258.6,1016.5h0M1258.6,1014.4h0M1261.1,1019.4h0M1261.1,1016.8h0M1261.1,1016.8h0M1300.3,1019.1h0M1300.3,1018.1h0M1301.8,1018.5h0M1301.8,1015.9h0M1301.8,1014.5h0M1304.3,1017.8h0M1304.3,1015.2h0M1304.3,1013.8h0M1306.2,1017.2h0M1306.2,1016.8h0M1308.3,1016.7h0M1308.3,1014.1h0M1308.3,1013.6h0M1309.9,1016.7h0M1309.9,1014.1h0M1309.9,1013.4h0M1313.2,1016.7h0M1313.2,1014.7h0M1314.5,1016.7h0M1314.5,1014.1h0M1314.5,1013.7h0M1316.2,1016.6h0M1316.2,1015.5h0M1318.8,1016.3h0M1318.8,1013.7h0M1318.8,1011.5h0M1319.9,1015.8h0M1319.9,1013.2h0M1319.9,1012.5h0M1322.9,1015.4h0M1322.9,1012.8h0M1322.9,1012.5h0M1324.6,1013.5h0M1324.6,1010.9h0M1324.6,1010.1h0M1326.7,1008.0h0M1326.7,1005.4h0M1326.7,1002.8h0M1326.7,1001.4h0M1327.9,1004.1h0M1327.9,1001.5h0M1327.9,998.9h0M1327.9,997.9h0M1330.9,1001.7h0M1330.9,1000.8h0M1333.0,1002.2h0M1333.0,999.6h0M1333.0,997.1h0M1335.1,1003.7h0M1335.1,1001.1h0M1335.1,998.5h0M1335.1,996.5h0M1337.2,1005.2h0M1337.2,1002.6h0M1337.2,1001.0h0M1339.0,1007.2h0M1339.0,1004.6h0M1339.0,1002.0h0M1339.0,1001.2h0M1340.9,1011.1h0M1340.9,1009.2h0M1343.2,1013.2h0M1343.2,1010.6h0M1343.2,1010.0h0M1344.1,1012.4h0M1344.1,1009.8h0M1344.1,1007.2h0M1344.1,1006.8h0M1346.2,1010.7h0M1346.2,1008.1h0M1346.2,1007.0h0M1348.2,1008.3h0M1348.2,1005.7h0M1348.2,1004.0h0M1350.0,1007.3h0M1350.0,1004.7h0M1350.0,1002.1h0M1350.0,1001.8h0M1352.4,1006.5h0M1352.4,1004.0h0M1354.3,1005.0h0M1354.3,1003.3h0M1357.0,1003.4h0M1357.0,1000.8h0M1357.0,998.2h0M1357.0,995.7h0M1357.8,1002.3h0M1357.8,999.7h0M1357.8,999.1h0M1361.1,1001.9h0M1361.1,999.3h0M1361.1,996.7h0M1361.1,994.1h0M1361.1,994.0h0M1362.0,1001.4h0M1362.0,998.8h0M1362.0,996.2h0M1362.0,994.8h0M1365.1,1001.9h0M1365.1,999.3h0M1365.1,998.1h0M1365.8,1002.7h0M1365.8,1000.1h0M1365.8,997.5h0M1365.8,994.9h0M1365.8,994.2h0M1368.4,1007.0h0M1368.4,1004.4h0M1368.4,1004.3h0M1370.9,1010.2h0M1370.9,1007.6h0M1370.9,1007.3h0M1372.9,1005.4h0M1372.9,1002.8h0M1372.9,1001.2h0M1374.5,1002.7h0M1374.5,1000.1h0M1374.5,1000.0h0M1376.8,1003.4h0M1376.8,1000.8h0M1376.8,998.2h0M1376.8,995.6h0M1376.8,995.4h0M1378.0,1004.1h0M1378.0,1002.2h0M1380.3,1004.8h0M1380.3,1002.2h0M1380.3,999.6h0M1380.3,999.1h0M1382.5,1004.3h0M1382.5,1001.7h0M1382.5,1000.1h0M1385.2,1003.4h0M1385.2,1000.8h0M1385.2,998.2h0M1385.2,997.7h0M1386.6,998.7h0M1386.6,996.1h0M1386.6,994.8h0M1388.6,995.6h0M1388.6,993.0h0M1388.6,991.1h0M1390.0,997.2h0M1390.0,994.6h0M1390.0,992.0h0M1390.0,989.4h0M1390.0,989.2h0M1392.8,998.5h0M1392.8,995.9h0M1392.8,993.3h0M1392.8,992.5h0M1394.9,999.5h0M1394.9,999.0h0M1396.5,1000.6h0M1396.5,998.0h0M1396.5,995.4h0M1398.9,998.8h0M1398.9,996.2h0M1398.9,993.6h0M1398.9,992.1h0M1400.5,996.4h0M1400.5,994.7h0M1402.3,991.6h0M1402.3,990.1h0M1403.8,986.8h0M1403.8,984.2h0M1403.8,981.6h0M1403.8,980.4h0M1406.4,982.1h0M1406.4,979.5h0M1406.4,976.9h0M1406.4,975.6h0M1409.1,981.7h0M1409.1,979.1h0M1409.1,976.5h0M1409.1,973.9h0M1409.1,971.3h0M1409.1,971.3h0M1410.5,986.4h0M1410.5,983.8h0M1410.5,981.2h0M1410.5,979.7h0M1413.1,989.0h0M1413.1,986.4h0M1413.1,983.8h0M1413.1,981.2h0M1413.1,979.6h0M1415.2,990.5h0M1415.2,987.9h0M1415.2,985.3h0M1415.2,982.7h0M1415.2,980.1h0M1415.2,979.8h0M1416.0,994.1h0M1416.0,991.5h0M1416.0,989.3h0M1417.9,996.8h0M1417.9,994.2h0M1417.9,991.6h0M1417.9,989.0h0M1417.9,988.1h0M1420.8,991.2h0M1420.8,988.6h0M1420.8,986.0h0M1420.8,984.8h0M1422.3,987.3h0M1422.3,984.7h0M1422.3,982.1h0M1422.3,979.5h0M1422.3,979.5h0M1424.2,986.5h0M1424.2,983.9h0M1424.2,981.3h0M1424.2,978.7h0M1424.2,976.1h0M1424.2,975.3h0M1427.0,984.8h0M1427.0,982.2h0M1427.0,979.6h0M1427.0,977.0h0M1427.0,976.3h0M1428.3,982.5h0M1428.3,979.9h0M1428.3,978.6h0M1430.6,982.0h0M1430.6,979.4h0M1430.6,976.8h0M1430.6,974.2h0M1430.6,973.5h0M1432.4,981.9h0M1432.4,979.3h0M1432.4,976.9h0M1433.9,975.8h0M1433.9,973.2h0M1433.9,973.0h0M1436.0,972.7h0M1436.0,970.1h0M1436.0,967.5h0M1436.0,964.9h0M1436.0,964.4h0M1438.2,980.5h0M1438.2,977.9h0M1438.2,975.3h0M1438.2,972.7h0M1438.2,970.1h0M1438.2,967.5h0M1438.2,967.3h0M1440.9,985.6h0M1440.9,983.0h0M1440.9,980.4h0M1440.9,980.0h0M1442.2,987.1h0M1442.2,984.5h0M1442.2,981.9h0M1442.2,979.3h0M1442.2,977.4h0M1444.7,986.0h0M1444.7,983.4h0M1444.7,980.8h0M1444.7,978.2h0M1444.7,975.6h0M1444.7,975.4h0M1446.7,983.6h0M1446.7,981.0h0M1446.7,978.4h0M1446.7,976.5h0M1448.2,981.2h0M1448.2,978.6h0M1448.2,976.0h0M1448.2,975.6h0M1450.4,979.3h0M1450.4,976.7h0M1450.4,974.1h0M1450.4,971.5h0M1450.4,968.9h0M1450.4,966.9h0M1452.0,982.4h0M1452.0,979.8h0M1452.0,977.2h0M1452.0,974.6h0M1452.0,972.0h0M1452.0,970.7h0M1453.9,985.0h0M1453.9,982.4h0M1453.9,981.4h0M1456.6,986.6h0M1456.6,984.0h0M1456.6,981.4h0M1456.6,978.8h0M1456.6,977.1h0M1457.9,985.2h0M1457.9,984.5h0M1460.5,981.3h0M1460.5,978.7h0M1460.5,976.1h0M1460.5,973.5h0M1460.5,970.9h0M1460.5,969.9h0" fill="none" stroke="#1f77b4" stroke-width="5.5" stroke-linecap="round"/><path d="M116.4,1011.3L116.4,1009.0L118.6,1005.1L119.6,1000.5L120.8,1001.6L121.7,1004.7L123.0,997.1L123.9,996.2L125.2,999.1L126.0,1004.7L127.4,999.3L129.2,994.1L129.6,991.7L131.8,984.4L132.4,983.4L134.0,987.1L134.5,989.8L136.2,984.8L138.4,981.6L138.8,982.3L140.6,984.9L142.0,985.5L142.8,995.0L144.1,1000.5L145.0,999.6L147.2,987.5L147.3,985.5L149.4,970.6L150.5,964.2L151.6,970.0L152.7,981.3L153.8,986.4L154.8,994.1L156.0,991.5L156.9,991.9L158.2,967.2L159.1,953.6L160.4,977.5L161.2,996.2L162.6,983.5L163.3,977.0L164.8,984.1L166.5,987.7L167.0,988.2L169.2,984.2L169.7,985.5L171.4,988.8L172.9,994.1L173.6,995.9L175.8,1001.3L176.1,1002.6L178.0,969.1L178.2,966.3L180.2,976.4L181.4,983.4L182.4,983.2L183.6,977.0L184.6,979.1L186.8,977.0L186.8,976.8L189.0,973.2L191.0,974.9L191.2,971.0L193.4,972.9L194.2,979.1L195.6,976.1L197.4,983.4L197.8,979.0L199.1,968.5L200.0,980.2L201.7,1002.6L202.2,999.0L203.8,987.7L204.4,987.6L206.6,992.4L207.0,994.1L208.8,992.6L210.2,994.1L211.0,986.4L213.2,973.2L214.5,968.5L215.4,969.1L217.6,977.0L217.7,979.1L219.8,990.1L220.9,1000.5L222.0,993.0L224.1,987.7L224.2,986.6L226.2,998.3L226.4,999.8L228.6,996.7L229.4,991.9L230.8,988.1L232.6,974.9L233.0,982.6L235.2,1001.0L235.8,1004.7L237.4,994.6L238.0,989.8L239.6,975.8L241.2,966.3L241.8,971.3L244.0,993.9L244.4,1002.6L246.2,994.4L247.6,991.9L248.4,987.8L250.6,976.4L251.8,966.3L252.8,972.8L255.0,979.0L256.1,981.3L257.2,984.6L259.3,987.7L259.4,987.0L261.4,981.3L261.6,981.3L263.6,987.7L263.8,986.1L265.7,979.1L266.0,981.9L268.2,994.4L268.9,996.2L270.4,1006.4L272.1,1015.4L272.6,1016.4L274.8,1021.9L275.3,1021.8L277.0,1017.3L278.5,1011.1L279.2,1008.9L281.4,997.0L281.7,994.1L283.6,1009.5L284.9,1017.5L285.3,1017.5L285.8,1014.2L287.5,1002.6L288.0,1002.3L290.2,1001.1L290.7,1001.5L292.4,1003.1L293.9,1004.7L294.6,1006.5L296.8,1012.7L297.1,1013.3L299.0,1006.3L299.2,1005.8L301.2,1017.1L301.3,1017.5L303.4,1015.0L304.5,1012.2L305.6,1009.8L307.7,1004.7L307.8,1002.1L309.9,1017.5L310.0,1010.2L312.0,977.0L312.2,972.5L314.1,974.9L314.4,974.3L316.3,987.7L316.6,988.4L318.4,1004.7L318.8,997.6L320.5,973.8L321.0,980.9L322.7,1009.0L323.2,1005.9L324.8,998.3L325.4,1003.8L326.9,1017.5L327.6,1007.9L329.1,987.7L329.8,990.9L332.0,1004.5L332.2,1004.7L334.2,985.9L335.0,972.7L336.4,987.6L337.6,996.2L338.6,1003.5L339.7,1013.3L340.8,999.4L341.8,987.7L343.0,1005.4L344.0,1017.5L345.2,999.3L347.2,964.2L347.4,969.2L349.3,1004.7L349.6,1000.4L351.4,981.3L351.8,982.3L353.6,991.9L354.0,988.5L356.2,968.0L356.8,962.1L358.4,993.9L359.3,1013.3L360.6,990.3L362.8,953.5L363.2,947.2L365.0,950.7L366.4,953.6L367.2,961.1L369.4,980.6L369.6,981.3L371.6,1005.6L371.7,1004.7L373.8,976.1L373.8,974.9L376.0,981.3L377.0,983.4L378.2,991.5L380.2,1004.7L380.4,1006.5L382.4,1017.5L382.6,1015.7L384.5,1006.9L384.8,1007.0L386.6,1019.7L387.0,1012.8L389.2,984.7L389.8,977.0L391.4,1007.2L392.0,1017.5L393.6,1001.6L395.2,985.5L395.8,984.4L398.0,980.5L398.4,981.3L400.2,980.8L401.6,983.4L402.4,971.0L403.7,949.3L404.6,943.6L406.8,920.8L407.5,910.9L409.0,926.3L409.7,932.2L411.2,921.7L412.2,915.2L413.4,896.0L414.8,874.6L415.6,908.9L417.6,991.9L417.8,990.5L420.0,974.1L420.8,970.6L422.2,953.5L423.3,947.2L424.4,991.6L425.0,1021.8L426.6,1021.7L428.8,1024.0L429.3,1023.9L431.0,1024.2L433.2,1024.1L435.4,1024.1L437.6,1024.2L437.8,1023.9L439.8,1024.2L442.0,1024.7L443.1,1023.9L444.2,977.7L445.3,930.1L446.4,946.9L448.5,977.0L448.6,971.6L449.5,934.4L450.8,961.4L451.7,981.3L453.0,961.8L454.5,942.9L455.2,965.3L456.4,1000.5L457.4,1009.6L458.5,1019.7L459.6,1020.2L461.8,1021.1L462.8,1021.8L464.0,1023.2L466.0,1023.9L466.2,1018.0L468.4,953.3L468.8,942.9L470.6,969.3L471.3,981.3L472.8,963.1L473.0,962.1L474.5,998.3L475.0,924.6L475.4,864.0L475.8,795.7L477.2,798.0L477.3,795.7L477.7,842.7L478.8,889.6L479.4,890.3L481.6,887.0L482.0,887.4L483.1,915.2L483.8,925.6L485.2,947.2L486.0,937.8L487.3,921.6L488.2,922.7L489.5,923.7L490.4,935.0L491.6,947.2L492.6,944.7L494.8,940.8L494.8,939.0L496.9,949.3L497.0,948.5L499.2,963.6L500.1,972.7L501.4,952.8L503.3,932.2L503.6,927.5L505.8,921.5L505.9,921.6L508.0,970.9L508.6,983.4L510.2,959.3L510.8,945.0L512.4,953.1L514.0,953.6L514.6,959.1L516.8,968.5L517.2,970.6L519.0,943.5L520.4,928.0L521.2,930.5L523.4,947.6L523.6,953.6L525.6,955.4L526.8,959.9L527.8,966.1L530.0,979.1L530.0,979.8L532.1,987.7L532.2,987.5L534.2,998.3L534.4,993.0L536.4,964.2L536.6,965.0L538.5,996.2L538.8,995.2L541.0,1000.0L541.7,1000.5L543.2,994.5L543.8,991.9L545.4,1005.9L546.0,1009.0L547.6,1001.3L549.2,987.7L549.8,989.9L552.0,982.6L552.4,981.3L554.2,982.5L555.6,985.5L556.4,983.0L558.6,979.3L558.8,979.1L560.8,978.8L563.0,978.5L563.0,977.0L565.2,975.7L566.2,970.6L567.4,980.4L568.4,981.3L569.6,976.8L570.5,968.5L571.8,963.0L573.7,951.4L574.0,953.7L576.2,969.0L576.9,974.9L578.4,941.0L579.0,925.8L580.6,938.9L582.2,949.3L582.8,956.2L585.0,967.9L585.4,968.5L587.2,966.8L588.6,962.1L589.4,960.5L591.6,953.5L592.9,947.2L593.8,954.7L596.0,967.7L597.2,974.9L598.2,976.0L600.4,978.7L601.4,981.3L602.6,985.4L604.6,996.2L604.8,994.1L607.0,961.9L607.2,957.8L609.2,979.8L609.9,983.4L611.4,979.2L613.6,972.4L614.2,972.7L615.8,973.7L617.4,979.1L618.0,975.6L620.2,959.9L620.2,961.4L622.4,982.1L622.7,983.4L624.6,970.3L624.9,966.3L626.5,964.1L626.8,966.9L628.7,980.1L629.0,980.6L630.9,959.8L631.2,964.2L633.1,958.3L633.4,959.2L634.5,946.7L635.6,949.9L636.7,952.5L637.8,949.4L638.9,946.7L640.0,936.0L640.3,935.1L642.2,959.7L643.2,975.7L644.4,964.0L645.4,952.5L646.6,948.4L646.8,942.4L648.8,964.1L649.0,961.2L650.5,974.3L651.0,969.6L652.6,942.4L653.2,953.3L654.8,968.5L655.4,957.7L656.3,930.8L657.6,958.0L658.4,967.0L659.8,951.3L659.9,945.3L662.0,956.1L662.1,952.5L664.2,966.4L665.0,967.0L666.4,954.7L667.1,948.2L668.6,938.1L670.0,932.2L670.8,944.8L672.2,977.2L673.0,962.0L674.4,938.0L675.2,944.4L676.6,958.3L677.4,953.7L678.7,951.1L679.6,940.0L680.2,935.1L681.8,946.0L682.4,948.2L683.8,927.9L684.0,932.9L686.2,949.3L686.7,949.6L688.4,965.0L689.6,972.8L690.6,970.5L692.5,961.2L692.8,960.0L694.7,935.1L695.0,935.9L696.9,930.8L697.2,926.4L699.1,880.0L699.4,889.7L700.5,916.3L701.6,938.7L702.7,959.8L703.8,966.2L704.1,968.5L706.0,935.9L706.3,930.8L707.8,956.9L708.2,951.7L709.2,940.9L710.4,941.1L711.4,942.4L712.6,913.6L712.8,906.1L714.8,960.4L715.0,964.1L717.0,964.6L717.2,961.2L719.2,923.9L719.4,919.2L720.8,962.7L721.4,958.6L722.3,948.2L723.6,931.5L723.7,930.8L725.8,970.9L725.9,974.3L728.0,953.5L728.1,955.4L730.2,991.9L730.2,993.1L732.4,981.3L732.4,981.5L734.6,1001.8L734.6,1002.6L736.8,974.3L736.8,974.4L738.9,985.9L739.0,987.8L741.1,1012.0L741.2,1015.5L743.3,1010.5L743.4,1015.0L745.6,1016.4L746.2,1015.6L747.8,993.9L748.4,985.9L750.0,988.7L750.5,987.3L752.2,996.9L752.7,994.6L754.2,981.5L754.4,981.4L756.6,949.7L757.1,943.8L758.8,957.0L759.3,964.1L760.7,994.6L761.0,988.3L762.2,975.7L763.2,989.4L763.6,998.9L765.1,985.9L765.4,984.2L766.5,987.3L767.6,981.8L768.7,980.1L769.8,943.9L770.9,909.0L772.0,928.4L773.0,942.4L774.2,960.5L775.2,972.8L776.4,980.4L777.4,988.8L778.6,996.8L779.6,1007.6L780.8,1009.5L782.5,1013.4L783.0,1014.2L785.2,1015.5L785.4,1016.4L787.4,1004.6L788.3,1001.8L789.6,999.4L790.4,998.9L791.8,1009.6L792.6,1016.4L794.0,1004.2L794.8,996.0L796.2,1009.6L796.8,1013.8L798.4,1007.3L799.4,1000.1L800.6,1000.0L801.1,1000.1L802.8,962.6L802.8,961.9L805.0,985.0L805.4,989.9L807.1,972.8L807.2,971.6L809.4,988.8L809.6,993.3L811.6,978.9L813.0,974.6L813.8,974.2L815.3,979.7L816.0,960.6L817.0,943.8L818.2,977.6L819.0,1000.1L820.4,999.3L821.6,996.7L822.6,1003.3L824.8,1011.0L825.0,1010.4L827.0,1001.4L827.5,998.4L829.2,1000.0L830.1,1003.6L831.4,999.1L832.7,1000.1L833.6,992.4L835.7,978.0L835.8,979.2L838.0,994.0L838.6,996.7L840.2,1001.3L841.2,1001.9L842.4,995.5L844.6,982.5L844.6,983.1L846.8,971.2L847.2,967.7L849.0,996.0L849.7,1003.6L851.2,1000.6L852.3,998.4L853.4,994.2L854.5,995.0L855.6,1000.3L857.4,1013.8L857.8,1013.0L860.0,1010.4L860.0,1009.9L862.2,1002.6L862.5,1001.9L864.4,1009.4L865.1,1013.8L866.6,1013.0L867.6,1013.8L868.8,1015.6L870.2,1017.2L871.0,1016.7L873.2,1008.9L873.6,1007.0L875.4,1007.6L877.0,1008.7L877.6,1007.4L879.8,1010.8L882.0,1014.0L882.1,1015.5L884.2,1017.3L885.5,1018.9L886.4,1018.1L888.6,1017.3L889.0,1017.2L890.8,1016.5L891.5,1015.5L893.0,1018.0L894.1,1018.9L895.2,1019.0L897.4,1017.3L899.2,1017.2L899.6,1016.0L901.8,1015.8L902.6,1017.2L904.0,1016.7L906.0,1017.2L906.2,1016.9L908.4,1014.6L909.4,1012.1L910.6,1010.3L911.1,1008.7L912.8,1014.2L913.7,1017.2L915.0,1016.7L916.3,1017.2L917.2,1016.7L919.4,1015.8L919.7,1015.5L921.6,1014.5L923.1,1013.8L923.8,1013.9L925.6,1012.1L926.0,1013.8L928.2,1021.5L928.2,1020.6L930.4,1016.6L930.8,1015.5L932.6,1018.9L933.3,1018.9L934.8,1019.1L936.7,1018.9L937.0,1019.2L939.2,1021.0L940.1,1022.3L941.4,1022.8L943.6,1023.7L945.3,1024.0L945.8,1024.2L948.0,1023.7L950.2,1023.2L950.4,1024.0L952.4,1022.9L954.6,1022.1L955.5,1022.3L956.8,1021.9L959.0,1021.6L960.6,1022.3L961.2,1021.2L963.4,1019.9L964.0,1020.6L965.6,1017.2L966.2,1016.5L967.8,1022.3L968.8,1026.3L970.0,1024.8L972.2,1022.5L974.1,1021.0L974.4,1020.8L976.6,1021.1L978.8,1021.7L981.0,1022.8L981.2,1023.6L983.2,1023.4L985.4,1023.7L987.6,1023.4L988.3,1021.8L989.8,1023.7L992.0,1024.2L994.2,1025.3L995.3,1026.3L996.4,1026.0L998.6,1025.9L1000.8,1025.2L1002.4,1024.5L1003.0,1024.7L1005.2,1025.3L1007.4,1026.4L1009.5,1026.3L1009.6,1027.0L1011.8,1026.3L1014.0,1025.4L1016.2,1025.0L1016.5,1025.4L1018.4,1025.5L1020.6,1026.3L1022.8,1027.3L1023.6,1027.1L1025.0,1027.6L1027.2,1027.4L1029.4,1026.8L1030.6,1026.3L1031.6,1026.6L1033.8,1026.6L1036.0,1026.9L1037.7,1027.1L1038.2,1027.3L1040.4,1027.5L1042.6,1027.0L1044.8,1027.1L1044.8,1026.6L1047.0,1027.1L1049.2,1027.7L1051.4,1028.1L1051.8,1028.9L1053.6,1028.1L1055.8,1028.4L1058.0,1027.9L1058.9,1027.1L1060.2,1027.7L1062.4,1028.0L1064.6,1028.1L1066.0,1028.0L1066.8,1027.8L1069.0,1027.2L1071.2,1027.1L1073.0,1026.8L1073.4,1026.5L1075.6,1026.6L1077.8,1027.1L1080.0,1028.1L1082.2,1028.8L1083.6,1028.0L1084.4,1028.7L1086.6,1028.7L1088.8,1028.6L1091.0,1028.3L1093.2,1027.9L1094.2,1028.0L1095.4,1028.0L1097.6,1028.6L1099.8,1028.8L1101.3,1028.9L1102.0,1029.1L1104.2,1028.7L1106.4,1028.2L1108.6,1027.6L1110.1,1027.1L1110.8,1027.5L1113.0,1027.9L1115.2,1028.4L1117.4,1028.8L1119.0,1028.9L1119.6,1028.9L1121.8,1028.2L1124.0,1027.8L1126.2,1027.5L1127.8,1028.0L1128.4,1028.0L1130.6,1028.2L1132.8,1028.2L1135.0,1027.6L1136.6,1028.0L1137.2,1027.6L1139.4,1027.9L1141.6,1028.5L1143.8,1028.5L1145.4,1028.0L1146.0,1028.0L1148.2,1027.7L1150.4,1027.6L1152.6,1027.4L1154.3,1028.0L1154.8,1027.4L1157.0,1027.6L1159.2,1028.1L1161.4,1028.4L1163.1,1028.0L1163.6,1028.2L1165.8,1027.8L1168.0,1027.6L1170.2,1027.5L1171.9,1028.0L1172.4,1027.9L1174.6,1028.2L1176.8,1028.5L1179.0,1028.3L1180.8,1028.0L1181.2,1027.7L1183.4,1027.5L1185.6,1027.9L1187.8,1027.8L1189.6,1027.5L1190.0,1027.4L1192.2,1027.6L1194.4,1027.9L1196.6,1028.2L1198.4,1028.0L1198.8,1028.2L1201.0,1027.8L1203.2,1027.5L1205.4,1027.5L1207.3,1027.1L1207.6,1027.4L1209.8,1027.1L1212.0,1026.7L1214.2,1027.0L1216.4,1026.8L1218.6,1027.0L1218.9,1026.8L1220.8,1026.6L1223.0,1026.8L1225.2,1027.0L1227.4,1027.0L1227.8,1026.8L1229.6,1027.1L1231.8,1027.2L1234.0,1027.4L1236.2,1027.3L1236.7,1027.7L1238.4,1026.9L1240.6,1026.4L1242.8,1026.2L1245.0,1026.1L1245.6,1025.9L1247.2,1026.5L1249.4,1026.7L1251.6,1026.7L1253.8,1026.1L1254.5,1026.8L1256.0,1024.4L1258.1,1023.2L1258.2,1022.7L1260.4,1023.9L1262.6,1024.6L1263.4,1025.0L1264.8,1025.5L1267.0,1025.9L1268.7,1026.8L1269.2,1025.8L1271.4,1023.4L1272.3,1023.2L1273.6,1023.9L1275.8,1025.2L1277.6,1025.0L1278.0,1025.4L1280.2,1025.3L1282.4,1025.7L1284.6,1026.4L1284.8,1025.9L1286.8,1025.2L1288.3,1024.1L1289.0,1024.1L1291.2,1024.2L1293.4,1024.7L1295.4,1025.0L1295.6,1025.4L1297.8,1024.3L1299.0,1022.3L1300.0,1023.0L1302.2,1021.7L1302.6,1021.5L1304.4,1020.2L1306.1,1019.7L1306.6,1019.7L1308.8,1021.0L1309.7,1021.5L1311.0,1021.7L1313.2,1021.8L1313.2,1021.5L1315.4,1023.1L1316.8,1023.2L1317.6,1023.3L1319.8,1021.8L1320.4,1021.5L1322.0,1020.6L1324.2,1020.2L1325.7,1021.5L1326.4,1018.6L1328.6,1013.8L1329.3,1014.3L1330.8,1008.9L1331.9,1007.2L1333.0,1011.1L1334.6,1017.9L1335.2,1015.1L1336.4,1009.0L1337.4,1015.7L1338.2,1021.5L1339.6,1019.0L1341.7,1017.9L1341.8,1016.8L1344.0,1020.5L1345.3,1022.3L1346.2,1020.7L1348.4,1017.3L1348.8,1017.0L1350.6,1016.1L1352.4,1016.1L1352.8,1016.4L1355.0,1015.1L1356.0,1014.3L1357.2,1015.8L1359.4,1017.6L1359.5,1017.9L1361.6,1020.6L1362.2,1021.5L1363.8,1013.4L1364.9,1007.2L1366.0,1014.1L1367.5,1021.5L1368.2,1019.5L1370.2,1014.3L1370.4,1013.5L1372.6,1013.6L1374.6,1012.6L1374.8,1014.0L1377.0,1017.2L1377.3,1016.1L1379.2,1015.9L1380.9,1014.3L1381.4,1012.4L1383.5,1007.2L1383.6,1006.7L1385.3,1016.1L1385.8,1014.5L1388.0,1007.0L1388.0,1007.2L1390.2,1011.1L1390.7,1012.6L1392.4,1008.7L1393.3,1007.2L1394.6,1011.3L1396.0,1014.3L1396.8,1013.4L1399.0,1009.7L1400.5,1007.2L1401.2,1006.2L1403.4,1005.3L1405.6,1004.3L1405.8,1005.4L1407.8,997.6L1409.4,990.3L1410.0,998.2L1412.0,1009.0L1412.2,1012.5L1414.4,1005.2L1414.7,1001.9L1416.6,1009.2L1417.4,1010.8L1418.8,1010.9L1420.9,1010.8L1421.0,1010.5L1423.2,1003.8L1423.6,1003.7L1425.4,1001.8L1426.3,1000.1L1427.6,1005.8L1428.0,1005.4L1429.8,997.5L1430.4,991.2L1432.0,1007.0L1432.5,1010.8L1434.2,992.5L1435.2,980.5L1436.4,996.7L1437.8,1012.6L1438.6,1010.3L1440.5,998.3L1440.8,1000.3L1443.0,1009.4L1443.2,1010.8L1445.2,1005.9L1445.8,1005.4L1447.4,1001.3L1448.5,998.3L1449.6,1002.7L1451.2,1005.4L1451.8,1009.0L1453.0,1012.6L1454.0,1008.9L1455.6,1003.7L1456.2,1004.1L1458.3,1007.2L1458.4,1007.1L1460.6,1003.2L1461.0,1001.9" fill="none" stroke="#ff7f0e" stroke-width="2.08" stroke-linejoin="round" stroke-linecap="square"/></g><rect x="116.5" y="38.5" width="1346.0" height="480.0" fill="none" stroke="#000" stroke-width="1.11"/><rect x="116.5" y="575.5" width="1346.0" height="479.0" fill="none" stroke="#000" stroke-width="1.11"/><path d="M116.5,518.5v4.86M284.5,518.5v4.86M452.5,518.5v4.86M621.5,518.5v4.86M789.5,518.5v4.86M957.5,518.5v4.86M1125.5,518.5v4.86M1294.5,518.5v4.86M116.5,88.5h-4.86M116.5,188.5h-4.86M116.5,289.5h-4.86M116.5,389.5h-4.86M116.5,490.5h-4.86M116.5,1054.5v4.86M284.5,1054.5v4.86M452.5,1054.5v4.86M621.5,1054.5v4.86M789.5,1054.5v4.86M957.5,1054.5v4.86M1125.5,1054.5v4.86M1294.5,1054.5v4.86M116.5,1033.5h-4.86M116.5,974.5h-4.86M116.5,916.5h-4.86M116.5,858.5h-4.86M116.5,799.5h-4.86M116.5,741.5h-4.86M116.5,683.5h-4.86M116.5,624.5h-4.86" stroke="#000" stroke-width="1.11" fill="none"/><rect x="1048.0" y="49.1" width="405.1" height="78.9" rx="3.6" ry="3.6" fill="#fff" fill-opacity="0.8" stroke="#cccccc" stroke-opacity="0.8" stroke-width="1.11"/><circle cx="1073.7" cy="63.4" r="2.8" fill="#1f77b4"/><path d="M1053.8,101.3H1090.9" stroke="#ff7f0e" stroke-width="2.08" stroke-linecap="square"/><g font-family="Liberation Sans, sans-serif" font-weight="bold" fill="#000" opacity="0.999"><text transform="matrix(0.22050,0.00000,0.00000,0.18643,1105.45653,68.96357)" x="0" y="0" font-size="100" style="white-space:pre">Raw Data</text><text transform="matrix(0.22462,0.00000,0.00000,0.17568,1105.42764,95.82432)" x="0" y="0" font-size="100" style="white-space:pre">Butterworth Filtered Data</text><text transform="matrix(0.22703,0.00000,0.00000,0.17340,1105.86483,116.05851)" x="0" y="0" font-size="100" style="white-space:pre">(N=6, Tc=3.3333 min, Type: low)</text></g><rect x="1048.0" y="585.1" width="405.1" height="78.9" rx="3.6" ry="3.6" fill="#fff" fill-opacity="0.8" stroke="#cccccc" stroke-opacity="0.8" stroke-width="1.11"/><circle cx="1073.7" cy="599.4" r="2.8" fill="#1f77b4"/><path d="M1053.8,638.6H1090.9" stroke="#ff7f0e" stroke-width="2.08" stroke-linecap="square"/><g font-family="Liberation Sans, sans-serif" font-weight="bold" fill="#000" opacity="0.999"><text transform="matrix(0.22050,0.00000,0.00000,0.18643,1105.45653,604.96357)" x="0" y="0" font-size="100" style="white-space:pre">Raw Data</text><text transform="matrix(0.22462,0.00000,0.00000,0.17568,1105.42764,633.12432)" x="0" y="0" font-size="100" style="white-space:pre">Butterworth Filtered Data</text><text transform="matrix(0.22703,0.00000,0.00000,0.17340,1105.86483,653.35851)" x="0" y="0" font-size="100" style="white-space:pre">(N=6, Tc=3.3333 min, Type: low)</text></g><g font-family="Liberation Sans, sans-serif" font-weight="bold" fill="#000" opacity="0.999"><text transform="matrix(0.32734,0.00000,0.00000,0.27958,634.83594,29.62042)" x="0" y="0" font-size="100" style="white-space:pre">10.0 MHz N0000030</text><text transform="matrix(0.33125,0.00000,0.00000,0.25319,116.24375,28.48298)" x="0" y="0" font-size="100" style="white-space:pre">(a)</text><text transform="matrix(0.32288,0.00000,0.00000,0.25319,116.28559,565.68298)" x="0" y="0" font-size="100" style="white-space:pre">(b)</text><text transform="matrix(0.00000,-0.26767,0.20957,0.00000,60.39894,391.77368)" x="0" y="0" font-size="100" style="white-space:pre">Doppler Shift [Hz]</text><text transform="matrix(0.00000,-0.26999,0.21064,0.00000,39.37660,919.88991)" x="0" y="0" font-size="100" style="white-space:pre">Peak Voltage [V]</text><text transform="matrix(0.23724,0.00000,0.00000,0.22817,764.47653,1157.77183)" x="0" y="0" font-size="100" style="white-space:pre">UTC</text><text transform="matrix(0.27358,0.00000,0.00000,0.22857,72.80566,497.20000)" x="0" y="0" font-size="100" style="white-space:pre">−2</text><text transform="matrix(0.28037,0.00000,0.00000,0.23188,72.77850,397.20000)" x="0" y="0" font-size="100" style="white-space:pre">−1</text><text transform="matrix(0.27660,0.00000,0.00000,0.22535,89.79362,296.97465)" x="0" y="0" font-size="100" style="white-space:pre">0</text><text transform="matrix(0.25532,0.00000,0.00000,0.23188,91.36809,196.20000)" x="0" y="0" font-size="100" style="white-space:pre">1</text><text transform="matrix(0.24490,0.00000,0.00000,0.22857,92.16531,95.20000)" x="0" y="0" font-size="100" style="white-space:pre">2</text><text transform="matrix(0.27957,0.00000,0.00000,0.22535,50.78172,1039.97465)" x="0" y="0" font-size="100" style="white-space:pre">0.00</text><text transform="matrix(0.27128,0.00000,0.00000,0.22535,50.81489,981.97465)" x="0" y="0" font-size="100" style="white-space:pre">0.05</text><text transform="matrix(0.27957,0.00000,0.00000,0.22535,50.78172,923.97465)" x="0" y="0" font-size="100" style="white-space:pre">0.10</text><text transform="matrix(0.27128,0.00000,0.00000,0.22535,50.81489,864.97465)" x="0" y="0" font-size="100" style="white-space:pre">0.15</text><text transform="matrix(0.27957,0.00000,0.00000,0.22535,50.78172,806.97465)" x="0" y="0" font-size="100" style="white-space:pre">0.20</text><text transform="matrix(0.27128,0.00000,0.00000,0.22535,50.81489,747.97465)" x="0" y="0" font-size="100" style="white-space:pre">0.25</text><text transform="matrix(0.27957,0.00000,0.00000,0.22535,50.78172,689.97465)" x="0" y="0" font-size="100" style="white-space:pre">0.30</text><text transform="matrix(0.27128,0.00000,0.00000,0.22535,50.81489,630.97465)" x="0" y="0" font-size="100" style="white-space:pre">0.35</text><text transform="matrix(0.24204,-0.13974,0.11901,0.20614,16.96160,1133.05022)" x="0" y="0" font-size="100" style="white-space:pre">10-06 00</text><text transform="matrix(0.24204,-0.13974,0.11901,0.20614,184.96160,1133.05022)" x="0" y="0" font-size="100" style="white-space:pre">10-06 03</text><text transform="matrix(0.24204,-0.13974,0.11901,0.20614,352.96160,1132.55022)" x="0" y="0" font-size="100" style="white-space:pre">10-06 06</text><text transform="matrix(0.24204,-0.13974,0.11901,0.20614,521.46160,1133.05022)" x="0" y="0" font-size="100" style="white-space:pre">10-06 09</text><text transform="matrix(0.24204,-0.13974,0.11901,0.20614,690.46160,1133.05022)" x="0" y="0" font-size="100" style="white-space:pre">10-06 12</text><text transform="matrix(0.24141,-0.13938,0.11901,0.20614,857.96536,1132.54805)" x="0" y="0" font-size="100" style="white-space:pre">10-06 15</text><text transform="matrix(0.24141,-0.13938,0.11901,0.20614,1025.96536,1133.04805)" x="0" y="0" font-size="100" style="white-space:pre">10-06 18</text><text transform="matrix(0.24141,-0.13938,0.11901,0.20614,1195.46536,1133.04805)" x="0" y="0" font-size="100" style="white-space:pre">10-06 21</text></g></svg></body></html>
